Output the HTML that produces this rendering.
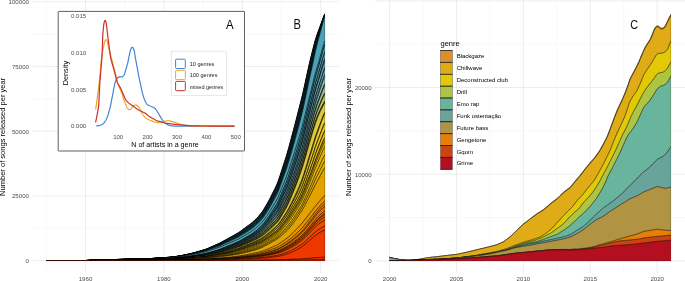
<!DOCTYPE html>
<html><head><meta charset="utf-8"><title>Figure</title>
<style>
html,body{margin:0;padding:0;background:#fff;}
body{width:685px;height:281px;overflow:hidden;font-family:"Liberation Sans", sans-serif;}
svg{display:block;font-family:"Liberation Sans", sans-serif;}
</style></head><body>
<svg width="685" height="281" viewBox="0 0 685 281">
<defs><filter id="tb" filterUnits="userSpaceOnUse" x="0" y="0" width="685" height="281"><feGaussianBlur stdDeviation="0.4"/></filter></defs>
<rect width="685" height="281" fill="#fff"/>
<line x1="32.3" x2="338.8" y1="260.50" y2="260.50" stroke="#E9E9E9" stroke-width="0.8"/>
<line x1="32.3" x2="338.8" y1="228.15" y2="228.15" stroke="#F3F3F3" stroke-width="0.55"/>
<line x1="32.3" x2="338.8" y1="195.80" y2="195.80" stroke="#E9E9E9" stroke-width="0.8"/>
<line x1="32.3" x2="338.8" y1="131.10" y2="131.10" stroke="#E9E9E9" stroke-width="0.8"/>
<line x1="32.3" x2="338.8" y1="98.75" y2="98.75" stroke="#F3F3F3" stroke-width="0.55"/>
<line x1="32.3" x2="338.8" y1="66.40" y2="66.40" stroke="#E9E9E9" stroke-width="0.8"/>
<line x1="32.3" x2="338.8" y1="34.05" y2="34.05" stroke="#F3F3F3" stroke-width="0.55"/>
<line x1="32.3" x2="338.8" y1="1.70" y2="1.70" stroke="#E9E9E9" stroke-width="0.8"/>
<line x1="46.30" x2="46.30" y1="0" y2="273" stroke="#F3F3F3" stroke-width="0.6"/>
<line x1="85.50" x2="85.50" y1="0" y2="273" stroke="#E9E9E9" stroke-width="0.8"/>
<line x1="124.70" x2="124.70" y1="0" y2="273" stroke="#F3F3F3" stroke-width="0.6"/>
<line x1="163.90" x2="163.90" y1="0" y2="273" stroke="#E9E9E9" stroke-width="0.8"/>
<line x1="203.10" x2="203.10" y1="0" y2="273" stroke="#F3F3F3" stroke-width="0.6"/>
<line x1="242.30" x2="242.30" y1="0" y2="273" stroke="#E9E9E9" stroke-width="0.8"/>
<line x1="281.50" x2="281.50" y1="0" y2="273" stroke="#F3F3F3" stroke-width="0.6"/>
<line x1="320.70" x2="320.70" y1="0" y2="273" stroke="#E9E9E9" stroke-width="0.8"/>
<clipPath id="cb"><rect x="46.1" y="0" width="278.75" height="260.6"/></clipPath>
<g clip-path="url(#cb)" stroke="#000" stroke-width="0.62" stroke-linejoin="round">
<path d="M45.7,260.6 49.7,260.6 53.7,260.6 57.7,260.6 61.7,260.6 65.7,260.6 69.7,260.6 73.7,260.6 77.7,260.5 81.7,260.5 85.7,260.5 89.7,260.4 93.7,260.3 97.7,260.2 101.7,260.1 105.7,259.9 109.7,259.7 113.7,259.6 117.7,259.4 121.7,259.3 125.7,259.2 129.7,259.1 133.7,259.0 137.7,258.9 141.7,258.8 145.7,258.7 149.7,258.6 153.7,258.3 157.7,258.1 161.7,257.8 165.7,257.5 169.7,257.2 173.7,256.8 177.7,256.2 181.7,255.5 185.7,254.6 189.7,253.8 193.7,252.8 197.7,251.7 201.7,250.5 203.2,250.0 204.7,249.6 206.2,249.1 207.7,248.5 209.2,247.8 210.7,247.1 212.2,246.5 213.7,245.8 215.2,245.1 216.7,244.5 218.2,243.8 219.7,243.1 221.2,242.3 222.7,241.4 224.2,240.6 225.7,239.8 227.2,239.0 228.7,238.1 230.2,237.3 231.7,236.5 233.2,235.7 234.7,234.8 236.2,233.9 237.7,233.1 239.2,232.1 240.7,231.1 242.2,229.9 243.7,228.8 245.2,227.7 246.7,226.6 248.2,225.5 249.7,224.4 251.2,223.3 252.7,222.0 254.2,220.6 255.7,219.2 257.2,217.7 258.7,216.1 260.2,214.2 261.7,212.3 263.2,210.2 264.7,207.7 266.2,205.2 267.7,202.6 269.2,199.9 270.7,197.0 272.2,193.9 273.7,190.9 275.2,187.9 276.7,184.7 278.2,181.0 279.7,176.5 281.2,171.9 282.7,167.2 284.2,162.6 285.7,157.9 287.2,153.1 288.7,147.7 290.2,142.1 291.7,136.5 293.2,130.9 294.7,125.2 296.2,119.4 297.7,113.5 299.2,107.6 300.7,101.7 302.2,95.7 303.7,89.2 305.2,82.4 306.7,75.5 308.2,68.6 309.7,61.9 311.2,55.8 312.7,49.8 314.2,43.8 315.7,38.5 317.2,34.1 318.7,30.0 320.2,26.0 321.7,21.9 323.2,17.9 324.7,13.9 330,13.9 330,266 42.7,266 42.7,260.6Z" fill="#3B9AB2"/>
<path d="M45.7,260.6 49.7,260.6 53.7,260.6 57.7,260.6 61.7,260.6 65.7,260.6 69.7,260.6 73.7,260.6 77.7,260.5 81.7,260.5 85.7,260.5 89.7,260.4 93.7,260.3 97.7,260.2 101.7,260.1 105.7,259.9 109.7,259.7 113.7,259.6 117.7,259.4 121.7,259.3 125.7,259.2 129.7,259.1 133.7,259.0 137.7,258.9 141.7,258.8 145.7,258.7 149.7,258.6 153.7,258.3 157.7,258.1 161.7,257.8 165.7,257.5 169.7,257.2 173.7,256.8 177.7,256.2 181.7,255.5 185.7,254.7 189.7,253.8 193.7,252.9 197.7,251.7 201.7,250.5 203.2,250.1 204.7,249.6 206.2,249.1 207.7,248.5 209.2,247.9 210.7,247.2 212.2,246.5 213.7,245.9 215.2,245.2 216.7,244.5 218.2,243.8 219.7,243.1 221.2,242.3 222.7,241.5 224.2,240.7 225.7,239.9 227.2,239.1 228.7,238.2 230.2,237.4 231.7,236.6 233.2,235.8 234.7,234.9 236.2,234.1 237.7,233.2 239.2,232.3 240.7,231.2 242.2,230.1 243.7,229.0 245.2,227.9 246.7,226.8 248.2,225.7 249.7,224.6 251.2,223.5 252.7,222.2 254.2,220.8 255.7,219.4 257.2,218.0 258.7,216.3 260.2,214.4 261.7,212.5 263.2,210.5 264.7,208.0 266.2,205.5 267.7,202.9 269.2,200.2 270.7,197.3 272.2,194.3 273.7,191.3 275.2,188.3 276.7,185.2 278.2,181.4 279.7,177.0 281.2,172.4 282.7,167.7 284.2,163.1 285.7,158.5 287.2,153.7 288.7,148.4 290.2,142.8 291.7,137.2 293.2,131.6 294.7,126.0 296.2,120.2 297.7,114.3 299.2,108.4 300.7,102.5 302.2,96.5 303.7,90.1 305.2,83.2 306.7,76.3 308.2,69.4 309.7,62.7 311.2,56.6 312.7,50.5 314.2,44.5 315.7,39.1 317.2,34.6 318.7,30.5 320.2,26.3 321.7,22.2 323.2,18.1 324.7,14.1 330,14.1 330,266 42.7,266 42.7,260.6Z" fill="#3C9AB2"/>
<path d="M45.7,260.6 49.7,260.6 53.7,260.6 57.7,260.6 61.7,260.6 65.7,260.6 69.7,260.6 73.7,260.6 77.7,260.5 81.7,260.5 85.7,260.5 89.7,260.4 93.7,260.3 97.7,260.2 101.7,260.1 105.7,259.9 109.7,259.7 113.7,259.6 117.7,259.5 121.7,259.3 125.7,259.2 129.7,259.1 133.7,259.0 137.7,258.9 141.7,258.8 145.7,258.7 149.7,258.6 153.7,258.3 157.7,258.1 161.7,257.9 165.7,257.6 169.7,257.2 173.7,256.8 177.7,256.3 181.7,255.6 185.7,254.7 189.7,253.9 193.7,252.9 197.7,251.8 201.7,250.6 203.2,250.2 204.7,249.7 206.2,249.2 207.7,248.6 209.2,248.0 210.7,247.3 212.2,246.6 213.7,246.0 215.2,245.3 216.7,244.7 218.2,244.0 219.7,243.3 221.2,242.5 222.7,241.7 224.2,240.9 225.7,240.1 227.2,239.3 228.7,238.4 230.2,237.6 231.7,236.8 233.2,236.0 234.7,235.1 236.2,234.3 237.7,233.4 239.2,232.5 240.7,231.5 242.2,230.4 243.7,229.2 245.2,228.1 246.7,227.0 248.2,226.0 249.7,224.9 251.2,223.8 252.7,222.5 254.2,221.1 255.7,219.7 257.2,218.3 258.7,216.6 260.2,214.8 261.7,212.9 263.2,210.8 264.7,208.4 266.2,205.9 267.7,203.3 269.2,200.6 270.7,197.7 272.2,194.7 273.7,191.7 275.2,188.7 276.7,185.6 278.2,181.9 279.7,177.5 281.2,172.9 282.7,168.3 284.2,163.7 285.7,159.1 287.2,154.3 288.7,149.0 290.2,143.4 291.7,137.9 293.2,132.3 294.7,126.7 296.2,120.9 297.7,115.0 299.2,109.2 300.7,103.3 302.2,97.3 303.7,90.8 305.2,83.9 306.7,77.0 308.2,70.1 309.7,63.4 311.2,57.2 312.7,51.1 314.2,45.1 315.7,39.6 317.2,35.0 318.7,30.8 320.2,26.6 321.7,22.5 323.2,18.3 324.7,14.2 330,14.2 330,266 42.7,266 42.7,260.6Z" fill="#3D9BB3"/>
<path d="M45.7,260.6 49.7,260.6 53.7,260.6 57.7,260.6 61.7,260.6 65.7,260.6 69.7,260.6 73.7,260.6 77.7,260.5 81.7,260.5 85.7,260.5 89.7,260.4 93.7,260.3 97.7,260.2 101.7,260.1 105.7,259.9 109.7,259.8 113.7,259.6 117.7,259.5 121.7,259.4 125.7,259.2 129.7,259.1 133.7,259.0 137.7,258.9 141.7,258.8 145.7,258.7 149.7,258.6 153.7,258.4 157.7,258.1 161.7,257.9 165.7,257.6 169.7,257.3 173.7,256.9 177.7,256.3 181.7,255.7 185.7,254.8 189.7,253.9 193.7,253.0 197.7,251.9 201.7,250.7 203.2,250.3 204.7,249.8 206.2,249.4 207.7,248.8 209.2,248.1 210.7,247.5 212.2,246.8 213.7,246.2 215.2,245.5 216.7,244.9 218.2,244.2 219.7,243.5 221.2,242.7 222.7,241.9 224.2,241.1 225.7,240.3 227.2,239.5 228.7,238.7 230.2,237.9 231.7,237.1 233.2,236.3 234.7,235.4 236.2,234.6 237.7,233.7 239.2,232.8 240.7,231.8 242.2,230.7 243.7,229.6 245.2,228.5 246.7,227.4 248.2,226.3 249.7,225.2 251.2,224.1 252.7,222.9 254.2,221.5 255.7,220.1 257.2,218.7 258.7,217.0 260.2,215.2 261.7,213.3 263.2,211.3 264.7,208.9 266.2,206.3 267.7,203.8 269.2,201.1 270.7,198.2 272.2,195.2 273.7,192.2 275.2,189.3 276.7,186.2 278.2,182.5 279.7,178.1 281.2,173.5 282.7,168.9 284.2,164.3 285.7,159.8 287.2,155.0 288.7,149.7 290.2,144.1 291.7,138.6 293.2,133.0 294.7,127.4 296.2,121.7 297.7,115.8 299.2,109.9 300.7,104.0 302.2,98.0 303.7,91.5 305.2,84.7 306.7,77.7 308.2,70.8 309.7,64.1 311.2,57.9 312.7,51.7 314.2,45.6 315.7,40.0 317.2,35.4 318.7,31.1 320.2,26.9 321.7,22.6 323.2,18.4 324.7,14.3 330,14.3 330,266 42.7,266 42.7,260.6Z" fill="#3E9BB3"/>
<path d="M45.7,260.6 49.7,260.6 53.7,260.6 57.7,260.6 61.7,260.6 65.7,260.6 69.7,260.6 73.7,260.6 77.7,260.5 81.7,260.5 85.7,260.5 89.7,260.4 93.7,260.3 97.7,260.2 101.7,260.1 105.7,259.9 109.7,259.8 113.7,259.6 117.7,259.5 121.7,259.4 125.7,259.3 129.7,259.1 133.7,259.0 137.7,258.9 141.7,258.8 145.7,258.7 149.7,258.6 153.7,258.4 157.7,258.1 161.7,257.9 165.7,257.6 169.7,257.3 173.7,256.9 177.7,256.3 181.7,255.7 185.7,254.8 189.7,254.0 193.7,253.1 197.7,251.9 201.7,250.8 203.2,250.3 204.7,249.9 206.2,249.4 207.7,248.8 209.2,248.2 210.7,247.5 212.2,246.9 213.7,246.2 215.2,245.6 216.7,244.9 218.2,244.3 219.7,243.6 221.2,242.8 222.7,242.0 224.2,241.2 225.7,240.4 227.2,239.6 228.7,238.8 230.2,238.0 231.7,237.2 233.2,236.4 234.7,235.6 236.2,234.7 237.7,233.9 239.2,233.0 240.7,232.0 242.2,230.9 243.7,229.8 245.2,228.7 246.7,227.6 248.2,226.6 249.7,225.5 251.2,224.4 252.7,223.1 254.2,221.8 255.7,220.4 257.2,219.0 258.7,217.4 260.2,215.5 261.7,213.7 263.2,211.6 264.7,209.2 266.2,206.7 267.7,204.2 269.2,201.6 270.7,198.7 272.2,195.7 273.7,192.7 275.2,189.8 276.7,186.7 278.2,183.0 279.7,178.6 281.2,174.1 282.7,169.6 284.2,165.0 285.7,160.5 287.2,155.7 288.7,150.5 290.2,145.0 291.7,139.4 293.2,133.9 294.7,128.3 296.2,122.6 297.7,116.8 299.2,110.9 300.7,105.0 302.2,99.0 303.7,92.5 305.2,85.7 306.7,78.7 308.2,71.8 309.7,65.1 311.2,58.8 312.7,52.6 314.2,46.4 315.7,40.7 317.2,36.1 318.7,31.7 320.2,27.3 321.7,23.0 323.2,18.7 324.7,14.5 330,14.5 330,266 42.7,266 42.7,260.6Z" fill="#3F9CB3"/>
<path d="M45.7,260.6 49.7,260.6 53.7,260.6 57.7,260.6 61.7,260.6 65.7,260.6 69.7,260.6 73.7,260.6 77.7,260.5 81.7,260.5 85.7,260.5 89.7,260.4 93.7,260.3 97.7,260.2 101.7,260.1 105.7,259.9 109.7,259.8 113.7,259.6 117.7,259.5 121.7,259.4 125.7,259.3 129.7,259.2 133.7,259.0 137.7,258.9 141.7,258.8 145.7,258.7 149.7,258.6 153.7,258.4 157.7,258.2 161.7,257.9 165.7,257.6 169.7,257.3 173.7,256.9 177.7,256.4 181.7,255.7 185.7,254.9 189.7,254.0 193.7,253.1 197.7,252.0 201.7,250.8 203.2,250.4 204.7,250.0 206.2,249.5 207.7,248.9 209.2,248.2 210.7,247.6 212.2,246.9 213.7,246.3 215.2,245.7 216.7,245.0 218.2,244.4 219.7,243.7 221.2,242.9 222.7,242.1 224.2,241.3 225.7,240.5 227.2,239.7 228.7,238.9 230.2,238.1 231.7,237.4 233.2,236.5 234.7,235.7 236.2,234.9 237.7,234.1 239.2,233.2 240.7,232.1 242.2,231.1 243.7,230.0 245.2,228.9 246.7,227.8 248.2,226.8 249.7,225.7 251.2,224.6 252.7,223.4 254.2,222.0 255.7,220.6 257.2,219.2 258.7,217.6 260.2,215.8 261.7,214.0 263.2,211.9 264.7,209.6 266.2,207.1 267.7,204.5 269.2,201.9 270.7,199.1 272.2,196.1 273.7,193.2 275.2,190.2 276.7,187.2 278.2,183.6 279.7,179.2 281.2,174.7 282.7,170.2 284.2,165.6 285.7,161.1 287.2,156.4 288.7,151.2 290.2,145.7 291.7,140.2 293.2,134.7 294.7,129.2 296.2,123.5 297.7,117.7 299.2,111.8 300.7,106.0 302.2,100.0 303.7,93.5 305.2,86.7 306.7,79.7 308.2,72.7 309.7,66.0 311.2,59.7 312.7,53.5 314.2,47.2 315.7,41.5 317.2,36.7 318.7,32.2 320.2,27.7 321.7,23.3 323.2,18.9 324.7,14.7 330,14.7 330,266 42.7,266 42.7,260.6Z" fill="#409CB3"/>
<path d="M45.7,260.6 49.7,260.6 53.7,260.6 57.7,260.6 61.7,260.6 65.7,260.6 69.7,260.6 73.7,260.5 77.7,260.5 81.7,260.5 85.7,260.5 89.7,260.4 93.7,260.3 97.7,260.2 101.7,260.1 105.7,259.9 109.7,259.8 113.7,259.6 117.7,259.5 121.7,259.4 125.7,259.3 129.7,259.2 133.7,259.1 137.7,259.0 141.7,258.8 145.7,258.7 149.7,258.6 153.7,258.4 157.7,258.2 161.7,257.9 165.7,257.6 169.7,257.3 173.7,256.9 177.7,256.4 181.7,255.7 185.7,254.9 189.7,254.1 193.7,253.2 197.7,252.0 201.7,250.9 203.2,250.5 204.7,250.0 206.2,249.6 207.7,249.0 209.2,248.3 210.7,247.7 212.2,247.0 213.7,246.4 215.2,245.8 216.7,245.1 218.2,244.5 219.7,243.8 221.2,243.0 222.7,242.2 224.2,241.5 225.7,240.7 227.2,239.9 228.7,239.1 230.2,238.3 231.7,237.5 233.2,236.7 234.7,235.9 236.2,235.1 237.7,234.3 239.2,233.4 240.7,232.4 242.2,231.3 243.7,230.2 245.2,229.1 246.7,228.1 248.2,227.0 249.7,226.0 251.2,224.9 252.7,223.7 254.2,222.3 255.7,221.0 257.2,219.6 258.7,218.0 260.2,216.1 261.7,214.3 263.2,212.3 264.7,209.9 266.2,207.4 267.7,204.9 269.2,202.3 270.7,199.5 272.2,196.6 273.7,193.6 275.2,190.7 276.7,187.7 278.2,184.1 279.7,179.7 281.2,175.2 282.7,170.7 284.2,166.3 285.7,161.8 287.2,157.1 288.7,151.9 290.2,146.5 291.7,141.0 293.2,135.5 294.7,130.0 296.2,124.3 297.7,118.5 299.2,112.7 300.7,106.8 302.2,100.8 303.7,94.4 305.2,87.5 306.7,80.5 308.2,73.6 309.7,66.8 311.2,60.5 312.7,54.2 314.2,47.9 315.7,42.1 317.2,37.2 318.7,32.6 320.2,28.1 321.7,23.6 323.2,19.2 324.7,14.8 330,14.8 330,266 42.7,266 42.7,260.6Z" fill="#409DB4"/>
<path d="M45.7,260.6 49.7,260.6 53.7,260.6 57.7,260.6 61.7,260.6 65.7,260.6 69.7,260.6 73.7,260.5 77.7,260.5 81.7,260.5 85.7,260.5 89.7,260.4 93.7,260.3 97.7,260.2 101.7,260.1 105.7,259.9 109.7,259.8 113.7,259.6 117.7,259.5 121.7,259.4 125.7,259.3 129.7,259.2 133.7,259.1 137.7,259.0 141.7,258.9 145.7,258.8 149.7,258.7 153.7,258.4 157.7,258.2 161.7,258.0 165.7,257.7 169.7,257.4 173.7,257.0 177.7,256.4 181.7,255.8 185.7,254.9 189.7,254.1 193.7,253.2 197.7,252.1 201.7,251.0 203.2,250.6 204.7,250.1 206.2,249.7 207.7,249.1 209.2,248.5 210.7,247.8 212.2,247.2 213.7,246.5 215.2,245.9 216.7,245.3 218.2,244.6 219.7,244.0 221.2,243.2 222.7,242.4 224.2,241.6 225.7,240.9 227.2,240.1 228.7,239.3 230.2,238.5 231.7,237.8 233.2,237.0 234.7,236.1 236.2,235.3 237.7,234.5 239.2,233.6 240.7,232.6 242.2,231.6 243.7,230.5 245.2,229.4 246.7,228.4 248.2,227.4 249.7,226.3 251.2,225.2 252.7,224.0 254.2,222.7 255.7,221.3 257.2,219.9 258.7,218.4 260.2,216.6 261.7,214.7 263.2,212.7 264.7,210.4 266.2,207.9 267.7,205.4 269.2,202.9 270.7,200.0 272.2,197.1 273.7,194.2 275.2,191.3 276.7,188.3 278.2,184.7 279.7,180.4 281.2,175.9 282.7,171.5 284.2,167.0 285.7,162.6 287.2,157.9 288.7,152.7 290.2,147.3 291.7,141.9 293.2,136.4 294.7,130.9 296.2,125.3 297.7,119.5 299.2,113.7 300.7,107.8 302.2,101.9 303.7,95.4 305.2,88.5 306.7,81.5 308.2,74.6 309.7,67.8 311.2,61.4 312.7,55.1 314.2,48.7 315.7,42.8 317.2,37.8 318.7,33.1 320.2,28.5 321.7,23.9 323.2,19.4 324.7,15.0 330,15.0 330,266 42.7,266 42.7,260.6Z" fill="#419DB4"/>
<path d="M45.7,260.6 49.7,260.6 53.7,260.6 57.7,260.6 61.7,260.6 65.7,260.6 69.7,260.6 73.7,260.5 77.7,260.5 81.7,260.5 85.7,260.5 89.7,260.4 93.7,260.3 97.7,260.2 101.7,260.1 105.7,259.9 109.7,259.8 113.7,259.6 117.7,259.5 121.7,259.4 125.7,259.3 129.7,259.2 133.7,259.1 137.7,259.0 141.7,258.9 145.7,258.8 149.7,258.7 153.7,258.5 157.7,258.2 161.7,258.0 165.7,257.7 169.7,257.4 173.7,257.0 177.7,256.5 181.7,255.8 185.7,255.0 189.7,254.2 193.7,253.3 197.7,252.2 201.7,251.1 203.2,250.7 204.7,250.3 206.2,249.8 207.7,249.2 209.2,248.6 210.7,248.0 212.2,247.4 213.7,246.7 215.2,246.1 216.7,245.5 218.2,244.9 219.7,244.2 221.2,243.4 222.7,242.7 224.2,241.9 225.7,241.1 227.2,240.4 228.7,239.6 230.2,238.8 231.7,238.1 233.2,237.3 234.7,236.5 236.2,235.7 237.7,234.9 239.2,234.0 240.7,233.0 242.2,231.9 243.7,230.9 245.2,229.8 246.7,228.8 248.2,227.8 249.7,226.8 251.2,225.7 252.7,224.5 254.2,223.2 255.7,221.8 257.2,220.4 258.7,218.9 260.2,217.1 261.7,215.3 263.2,213.3 264.7,211.0 266.2,208.5 267.7,206.1 269.2,203.5 270.7,200.7 272.2,197.8 273.7,194.9 275.2,192.0 276.7,189.0 278.2,185.5 279.7,181.2 281.2,176.8 282.7,172.4 284.2,167.9 285.7,163.5 287.2,158.9 288.7,153.8 290.2,148.4 291.7,143.0 293.2,137.6 294.7,132.1 296.2,126.5 297.7,120.7 299.2,114.9 300.7,109.1 302.2,103.1 303.7,96.6 305.2,89.7 306.7,82.7 308.2,75.7 309.7,68.9 311.2,62.5 312.7,56.1 314.2,49.6 315.7,43.6 317.2,38.5 318.7,33.7 320.2,29.0 321.7,24.3 323.2,19.7 324.7,15.2 330,15.2 330,266 42.7,266 42.7,260.6Z" fill="#429DB4"/>
<path d="M45.7,260.6 49.7,260.6 53.7,260.6 57.7,260.6 61.7,260.6 65.7,260.6 69.7,260.6 73.7,260.5 77.7,260.5 81.7,260.5 85.7,260.5 89.7,260.4 93.7,260.3 97.7,260.2 101.7,260.1 105.7,259.9 109.7,259.8 113.7,259.6 117.7,259.5 121.7,259.4 125.7,259.3 129.7,259.2 133.7,259.1 137.7,259.0 141.7,258.9 145.7,258.8 149.7,258.7 153.7,258.5 157.7,258.2 161.7,258.0 165.7,257.7 169.7,257.4 173.7,257.0 177.7,256.5 181.7,255.9 185.7,255.0 189.7,254.2 193.7,253.4 197.7,252.3 201.7,251.2 203.2,250.7 204.7,250.3 206.2,249.9 207.7,249.3 209.2,248.7 210.7,248.0 212.2,247.4 213.7,246.8 215.2,246.2 216.7,245.5 218.2,244.9 219.7,244.3 221.2,243.5 222.7,242.8 224.2,242.0 225.7,241.2 227.2,240.5 228.7,239.7 230.2,239.0 231.7,238.2 233.2,237.4 234.7,236.6 236.2,235.8 237.7,235.0 239.2,234.2 240.7,233.2 242.2,232.1 243.7,231.1 245.2,230.1 246.7,229.1 248.2,228.0 249.7,227.0 251.2,226.0 252.7,224.8 254.2,223.4 255.7,222.1 257.2,220.8 258.7,219.2 260.2,217.4 261.7,215.6 263.2,213.7 264.7,211.4 266.2,208.9 267.7,206.5 269.2,204.0 270.7,201.2 272.2,198.3 273.7,195.5 275.2,192.6 276.7,189.6 278.2,186.1 279.7,181.9 281.2,177.5 282.7,173.1 284.2,168.7 285.7,164.4 287.2,159.8 288.7,154.7 290.2,149.4 291.7,144.0 293.2,138.6 294.7,133.2 296.2,127.6 297.7,121.9 299.2,116.2 300.7,110.3 302.2,104.4 303.7,97.9 305.2,91.0 306.7,84.0 308.2,77.0 309.7,70.2 311.2,63.8 312.7,57.3 314.2,50.7 315.7,44.6 317.2,39.4 318.7,34.4 320.2,29.6 321.7,24.7 323.2,20.0 324.7,15.4 330,15.4 330,266 42.7,266 42.7,260.6Z" fill="#439EB5"/>
<path d="M45.7,260.6 49.7,260.6 53.7,260.6 57.7,260.6 61.7,260.6 65.7,260.6 69.7,260.6 73.7,260.5 77.7,260.5 81.7,260.5 85.7,260.5 89.7,260.4 93.7,260.3 97.7,260.2 101.7,260.1 105.7,260.0 109.7,259.8 113.7,259.6 117.7,259.5 121.7,259.4 125.7,259.3 129.7,259.2 133.7,259.1 137.7,259.0 141.7,258.9 145.7,258.8 149.7,258.7 153.7,258.5 157.7,258.2 161.7,258.0 165.7,257.7 169.7,257.4 173.7,257.0 177.7,256.5 181.7,255.9 185.7,255.1 189.7,254.3 193.7,253.4 197.7,252.3 201.7,251.2 203.2,250.8 204.7,250.4 206.2,249.9 207.7,249.3 209.2,248.7 210.7,248.1 212.2,247.5 213.7,246.8 215.2,246.2 216.7,245.6 218.2,245.0 219.7,244.3 221.2,243.6 222.7,242.9 224.2,242.1 225.7,241.3 227.2,240.6 228.7,239.8 230.2,239.1 231.7,238.3 233.2,237.6 234.7,236.8 236.2,236.0 237.7,235.2 239.2,234.4 240.7,233.4 242.2,232.4 243.7,231.3 245.2,230.3 246.7,229.3 248.2,228.3 249.7,227.3 251.2,226.3 252.7,225.1 254.2,223.8 255.7,222.5 257.2,221.1 258.7,219.6 260.2,217.8 261.7,216.1 263.2,214.1 264.7,211.8 266.2,209.4 267.7,207.0 269.2,204.5 270.7,201.8 272.2,199.0 273.7,196.1 275.2,193.3 276.7,190.4 278.2,186.9 279.7,182.7 281.2,178.3 282.7,174.0 284.2,169.7 285.7,165.4 287.2,160.9 288.7,155.8 290.2,150.6 291.7,145.2 293.2,139.9 294.7,134.5 296.2,129.0 297.7,123.4 299.2,117.6 300.7,111.8 302.2,105.9 303.7,99.5 305.2,92.6 306.7,85.6 308.2,78.6 309.7,71.7 311.2,65.2 312.7,58.7 314.2,52.0 315.7,45.7 317.2,40.4 318.7,35.3 320.2,30.3 321.7,25.3 323.2,20.4 324.7,15.8 330,15.8 330,266 42.7,266 42.7,260.6Z" fill="#449EB5"/>
<path d="M45.7,260.6 49.7,260.6 53.7,260.6 57.7,260.6 61.7,260.6 65.7,260.6 69.7,260.6 73.7,260.5 77.7,260.5 81.7,260.5 85.7,260.5 89.7,260.4 93.7,260.3 97.7,260.2 101.7,260.1 105.7,260.0 109.7,259.8 113.7,259.6 117.7,259.5 121.7,259.4 125.7,259.3 129.7,259.2 133.7,259.1 137.7,259.0 141.7,258.9 145.7,258.8 149.7,258.7 153.7,258.5 157.7,258.3 161.7,258.0 165.7,257.8 169.7,257.5 173.7,257.1 177.7,256.6 181.7,255.9 185.7,255.1 189.7,254.3 193.7,253.5 197.7,252.4 201.7,251.3 203.2,250.9 204.7,250.5 206.2,250.0 207.7,249.5 209.2,248.9 210.7,248.2 212.2,247.6 213.7,247.0 215.2,246.4 216.7,245.8 218.2,245.2 219.7,244.5 221.2,243.8 222.7,243.1 224.2,242.3 225.7,241.6 227.2,240.8 228.7,240.1 230.2,239.3 231.7,238.6 233.2,237.8 234.7,237.1 236.2,236.3 237.7,235.5 239.2,234.7 240.7,233.7 242.2,232.7 243.7,231.7 245.2,230.7 246.7,229.7 248.2,228.7 249.7,227.7 251.2,226.7 252.7,225.5 254.2,224.2 255.7,222.9 257.2,221.6 258.7,220.0 260.2,218.3 261.7,216.5 263.2,214.6 264.7,212.4 266.2,210.0 267.7,207.6 269.2,205.1 270.7,202.4 272.2,199.6 273.7,196.8 275.2,193.9 276.7,191.0 278.2,187.6 279.7,183.4 281.2,179.1 282.7,174.8 284.2,170.5 285.7,166.3 287.2,161.8 288.7,156.8 290.2,151.6 291.7,146.3 293.2,141.0 294.7,135.6 296.2,130.1 297.7,124.5 299.2,118.8 300.7,113.0 302.2,107.1 303.7,100.6 305.2,93.7 306.7,86.7 308.2,79.7 309.7,72.8 311.2,66.3 312.7,59.7 314.2,52.9 315.7,46.5 317.2,41.1 318.7,35.9 320.2,30.7 321.7,25.7 323.2,20.7 324.7,16.0 330,16.0 330,266 42.7,266 42.7,260.6Z" fill="#459FB5"/>
<path d="M45.7,260.6 49.7,260.6 53.7,260.6 57.7,260.6 61.7,260.6 65.7,260.6 69.7,260.6 73.7,260.5 77.7,260.5 81.7,260.5 85.7,260.5 89.7,260.4 93.7,260.3 97.7,260.2 101.7,260.1 105.7,260.0 109.7,259.8 113.7,259.7 117.7,259.5 121.7,259.4 125.7,259.3 129.7,259.2 133.7,259.1 137.7,259.0 141.7,258.9 145.7,258.8 149.7,258.7 153.7,258.5 157.7,258.3 161.7,258.1 165.7,257.8 169.7,257.5 173.7,257.1 177.7,256.6 181.7,256.0 185.7,255.2 189.7,254.4 193.7,253.5 197.7,252.5 201.7,251.4 203.2,251.0 204.7,250.6 206.2,250.1 207.7,249.6 209.2,249.0 210.7,248.4 212.2,247.8 213.7,247.1 215.2,246.5 216.7,245.9 218.2,245.3 219.7,244.7 221.2,244.0 222.7,243.2 224.2,242.5 225.7,241.7 227.2,241.0 228.7,240.3 230.2,239.5 231.7,238.8 233.2,238.0 234.7,237.3 236.2,236.5 237.7,235.7 239.2,234.9 240.7,233.9 242.2,232.9 243.7,231.9 245.2,230.9 246.7,229.9 248.2,229.0 249.7,228.0 251.2,226.9 252.7,225.8 254.2,224.5 255.7,223.2 257.2,221.9 258.7,220.3 260.2,218.6 261.7,216.9 263.2,214.9 264.7,212.7 266.2,210.3 267.7,207.9 269.2,205.5 270.7,202.8 272.2,200.0 273.7,197.1 275.2,194.3 276.7,191.4 278.2,188.0 279.7,183.8 281.2,179.6 282.7,175.3 284.2,171.0 285.7,166.7 287.2,162.3 288.7,157.3 290.2,152.1 291.7,146.8 293.2,141.5 294.7,136.2 296.2,130.7 297.7,125.0 299.2,119.3 300.7,113.6 302.2,107.6 303.7,101.1 305.2,94.2 306.7,87.2 308.2,80.2 309.7,73.3 311.2,66.7 312.7,60.1 314.2,53.3 315.7,46.9 317.2,41.3 318.7,36.1 320.2,30.9 321.7,25.8 323.2,20.8 324.7,16.0 330,16.0 330,266 42.7,266 42.7,260.6Z" fill="#469FB5"/>
<path d="M45.7,260.6 49.7,260.6 53.7,260.6 57.7,260.6 61.7,260.6 65.7,260.6 69.7,260.6 73.7,260.5 77.7,260.5 81.7,260.5 85.7,260.5 89.7,260.4 93.7,260.3 97.7,260.2 101.7,260.1 105.7,260.0 109.7,259.8 113.7,259.7 117.7,259.6 121.7,259.5 125.7,259.4 129.7,259.3 133.7,259.2 137.7,259.1 141.7,259.0 145.7,258.9 149.7,258.8 153.7,258.6 157.7,258.3 161.7,258.1 165.7,257.8 169.7,257.5 173.7,257.2 177.7,256.7 181.7,256.1 185.7,255.3 189.7,254.5 193.7,253.7 197.7,252.6 201.7,251.5 203.2,251.2 204.7,250.8 206.2,250.3 207.7,249.8 209.2,249.2 210.7,248.6 212.2,248.0 213.7,247.4 215.2,246.8 216.7,246.2 218.2,245.6 219.7,245.0 221.2,244.3 222.7,243.5 224.2,242.8 225.7,242.1 227.2,241.3 228.7,240.6 230.2,239.9 231.7,239.2 233.2,238.4 234.7,237.7 236.2,236.9 237.7,236.2 239.2,235.3 240.7,234.4 242.2,233.4 243.7,232.4 245.2,231.4 246.7,230.5 248.2,229.5 249.7,228.5 251.2,227.5 252.7,226.3 254.2,225.1 255.7,223.8 257.2,222.5 258.7,221.0 260.2,219.3 261.7,217.5 263.2,215.6 264.7,213.4 266.2,211.1 267.7,208.7 269.2,206.3 270.7,203.6 272.2,200.8 273.7,198.0 275.2,195.2 276.7,192.4 278.2,189.0 279.7,184.8 281.2,180.6 282.7,176.4 284.2,172.2 285.7,167.9 287.2,163.5 288.7,158.6 290.2,153.4 291.7,148.2 293.2,142.9 294.7,137.6 296.2,132.1 297.7,126.5 299.2,120.9 300.7,115.1 302.2,109.1 303.7,102.7 305.2,95.7 306.7,88.7 308.2,81.6 309.7,74.7 311.2,68.1 312.7,61.4 314.2,54.4 315.7,47.9 317.2,42.2 318.7,36.8 320.2,31.5 321.7,26.3 323.2,21.1 324.7,16.3 330,16.3 330,266 42.7,266 42.7,260.6Z" fill="#47A0B6"/>
<path d="M45.7,260.6 49.7,260.6 53.7,260.6 57.7,260.6 61.7,260.6 65.7,260.6 69.7,260.6 73.7,260.5 77.7,260.5 81.7,260.5 85.7,260.5 89.7,260.4 93.7,260.3 97.7,260.2 101.7,260.1 105.7,260.0 109.7,259.8 113.7,259.7 117.7,259.6 121.7,259.5 125.7,259.4 129.7,259.3 133.7,259.2 137.7,259.1 141.7,259.0 145.7,258.9 149.7,258.8 153.7,258.6 157.7,258.4 161.7,258.1 165.7,257.9 169.7,257.6 173.7,257.2 177.7,256.7 181.7,256.1 185.7,255.3 189.7,254.6 193.7,253.8 197.7,252.7 201.7,251.7 203.2,251.3 204.7,250.9 206.2,250.5 207.7,249.9 209.2,249.3 210.7,248.7 212.2,248.1 213.7,247.6 215.2,247.0 216.7,246.4 218.2,245.8 219.7,245.2 221.2,244.5 222.7,243.7 224.2,243.0 225.7,242.3 227.2,241.6 228.7,240.9 230.2,240.1 231.7,239.4 233.2,238.7 234.7,237.9 236.2,237.2 237.7,236.4 239.2,235.6 240.7,234.7 242.2,233.7 243.7,232.7 245.2,231.8 246.7,230.8 248.2,229.8 249.7,228.9 251.2,227.9 252.7,226.7 254.2,225.5 255.7,224.2 257.2,222.9 258.7,221.4 260.2,219.7 261.7,217.9 263.2,216.1 264.7,213.8 266.2,211.5 267.7,209.2 269.2,206.7 270.7,204.0 272.2,201.3 273.7,198.5 275.2,195.7 276.7,192.9 278.2,189.5 279.7,185.4 281.2,181.2 282.7,177.0 284.2,172.8 285.7,168.5 287.2,164.1 288.7,159.2 290.2,154.1 291.7,148.8 293.2,143.6 294.7,138.3 296.2,132.8 297.7,127.2 299.2,121.6 300.7,115.8 302.2,109.8 303.7,103.3 305.2,96.4 306.7,89.4 308.2,82.3 309.7,75.3 311.2,68.7 312.7,61.9 314.2,54.9 315.7,48.3 317.2,42.6 318.7,37.1 320.2,31.7 321.7,26.4 323.2,21.3 324.7,16.4 330,16.4 330,266 42.7,266 42.7,260.6Z" fill="#48A0B6"/>
<path d="M45.7,260.6 49.7,260.6 53.7,260.6 57.7,260.6 61.7,260.6 65.7,260.6 69.7,260.6 73.7,260.5 77.7,260.5 81.7,260.5 85.7,260.5 89.7,260.4 93.7,260.3 97.7,260.2 101.7,260.1 105.7,260.0 109.7,259.8 113.7,259.7 117.7,259.6 121.7,259.5 125.7,259.4 129.7,259.3 133.7,259.2 137.7,259.1 141.7,259.0 145.7,258.9 149.7,258.8 153.7,258.6 157.7,258.4 161.7,258.2 165.7,257.9 169.7,257.6 173.7,257.2 177.7,256.8 181.7,256.2 185.7,255.4 189.7,254.6 193.7,253.8 197.7,252.8 201.7,251.7 203.2,251.4 204.7,251.0 206.2,250.5 207.7,250.0 209.2,249.4 210.7,248.8 212.2,248.2 213.7,247.7 215.2,247.1 216.7,246.5 218.2,245.9 219.7,245.3 221.2,244.6 222.7,243.9 224.2,243.2 225.7,242.5 227.2,241.7 228.7,241.0 230.2,240.3 231.7,239.6 233.2,238.9 234.7,238.1 236.2,237.4 237.7,236.6 239.2,235.9 240.7,234.9 242.2,234.0 243.7,233.0 245.2,232.0 246.7,231.1 248.2,230.1 249.7,229.2 251.2,228.2 252.7,227.0 254.2,225.8 255.7,224.5 257.2,223.2 258.7,221.7 260.2,220.0 261.7,218.3 263.2,216.4 264.7,214.2 266.2,211.9 267.7,209.6 269.2,207.1 270.7,204.5 272.2,201.8 273.7,199.0 275.2,196.2 276.7,193.4 278.2,190.0 279.7,185.9 281.2,181.8 282.7,177.6 284.2,173.4 285.7,169.2 287.2,164.9 288.7,160.0 290.2,154.8 291.7,149.6 293.2,144.4 294.7,139.1 296.2,133.7 297.7,128.1 299.2,122.5 300.7,116.7 302.2,110.7 303.7,104.3 305.2,97.3 306.7,90.3 308.2,83.2 309.7,76.2 311.2,69.5 312.7,62.7 314.2,55.6 315.7,48.9 317.2,43.1 318.7,37.6 320.2,32.1 321.7,26.7 323.2,21.5 324.7,16.5 330,16.5 330,266 42.7,266 42.7,260.6Z" fill="#49A1B6"/>
<path d="M45.7,260.6 49.7,260.6 53.7,260.6 57.7,260.6 61.7,260.6 65.7,260.6 69.7,260.6 73.7,260.5 77.7,260.5 81.7,260.5 85.7,260.5 89.7,260.4 93.7,260.3 97.7,260.2 101.7,260.1 105.7,260.0 109.7,259.8 113.7,259.7 117.7,259.6 121.7,259.5 125.7,259.4 129.7,259.3 133.7,259.2 137.7,259.1 141.7,259.0 145.7,258.9 149.7,258.8 153.7,258.6 157.7,258.4 161.7,258.2 165.7,257.9 169.7,257.6 173.7,257.3 177.7,256.8 181.7,256.2 185.7,255.4 189.7,254.7 193.7,253.9 197.7,252.8 201.7,251.8 203.2,251.4 204.7,251.0 206.2,250.6 207.7,250.1 209.2,249.5 210.7,248.9 212.2,248.3 213.7,247.8 215.2,247.2 216.7,246.6 218.2,246.0 219.7,245.4 221.2,244.7 222.7,244.0 224.2,243.3 225.7,242.6 227.2,241.9 228.7,241.2 230.2,240.5 231.7,239.8 233.2,239.0 234.7,238.3 236.2,237.6 237.7,236.8 239.2,236.0 240.7,235.1 242.2,234.1 243.7,233.2 245.2,232.2 246.7,231.3 248.2,230.3 249.7,229.4 251.2,228.4 252.7,227.2 254.2,226.0 255.7,224.7 257.2,223.4 258.7,221.9 260.2,220.3 261.7,218.5 263.2,216.7 264.7,214.5 266.2,212.2 267.7,209.9 269.2,207.4 270.7,204.8 272.2,202.1 273.7,199.3 275.2,196.6 276.7,193.8 278.2,190.4 279.7,186.3 281.2,182.2 282.7,178.0 284.2,173.8 285.7,169.7 287.2,165.3 288.7,160.4 290.2,155.3 291.7,150.1 293.2,144.9 294.7,139.6 296.2,134.2 297.7,128.7 299.2,123.0 300.7,117.2 302.2,111.3 303.7,104.8 305.2,97.8 306.7,90.8 308.2,83.7 309.7,76.7 311.2,70.0 312.7,63.1 314.2,56.0 315.7,49.3 317.2,43.4 318.7,37.8 320.2,32.3 321.7,26.9 323.2,21.6 324.7,16.6 330,16.6 330,266 42.7,266 42.7,260.6Z" fill="#4AA1B7"/>
<path d="M45.7,260.6 49.7,260.6 53.7,260.6 57.7,260.6 61.7,260.6 65.7,260.6 69.7,260.5 73.7,260.5 77.7,260.5 81.7,260.5 85.7,260.5 89.7,260.4 93.7,260.3 97.7,260.3 101.7,260.1 105.7,260.0 109.7,259.9 113.7,259.7 117.7,259.6 121.7,259.5 125.7,259.4 129.7,259.3 133.7,259.2 137.7,259.1 141.7,259.1 145.7,259.0 149.7,258.9 153.7,258.7 157.7,258.5 161.7,258.2 165.7,258.0 169.7,257.7 173.7,257.4 177.7,256.9 181.7,256.3 185.7,255.6 189.7,254.8 193.7,254.1 197.7,253.1 201.7,252.1 203.2,251.7 204.7,251.3 206.2,250.9 207.7,250.4 209.2,249.8 210.7,249.3 212.2,248.7 213.7,248.1 215.2,247.6 216.7,247.0 218.2,246.5 219.7,245.9 221.2,245.2 222.7,244.5 224.2,243.8 225.7,243.1 227.2,242.4 228.7,241.7 230.2,241.0 231.7,240.3 233.2,239.6 234.7,238.9 236.2,238.2 237.7,237.5 239.2,236.7 240.7,235.8 242.2,234.8 243.7,233.9 245.2,232.9 246.7,232.0 248.2,231.1 249.7,230.1 251.2,229.2 252.7,228.0 254.2,226.8 255.7,225.5 257.2,224.3 258.7,222.8 260.2,221.1 261.7,219.4 263.2,217.6 264.7,215.4 266.2,213.1 267.7,210.8 269.2,208.4 270.7,205.8 272.2,203.1 273.7,200.4 275.2,197.6 276.7,194.8 278.2,191.5 279.7,187.5 281.2,183.3 282.7,179.2 284.2,175.1 285.7,170.9 287.2,166.6 288.7,161.8 290.2,156.7 291.7,151.5 293.2,146.3 294.7,141.1 296.2,135.7 297.7,130.1 299.2,124.5 300.7,118.7 302.2,112.7 303.7,106.2 305.2,99.2 306.7,92.1 308.2,84.9 309.7,77.9 311.2,71.1 312.7,64.2 314.2,57.0 315.7,50.1 317.2,44.1 318.7,38.4 320.2,32.8 321.7,27.2 323.2,21.8 324.7,16.8 330,16.8 330,266 42.7,266 42.7,260.6Z" fill="#4CA2B7"/>
<path d="M45.7,260.6 49.7,260.6 53.7,260.6 57.7,260.6 61.7,260.6 65.7,260.6 69.7,260.5 73.7,260.5 77.7,260.5 81.7,260.5 85.7,260.5 89.7,260.4 93.7,260.4 97.7,260.3 101.7,260.2 105.7,260.0 109.7,259.9 113.7,259.8 117.7,259.7 121.7,259.6 125.7,259.5 129.7,259.4 133.7,259.3 137.7,259.3 141.7,259.2 145.7,259.1 149.7,259.0 153.7,258.8 157.7,258.6 161.7,258.4 165.7,258.2 169.7,258.0 173.7,257.6 177.7,257.2 181.7,256.7 185.7,256.0 189.7,255.3 193.7,254.6 197.7,253.7 201.7,252.8 203.2,252.4 204.7,252.1 206.2,251.7 207.7,251.2 209.2,250.7 210.7,250.2 212.2,249.7 213.7,249.2 215.2,248.7 216.7,248.1 218.2,247.6 219.7,247.1 221.2,246.5 222.7,245.8 224.2,245.2 225.7,244.6 227.2,243.9 228.7,243.3 230.2,242.6 231.7,242.0 233.2,241.4 234.7,240.7 236.2,240.0 237.7,239.3 239.2,238.6 240.7,237.8 242.2,236.9 243.7,236.0 245.2,235.1 246.7,234.2 248.2,233.4 249.7,232.5 251.2,231.6 252.7,230.5 254.2,229.4 255.7,228.2 257.2,227.0 258.7,225.7 260.2,224.1 261.7,222.6 263.2,220.8 264.7,218.8 266.2,216.7 267.7,214.6 269.2,212.4 270.7,210.0 272.2,207.5 273.7,205.0 275.2,202.6 276.7,200.0 278.2,197.0 279.7,193.3 281.2,189.6 282.7,185.9 284.2,182.2 285.7,178.5 287.2,174.6 288.7,170.2 290.2,165.6 291.7,161.0 293.2,156.3 294.7,151.6 296.2,146.7 297.7,141.7 299.2,136.7 300.7,131.5 302.2,126.2 303.7,120.4 305.2,114.2 306.7,108.0 308.2,101.7 309.7,95.5 311.2,89.6 312.7,83.7 314.2,77.6 315.7,71.9 317.2,66.9 318.7,61.9 320.2,56.7 321.7,51.3 323.2,46.0 324.7,41.0 330,41.0 330,266 42.7,266 42.7,260.6Z" fill="#4FA3B8"/>
<path d="M45.7,260.6 49.7,260.6 53.7,260.6 57.7,260.5 61.7,260.5 65.7,260.5 69.7,260.5 73.7,260.5 77.7,260.5 81.7,260.5 85.7,260.5 89.7,260.4 93.7,260.4 97.7,260.3 101.7,260.2 105.7,260.1 109.7,260.0 113.7,259.9 117.7,259.8 121.7,259.8 125.7,259.7 129.7,259.6 133.7,259.6 137.7,259.5 141.7,259.4 145.7,259.4 149.7,259.3 153.7,259.1 157.7,259.0 161.7,258.8 165.7,258.7 169.7,258.5 173.7,258.2 177.7,257.8 181.7,257.4 185.7,256.9 189.7,256.3 193.7,255.8 197.7,255.0 201.7,254.3 203.2,254.0 204.7,253.7 206.2,253.4 207.7,253.0 209.2,252.6 210.7,252.1 212.2,251.7 213.7,251.2 215.2,250.8 216.7,250.3 218.2,249.8 219.7,249.3 221.2,248.7 222.7,248.1 224.2,247.6 225.7,246.9 227.2,246.3 228.7,245.7 230.2,245.1 231.7,244.5 233.2,243.9 234.7,243.2 236.2,242.5 237.7,241.9 239.2,241.2 240.7,240.3 242.2,239.5 243.7,238.6 245.2,237.7 246.7,236.9 248.2,236.0 249.7,235.1 251.2,234.2 252.7,233.2 254.2,232.1 255.7,231.0 257.2,229.9 258.7,228.6 260.2,227.1 261.7,225.6 263.2,224.0 264.7,222.1 266.2,220.0 267.7,218.0 269.2,215.9 270.7,213.6 272.2,211.3 273.7,209.0 275.2,206.6 276.7,204.2 278.2,201.3 279.7,197.9 281.2,194.3 282.7,190.7 284.2,187.2 285.7,183.6 287.2,179.8 288.7,175.5 290.2,171.0 291.7,166.4 293.2,161.8 294.7,157.0 296.2,152.2 297.7,147.2 299.2,142.1 300.7,136.9 302.2,131.5 303.7,125.6 305.2,119.4 306.7,113.0 308.2,106.6 309.7,100.3 311.2,94.3 312.7,88.2 314.2,82.0 315.7,76.2 317.2,71.0 318.7,65.9 320.2,60.5 321.7,55.0 323.2,49.6 324.7,44.5 330,44.5 330,266 42.7,266 42.7,260.6Z" fill="#52A5B9"/>
<path d="M45.7,260.6 49.7,260.6 53.7,260.6 57.7,260.5 61.7,260.5 65.7,260.5 69.7,260.5 73.7,260.5 77.7,260.5 81.7,260.5 85.7,260.5 89.7,260.4 93.7,260.4 97.7,260.3 101.7,260.2 105.7,260.1 109.7,260.0 113.7,259.9 117.7,259.9 121.7,259.8 125.7,259.7 129.7,259.6 133.7,259.6 137.7,259.5 141.7,259.4 145.7,259.4 149.7,259.3 153.7,259.2 157.7,259.0 161.7,258.9 165.7,258.7 169.7,258.5 173.7,258.2 177.7,257.9 181.7,257.5 185.7,256.9 189.7,256.4 193.7,255.8 197.7,255.1 201.7,254.4 203.2,254.1 204.7,253.8 206.2,253.5 207.7,253.1 209.2,252.7 210.7,252.3 212.2,251.8 213.7,251.4 215.2,250.9 216.7,250.5 218.2,250.0 219.7,249.5 221.2,248.9 222.7,248.3 224.2,247.7 225.7,247.1 227.2,246.5 228.7,245.9 230.2,245.3 231.7,244.7 233.2,244.0 234.7,243.4 236.2,242.7 237.7,242.0 239.2,241.3 240.7,240.5 242.2,239.7 243.7,238.8 245.2,237.9 246.7,237.0 248.2,236.2 249.7,235.3 251.2,234.4 252.7,233.4 254.2,232.3 255.7,231.2 257.2,230.1 258.7,228.8 260.2,227.3 261.7,225.8 263.2,224.2 264.7,222.3 266.2,220.3 267.7,218.3 269.2,216.2 270.7,213.9 272.2,211.6 273.7,209.2 275.2,206.9 276.7,204.5 278.2,201.7 279.7,198.2 281.2,194.7 282.7,191.1 284.2,187.5 285.7,183.9 287.2,180.2 288.7,175.9 290.2,171.4 291.7,166.8 293.2,162.2 294.7,157.5 296.2,152.6 297.7,147.6 299.2,142.5 300.7,137.3 302.2,131.9 303.7,126.0 305.2,119.8 306.7,113.4 308.2,107.0 309.7,100.7 311.2,94.7 312.7,88.6 314.2,82.4 315.7,76.6 317.2,71.4 318.7,66.2 320.2,60.9 321.7,55.4 323.2,49.9 324.7,44.9 330,44.9 330,266 42.7,266 42.7,260.6Z" fill="#56A7BB"/>
<path d="M45.7,260.6 49.7,260.6 53.7,260.6 57.7,260.5 61.7,260.5 65.7,260.5 69.7,260.5 73.7,260.5 77.7,260.5 81.7,260.5 85.7,260.5 89.7,260.4 93.7,260.4 97.7,260.3 101.7,260.2 105.7,260.2 109.7,260.1 113.7,260.0 117.7,259.9 121.7,259.8 125.7,259.7 129.7,259.7 133.7,259.6 137.7,259.6 141.7,259.5 145.7,259.4 149.7,259.4 153.7,259.2 157.7,259.1 161.7,258.9 165.7,258.8 169.7,258.6 173.7,258.3 177.7,258.0 181.7,257.6 185.7,257.1 189.7,256.5 193.7,256.0 197.7,255.3 201.7,254.6 203.2,254.3 204.7,254.1 206.2,253.8 207.7,253.4 209.2,253.0 210.7,252.5 212.2,252.1 213.7,251.7 215.2,251.2 216.7,250.8 218.2,250.3 219.7,249.8 221.2,249.3 222.7,248.7 224.2,248.1 225.7,247.5 227.2,246.9 228.7,246.4 230.2,245.8 231.7,245.2 233.2,244.5 234.7,243.9 236.2,243.3 237.7,242.6 239.2,241.9 240.7,241.1 242.2,240.3 243.7,239.4 245.2,238.6 246.7,237.7 248.2,236.9 249.7,236.1 251.2,235.2 252.7,234.2 254.2,233.2 255.7,232.1 257.2,231.0 258.7,229.8 260.2,228.4 261.7,226.9 263.2,225.4 264.7,223.5 266.2,221.6 267.7,219.6 269.2,217.6 270.7,215.4 272.2,213.2 273.7,211.0 275.2,208.8 276.7,206.6 278.2,203.8 279.7,200.6 281.2,197.2 282.7,193.8 284.2,190.4 285.7,186.9 287.2,183.3 288.7,179.3 290.2,175.0 291.7,170.5 293.2,166.0 294.7,161.4 296.2,156.7 297.7,151.9 299.2,146.9 300.7,141.8 302.2,136.6 303.7,130.9 305.2,124.7 306.7,118.5 308.2,112.2 309.7,106.0 311.2,100.1 312.7,94.2 314.2,88.1 315.7,82.3 317.2,77.2 318.7,72.2 320.2,67.1 321.7,61.8 323.2,56.6 324.7,51.8 330,51.8 330,266 42.7,266 42.7,260.6Z" fill="#5AA9BC"/>
<path d="M45.7,260.6 49.7,260.6 53.7,260.6 57.7,260.5 61.7,260.5 65.7,260.5 69.7,260.5 73.7,260.5 77.7,260.5 81.7,260.5 85.7,260.5 89.7,260.4 93.7,260.4 97.7,260.3 101.7,260.2 105.7,260.2 109.7,260.1 113.7,260.0 117.7,259.9 121.7,259.8 125.7,259.7 129.7,259.7 133.7,259.6 137.7,259.6 141.7,259.5 145.7,259.4 149.7,259.4 153.7,259.2 157.7,259.1 161.7,258.9 165.7,258.8 169.7,258.6 173.7,258.3 177.7,258.0 181.7,257.6 185.7,257.1 189.7,256.6 193.7,256.0 197.7,255.3 201.7,254.6 203.2,254.4 204.7,254.1 206.2,253.8 207.7,253.4 209.2,253.0 210.7,252.6 212.2,252.2 213.7,251.7 215.2,251.3 216.7,250.8 218.2,250.4 219.7,249.9 221.2,249.3 222.7,248.8 224.2,248.2 225.7,247.6 227.2,247.0 228.7,246.4 230.2,245.8 231.7,245.2 233.2,244.6 234.7,244.0 236.2,243.3 237.7,242.7 239.2,242.0 240.7,241.2 242.2,240.4 243.7,239.5 245.2,238.7 246.7,237.8 248.2,237.0 249.7,236.2 251.2,235.3 252.7,234.3 254.2,233.3 255.7,232.3 257.2,231.2 258.7,229.9 260.2,228.5 261.7,227.1 263.2,225.5 264.7,223.7 266.2,221.8 267.7,219.8 269.2,217.8 270.7,215.7 272.2,213.5 273.7,211.3 275.2,209.1 276.7,206.9 278.2,204.2 279.7,200.9 281.2,197.6 282.7,194.2 284.2,190.8 285.7,187.4 287.2,183.8 288.7,179.8 290.2,175.5 291.7,171.1 293.2,166.6 294.7,162.0 296.2,157.4 297.7,152.5 299.2,147.6 300.7,142.5 302.2,137.3 303.7,131.6 305.2,125.5 306.7,119.3 308.2,113.0 309.7,106.8 311.2,101.0 312.7,95.0 314.2,88.9 315.7,83.2 317.2,78.1 318.7,73.1 320.2,68.0 321.7,62.8 323.2,57.6 324.7,52.8 330,52.8 330,266 42.7,266 42.7,260.6Z" fill="#5EABBD"/>
<path d="M45.7,260.6 49.7,260.6 53.7,260.5 57.7,260.5 61.7,260.5 65.7,260.5 69.7,260.5 73.7,260.5 77.7,260.5 81.7,260.5 85.7,260.5 89.7,260.4 93.7,260.4 97.7,260.3 101.7,260.2 105.7,260.2 109.7,260.1 113.7,260.0 117.7,259.9 121.7,259.8 125.7,259.8 129.7,259.7 133.7,259.6 137.7,259.6 141.7,259.5 145.7,259.4 149.7,259.4 153.7,259.2 157.7,259.1 161.7,259.0 165.7,258.8 169.7,258.6 173.7,258.3 177.7,258.0 181.7,257.6 185.7,257.1 189.7,256.6 193.7,256.1 197.7,255.4 201.7,254.7 203.2,254.5 204.7,254.2 206.2,253.9 207.7,253.5 209.2,253.1 210.7,252.7 212.2,252.3 213.7,251.8 215.2,251.4 216.7,251.0 218.2,250.5 219.7,250.0 221.2,249.5 222.7,248.9 224.2,248.4 225.7,247.8 227.2,247.2 228.7,246.7 230.2,246.1 231.7,245.5 233.2,244.9 234.7,244.3 236.2,243.7 237.7,243.0 239.2,242.4 240.7,241.6 242.2,240.8 243.7,239.9 245.2,239.1 246.7,238.3 248.2,237.5 249.7,236.7 251.2,235.8 252.7,234.9 254.2,233.9 255.7,232.9 257.2,231.8 258.7,230.6 260.2,229.3 261.7,227.9 263.2,226.4 264.7,224.6 266.2,222.7 267.7,220.9 269.2,218.9 270.7,216.9 272.2,214.8 273.7,212.7 275.2,210.6 276.7,208.5 278.2,205.9 279.7,202.8 281.2,199.6 282.7,196.3 284.2,193.1 285.7,189.8 287.2,186.4 288.7,182.5 290.2,178.4 291.7,174.1 293.2,169.8 294.7,165.4 296.2,160.8 297.7,156.1 299.2,151.3 300.7,146.4 302.2,141.3 303.7,135.7 305.2,129.7 306.7,123.7 308.2,117.5 309.7,111.5 311.2,105.7 312.7,99.9 314.2,93.9 315.7,88.3 317.2,83.3 318.7,78.5 320.2,73.5 321.7,68.5 323.2,63.6 324.7,59.1 330,59.1 330,266 42.7,266 42.7,260.6Z" fill="#62ADBE"/>
<path d="M45.7,260.6 49.7,260.6 53.7,260.5 57.7,260.5 61.7,260.5 65.7,260.5 69.7,260.5 73.7,260.5 77.7,260.5 81.7,260.5 85.7,260.5 89.7,260.4 93.7,260.4 97.7,260.3 101.7,260.3 105.7,260.2 109.7,260.1 113.7,260.0 117.7,259.9 121.7,259.8 125.7,259.8 129.7,259.7 133.7,259.7 137.7,259.6 141.7,259.5 145.7,259.5 149.7,259.4 153.7,259.3 157.7,259.1 161.7,259.0 165.7,258.8 169.7,258.7 173.7,258.4 177.7,258.1 181.7,257.7 185.7,257.2 189.7,256.7 193.7,256.2 197.7,255.6 201.7,254.9 203.2,254.7 204.7,254.4 206.2,254.1 207.7,253.8 209.2,253.3 210.7,252.9 212.2,252.5 213.7,252.1 215.2,251.7 216.7,251.2 218.2,250.8 219.7,250.3 221.2,249.8 222.7,249.2 224.2,248.7 225.7,248.1 227.2,247.5 228.7,247.0 230.2,246.4 231.7,245.8 233.2,245.2 234.7,244.6 236.2,244.0 237.7,243.3 239.2,242.7 240.7,241.9 242.2,241.1 243.7,240.3 245.2,239.4 246.7,238.6 248.2,237.8 249.7,237.0 251.2,236.2 252.7,235.2 254.2,234.2 255.7,233.2 257.2,232.2 258.7,231.0 260.2,229.6 261.7,228.2 263.2,226.7 264.7,225.0 266.2,223.1 267.7,221.3 269.2,219.4 270.7,217.3 272.2,215.2 273.7,213.1 275.2,211.1 276.7,208.9 278.2,206.4 279.7,203.3 281.2,200.1 282.7,196.9 284.2,193.7 285.7,190.4 287.2,187.0 288.7,183.2 290.2,179.0 291.7,174.8 293.2,170.4 294.7,166.0 296.2,161.4 297.7,156.7 299.2,151.9 300.7,147.0 302.2,141.9 303.7,136.3 305.2,130.3 306.7,124.2 308.2,118.1 309.7,112.0 311.2,106.2 312.7,100.4 314.2,94.4 315.7,88.7 317.2,83.8 318.7,78.9 320.2,73.9 321.7,68.9 323.2,64.0 324.7,59.4 330,59.4 330,266 42.7,266 42.7,260.6Z" fill="#66AEBF"/>
<path d="M45.7,260.6 49.7,260.6 53.7,260.5 57.7,260.5 61.7,260.5 65.7,260.5 69.7,260.5 73.7,260.5 77.7,260.5 81.7,260.5 85.7,260.5 89.7,260.4 93.7,260.4 97.7,260.3 101.7,260.3 105.7,260.2 109.7,260.1 113.7,260.0 117.7,259.9 121.7,259.9 125.7,259.8 129.7,259.7 133.7,259.7 137.7,259.6 141.7,259.6 145.7,259.5 149.7,259.4 153.7,259.3 157.7,259.2 161.7,259.0 165.7,258.9 169.7,258.7 173.7,258.5 177.7,258.2 181.7,257.8 185.7,257.3 189.7,256.8 193.7,256.3 197.7,255.7 201.7,255.0 203.2,254.8 204.7,254.5 206.2,254.2 207.7,253.9 209.2,253.5 210.7,253.1 212.2,252.6 213.7,252.2 215.2,251.8 216.7,251.4 218.2,250.9 219.7,250.5 221.2,249.9 222.7,249.4 224.2,248.8 225.7,248.3 227.2,247.7 228.7,247.2 230.2,246.6 231.7,246.0 233.2,245.4 234.7,244.8 236.2,244.2 237.7,243.5 239.2,242.9 240.7,242.1 242.2,241.3 243.7,240.5 245.2,239.7 246.7,238.8 248.2,238.0 249.7,237.2 251.2,236.4 252.7,235.5 254.2,234.5 255.7,233.5 257.2,232.4 258.7,231.3 260.2,229.9 261.7,228.6 263.2,227.1 264.7,225.3 266.2,223.5 267.7,221.7 269.2,219.8 270.7,217.7 272.2,215.7 273.7,213.6 275.2,211.6 276.7,209.5 278.2,207.0 279.7,203.9 281.2,200.8 282.7,197.6 284.2,194.4 285.7,191.2 287.2,187.8 288.7,184.0 290.2,179.9 291.7,175.6 293.2,171.3 294.7,166.9 296.2,162.4 297.7,157.7 299.2,152.9 300.7,148.0 302.2,142.9 303.7,137.4 305.2,131.4 306.7,125.3 308.2,119.2 309.7,113.2 311.2,107.4 312.7,101.5 314.2,95.6 315.7,89.9 317.2,85.0 318.7,80.1 320.2,75.2 321.7,70.2 323.2,65.4 324.7,60.8 330,60.8 330,266 42.7,266 42.7,260.6Z" fill="#6AB0C1"/>
<path d="M45.7,260.6 49.7,260.5 53.7,260.5 57.7,260.5 61.7,260.5 65.7,260.5 69.7,260.5 73.7,260.5 77.7,260.5 81.7,260.5 85.7,260.5 89.7,260.5 93.7,260.4 97.7,260.3 101.7,260.3 105.7,260.2 109.7,260.1 113.7,260.0 117.7,259.9 121.7,259.9 125.7,259.8 129.7,259.8 133.7,259.7 137.7,259.6 141.7,259.6 145.7,259.5 149.7,259.5 153.7,259.3 157.7,259.2 161.7,259.1 165.7,258.9 169.7,258.7 173.7,258.5 177.7,258.2 181.7,257.8 185.7,257.4 189.7,256.9 193.7,256.4 197.7,255.8 201.7,255.2 203.2,254.9 204.7,254.7 206.2,254.4 207.7,254.0 209.2,253.6 210.7,253.2 212.2,252.8 213.7,252.4 215.2,252.0 216.7,251.6 218.2,251.2 219.7,250.7 221.2,250.2 222.7,249.7 224.2,249.1 225.7,248.6 227.2,248.0 228.7,247.5 230.2,246.9 231.7,246.4 233.2,245.8 234.7,245.2 236.2,244.6 237.7,244.0 239.2,243.4 240.7,242.6 242.2,241.8 243.7,241.0 245.2,240.2 246.7,239.4 248.2,238.6 249.7,237.9 251.2,237.1 252.7,236.2 254.2,235.2 255.7,234.2 257.2,233.3 258.7,232.1 260.2,230.8 261.7,229.5 263.2,228.1 264.7,226.4 266.2,224.7 267.7,222.9 269.2,221.1 270.7,219.1 272.2,217.2 273.7,215.2 275.2,213.3 276.7,211.4 278.2,209.0 279.7,206.1 281.2,203.1 282.7,200.1 284.2,197.1 285.7,194.0 287.2,190.8 288.7,187.1 290.2,183.2 291.7,179.1 293.2,175.0 294.7,170.7 296.2,166.4 297.7,161.8 299.2,157.2 300.7,152.4 302.2,147.5 303.7,142.0 305.2,136.2 306.7,130.3 308.2,124.3 309.7,118.4 311.2,112.7 312.7,107.0 314.2,101.2 315.7,95.6 317.2,90.8 318.7,86.1 320.2,81.4 321.7,76.6 323.2,72.0 324.7,67.7 330,67.7 330,266 42.7,266 42.7,260.6Z" fill="#6EB2C2"/>
<path d="M45.7,260.6 49.7,260.5 53.7,260.5 57.7,260.5 61.7,260.5 65.7,260.5 69.7,260.5 73.7,260.5 77.7,260.5 81.7,260.5 85.7,260.5 89.7,260.5 93.7,260.4 97.7,260.3 101.7,260.3 105.7,260.2 109.7,260.1 113.7,260.0 117.7,259.9 121.7,259.9 125.7,259.8 129.7,259.8 133.7,259.7 137.7,259.7 141.7,259.6 145.7,259.5 149.7,259.5 153.7,259.4 157.7,259.2 161.7,259.1 165.7,258.9 169.7,258.8 173.7,258.6 177.7,258.3 181.7,257.9 185.7,257.4 189.7,257.0 193.7,256.5 197.7,255.9 201.7,255.3 203.2,255.0 204.7,254.8 206.2,254.5 207.7,254.2 209.2,253.8 210.7,253.4 212.2,253.0 213.7,252.6 215.2,252.2 216.7,251.8 218.2,251.3 219.7,250.9 221.2,250.4 222.7,249.9 224.2,249.3 225.7,248.8 227.2,248.2 228.7,247.7 230.2,247.2 231.7,246.6 233.2,246.0 234.7,245.4 236.2,244.8 237.7,244.2 239.2,243.6 240.7,242.8 242.2,242.0 243.7,241.3 245.2,240.5 246.7,239.7 248.2,238.9 249.7,238.1 251.2,237.3 252.7,236.4 254.2,235.5 255.7,234.5 257.2,233.5 258.7,232.4 260.2,231.1 261.7,229.8 263.2,228.4 264.7,226.8 266.2,225.0 267.7,223.3 269.2,221.5 270.7,219.5 272.2,217.6 273.7,215.7 275.2,213.8 276.7,211.9 278.2,209.5 279.7,206.6 281.2,203.7 282.7,200.7 284.2,197.7 285.7,194.7 287.2,191.5 288.7,187.9 290.2,184.0 291.7,179.9 293.2,175.8 294.7,171.5 296.2,167.2 297.7,162.7 299.2,158.1 300.7,153.3 302.2,148.3 303.7,142.9 305.2,137.1 306.7,131.2 308.2,125.2 309.7,119.3 311.2,113.7 312.7,107.9 314.2,102.1 315.7,96.6 317.2,91.7 318.7,87.0 320.2,82.3 321.7,77.6 323.2,73.0 324.7,68.8 330,68.8 330,266 42.7,266 42.7,260.6Z" fill="#72B4C3"/>
<path d="M45.7,260.6 49.7,260.5 53.7,260.5 57.7,260.5 61.7,260.5 65.7,260.5 69.7,260.5 73.7,260.5 77.7,260.5 81.7,260.5 85.7,260.5 89.7,260.5 93.7,260.4 97.7,260.3 101.7,260.3 105.7,260.2 109.7,260.1 113.7,260.0 117.7,260.0 121.7,259.9 125.7,259.8 129.7,259.8 133.7,259.7 137.7,259.7 141.7,259.6 145.7,259.6 149.7,259.5 153.7,259.4 157.7,259.2 161.7,259.1 165.7,259.0 169.7,258.8 173.7,258.6 177.7,258.3 181.7,257.9 185.7,257.5 189.7,257.0 193.7,256.5 197.7,255.9 201.7,255.3 203.2,255.1 204.7,254.8 206.2,254.6 207.7,254.2 209.2,253.9 210.7,253.5 212.2,253.1 213.7,252.7 215.2,252.3 216.7,251.8 218.2,251.4 219.7,251.0 221.2,250.5 222.7,250.0 224.2,249.5 225.7,248.9 227.2,248.4 228.7,247.9 230.2,247.3 231.7,246.8 233.2,246.2 234.7,245.7 236.2,245.1 237.7,244.5 239.2,243.8 240.7,243.1 242.2,242.4 243.7,241.6 245.2,240.8 246.7,240.0 248.2,239.3 249.7,238.5 251.2,237.7 252.7,236.9 254.2,235.9 255.7,235.0 257.2,234.1 258.7,233.0 260.2,231.7 261.7,230.5 263.2,229.1 264.7,227.5 266.2,225.8 267.7,224.1 269.2,222.4 270.7,220.5 272.2,218.7 273.7,216.8 275.2,215.0 276.7,213.2 278.2,211.0 279.7,208.2 281.2,205.4 282.7,202.5 284.2,199.7 285.7,196.8 287.2,193.7 288.7,190.2 290.2,186.5 291.7,182.5 293.2,178.5 294.7,174.4 296.2,170.2 297.7,165.8 299.2,161.3 300.7,156.7 302.2,151.8 303.7,146.5 305.2,140.9 306.7,135.1 308.2,129.2 309.7,123.4 311.2,117.8 312.7,112.2 314.2,106.5 315.7,101.1 317.2,96.3 318.7,91.8 320.2,87.2 321.7,82.7 323.2,78.4 324.7,74.3 330,74.3 330,266 42.7,266 42.7,260.6Z" fill="#76B6C4"/>
<path d="M45.7,260.6 49.7,260.5 53.7,260.5 57.7,260.5 61.7,260.5 65.7,260.5 69.7,260.5 73.7,260.5 77.7,260.5 81.7,260.5 85.7,260.5 89.7,260.5 93.7,260.4 97.7,260.4 101.7,260.3 105.7,260.2 109.7,260.1 113.7,260.0 117.7,260.0 121.7,259.9 125.7,259.9 129.7,259.8 133.7,259.7 137.7,259.7 141.7,259.6 145.7,259.6 149.7,259.5 153.7,259.4 157.7,259.3 161.7,259.2 165.7,259.0 169.7,258.8 173.7,258.6 177.7,258.4 181.7,258.0 185.7,257.6 189.7,257.1 193.7,256.7 197.7,256.1 201.7,255.5 203.2,255.3 204.7,255.0 206.2,254.8 207.7,254.4 209.2,254.1 210.7,253.7 212.2,253.3 213.7,252.9 215.2,252.5 216.7,252.1 218.2,251.7 219.7,251.2 221.2,250.8 222.7,250.3 224.2,249.7 225.7,249.2 227.2,248.7 228.7,248.2 230.2,247.6 231.7,247.1 233.2,246.5 234.7,246.0 236.2,245.4 237.7,244.8 239.2,244.2 240.7,243.5 242.2,242.7 243.7,241.9 245.2,241.2 246.7,240.4 248.2,239.6 249.7,238.9 251.2,238.1 252.7,237.3 254.2,236.4 255.7,235.5 257.2,234.5 258.7,233.4 260.2,232.2 261.7,231.0 263.2,229.7 264.7,228.1 266.2,226.4 267.7,224.7 269.2,223.0 270.7,221.2 272.2,219.4 273.7,217.6 275.2,215.8 276.7,214.0 278.2,211.9 279.7,209.2 281.2,206.4 282.7,203.6 284.2,200.8 285.7,197.9 287.2,194.9 288.7,191.5 290.2,187.8 291.7,183.9 293.2,179.9 294.7,175.9 296.2,171.7 297.7,167.3 299.2,162.9 300.7,158.3 302.2,153.4 303.7,148.2 305.2,142.5 306.7,136.8 308.2,130.9 309.7,125.2 311.2,119.6 312.7,114.0 314.2,108.3 315.7,102.9 317.2,98.2 318.7,93.6 320.2,89.1 321.7,84.7 323.2,80.4 324.7,76.4 330,76.4 330,266 42.7,266 42.7,260.6Z" fill="#86BAB2"/>
<path d="M45.7,260.5 49.7,260.5 53.7,260.5 57.7,260.5 61.7,260.5 65.7,260.5 69.7,260.5 73.7,260.5 77.7,260.5 81.7,260.5 85.7,260.5 89.7,260.5 93.7,260.4 97.7,260.4 101.7,260.3 105.7,260.2 109.7,260.1 113.7,260.0 117.7,260.0 121.7,259.9 125.7,259.9 129.7,259.8 133.7,259.8 137.7,259.7 141.7,259.6 145.7,259.6 149.7,259.5 153.7,259.4 157.7,259.3 161.7,259.2 165.7,259.0 169.7,258.9 173.7,258.6 177.7,258.4 181.7,258.0 185.7,257.6 189.7,257.2 193.7,256.7 197.7,256.1 201.7,255.5 203.2,255.3 204.7,255.1 206.2,254.8 207.7,254.5 209.2,254.1 210.7,253.7 212.2,253.3 213.7,252.9 215.2,252.5 216.7,252.1 218.2,251.7 219.7,251.3 221.2,250.8 222.7,250.3 224.2,249.8 225.7,249.3 227.2,248.8 228.7,248.3 230.2,247.8 231.7,247.3 233.2,246.7 234.7,246.2 236.2,245.6 237.7,245.0 239.2,244.4 240.7,243.7 242.2,243.0 243.7,242.3 245.2,241.5 246.7,240.8 248.2,240.0 249.7,239.3 251.2,238.6 252.7,237.8 254.2,236.9 255.7,236.0 257.2,235.1 258.7,234.1 260.2,232.9 261.7,231.8 263.2,230.5 264.7,229.0 266.2,227.4 267.7,225.8 269.2,224.2 270.7,222.5 272.2,220.7 273.7,219.0 275.2,217.4 276.7,215.7 278.2,213.6 279.7,211.0 281.2,208.4 282.7,205.6 284.2,202.9 285.7,200.1 287.2,197.2 288.7,193.9 290.2,190.3 291.7,186.5 293.2,182.7 294.7,178.7 296.2,174.6 297.7,170.4 299.2,166.1 300.7,161.6 302.2,156.9 303.7,151.9 305.2,146.4 306.7,140.8 308.2,135.1 309.7,129.6 311.2,124.2 312.7,118.8 314.2,113.4 315.7,108.2 317.2,103.8 318.7,99.5 320.2,95.4 321.7,91.5 323.2,87.7 324.7,84.1 330,84.1 330,266 42.7,266 42.7,260.5Z" fill="#8EBBA7"/>
<path d="M45.7,260.5 49.7,260.5 53.7,260.5 57.7,260.5 61.7,260.5 65.7,260.5 69.7,260.5 73.7,260.5 77.7,260.5 81.7,260.5 85.7,260.5 89.7,260.5 93.7,260.4 97.7,260.4 101.7,260.3 105.7,260.2 109.7,260.1 113.7,260.1 117.7,260.0 121.7,259.9 125.7,259.9 129.7,259.8 133.7,259.8 137.7,259.7 141.7,259.7 145.7,259.6 149.7,259.6 153.7,259.5 157.7,259.4 161.7,259.2 165.7,259.1 169.7,258.9 173.7,258.7 177.7,258.5 181.7,258.2 185.7,257.7 189.7,257.3 193.7,256.9 197.7,256.3 201.7,255.8 203.2,255.6 204.7,255.3 206.2,255.1 207.7,254.8 209.2,254.4 210.7,254.1 212.2,253.7 213.7,253.3 215.2,252.9 216.7,252.6 218.2,252.2 219.7,251.8 221.2,251.3 222.7,250.8 224.2,250.3 225.7,249.8 227.2,249.3 228.7,248.8 230.2,248.3 231.7,247.8 233.2,247.3 234.7,246.7 236.2,246.2 237.7,245.6 239.2,245.0 240.7,244.3 242.2,243.6 243.7,242.9 245.2,242.1 246.7,241.4 248.2,240.7 249.7,240.0 251.2,239.3 252.7,238.5 254.2,237.6 255.7,236.8 257.2,235.9 258.7,234.9 260.2,233.8 261.7,232.6 263.2,231.4 264.7,229.9 266.2,228.3 267.7,226.8 269.2,225.2 270.7,223.5 272.2,221.8 273.7,220.1 275.2,218.5 276.7,216.8 278.2,214.7 279.7,212.2 281.2,209.5 282.7,206.8 284.2,204.0 285.7,201.3 287.2,198.3 288.7,195.0 290.2,191.4 291.7,187.6 293.2,183.7 294.7,179.8 296.2,175.7 297.7,171.5 299.2,167.1 300.7,162.6 302.2,157.9 303.7,152.8 305.2,147.3 306.7,141.7 308.2,136.0 309.7,130.4 311.2,125.0 312.7,119.6 314.2,114.1 315.7,108.9 317.2,104.4 318.7,100.1 320.2,96.0 321.7,92.0 323.2,88.2 324.7,84.6 330,84.6 330,266 42.7,266 42.7,260.5Z" fill="#97BD9B"/>
<path d="M45.7,260.5 49.7,260.5 53.7,260.5 57.7,260.5 61.7,260.5 65.7,260.5 69.7,260.5 73.7,260.5 77.7,260.5 81.7,260.5 85.7,260.5 89.7,260.5 93.7,260.4 97.7,260.4 101.7,260.3 105.7,260.2 109.7,260.1 113.7,260.1 117.7,260.0 121.7,260.0 125.7,259.9 129.7,259.8 133.7,259.8 137.7,259.7 141.7,259.7 145.7,259.6 149.7,259.6 153.7,259.5 157.7,259.4 161.7,259.2 165.7,259.1 169.7,259.0 173.7,258.8 177.7,258.5 181.7,258.2 185.7,257.8 189.7,257.4 193.7,256.9 197.7,256.4 201.7,255.8 203.2,255.6 204.7,255.4 206.2,255.1 207.7,254.8 209.2,254.5 210.7,254.1 212.2,253.8 213.7,253.4 215.2,253.0 216.7,252.6 218.2,252.2 219.7,251.8 221.2,251.4 222.7,250.9 224.2,250.4 225.7,249.9 227.2,249.4 228.7,248.9 230.2,248.4 231.7,247.9 233.2,247.4 234.7,246.8 236.2,246.3 237.7,245.7 239.2,245.1 240.7,244.5 242.2,243.7 243.7,243.0 245.2,242.3 246.7,241.5 248.2,240.8 249.7,240.1 251.2,239.4 252.7,238.6 254.2,237.8 255.7,236.9 257.2,236.1 258.7,235.1 260.2,233.9 261.7,232.8 263.2,231.6 264.7,230.1 266.2,228.6 267.7,227.0 269.2,225.4 270.7,223.8 272.2,222.1 273.7,220.4 275.2,218.8 276.7,217.1 278.2,215.0 279.7,212.5 281.2,209.9 282.7,207.2 284.2,204.4 285.7,201.6 287.2,198.7 288.7,195.4 290.2,191.7 291.7,188.0 293.2,184.1 294.7,180.2 296.2,176.1 297.7,171.9 299.2,167.5 300.7,163.1 302.2,158.4 303.7,153.3 305.2,147.8 306.7,142.2 308.2,136.5 309.7,130.9 311.2,125.5 312.7,120.1 314.2,114.7 315.7,109.5 317.2,105.0 318.7,100.8 320.2,96.7 321.7,92.7 323.2,88.9 324.7,85.3 330,85.3 330,266 42.7,266 42.7,260.5Z" fill="#A0BE8F"/>
<path d="M45.7,260.5 49.7,260.5 53.7,260.5 57.7,260.5 61.7,260.5 65.7,260.5 69.7,260.5 73.7,260.5 77.7,260.5 81.7,260.5 85.7,260.5 89.7,260.5 93.7,260.4 97.7,260.4 101.7,260.3 105.7,260.2 109.7,260.2 113.7,260.1 117.7,260.0 121.7,260.0 125.7,259.9 129.7,259.9 133.7,259.8 137.7,259.8 141.7,259.7 145.7,259.7 149.7,259.6 153.7,259.5 157.7,259.4 161.7,259.3 165.7,259.1 169.7,259.0 173.7,258.8 177.7,258.5 181.7,258.2 185.7,257.8 189.7,257.4 193.7,257.0 197.7,256.5 201.7,255.9 203.2,255.7 204.7,255.5 206.2,255.3 207.7,255.0 209.2,254.6 210.7,254.3 212.2,253.9 213.7,253.5 215.2,253.2 216.7,252.8 218.2,252.4 219.7,252.0 221.2,251.6 222.7,251.1 224.2,250.6 225.7,250.2 227.2,249.7 228.7,249.2 230.2,248.7 231.7,248.2 233.2,247.7 234.7,247.2 236.2,246.7 237.7,246.1 239.2,245.5 240.7,244.9 242.2,244.2 243.7,243.5 245.2,242.8 246.7,242.1 248.2,241.4 249.7,240.7 251.2,240.0 252.7,239.3 254.2,238.5 255.7,237.7 257.2,236.9 258.7,235.9 260.2,234.9 261.7,233.8 263.2,232.6 264.7,231.2 266.2,229.8 267.7,228.3 269.2,226.9 270.7,225.3 272.2,223.7 273.7,222.1 275.2,220.6 276.7,219.0 278.2,217.0 279.7,214.7 281.2,212.1 282.7,209.5 284.2,206.8 285.7,204.1 287.2,201.2 288.7,198.0 290.2,194.5 291.7,190.8 293.2,187.1 294.7,183.3 296.2,179.3 297.7,175.2 299.2,171.0 300.7,166.6 302.2,162.1 303.7,157.2 305.2,151.9 306.7,146.4 308.2,140.9 309.7,135.5 311.2,130.3 312.7,125.1 314.2,119.8 315.7,114.9 317.2,110.7 318.7,106.8 320.2,103.1 321.7,99.6 323.2,96.2 324.7,93.1 330,93.1 330,266 42.7,266 42.7,260.5Z" fill="#A9C084"/>
<path d="M45.7,260.5 49.7,260.5 53.7,260.5 57.7,260.5 61.7,260.5 65.7,260.5 69.7,260.5 73.7,260.5 77.7,260.5 81.7,260.5 85.7,260.5 89.7,260.5 93.7,260.4 97.7,260.4 101.7,260.3 105.7,260.2 109.7,260.2 113.7,260.1 117.7,260.0 121.7,260.0 125.7,259.9 129.7,259.9 133.7,259.8 137.7,259.8 141.7,259.7 145.7,259.7 149.7,259.6 153.7,259.5 157.7,259.4 161.7,259.3 165.7,259.2 169.7,259.0 173.7,258.8 177.7,258.6 181.7,258.3 185.7,257.9 189.7,257.5 193.7,257.0 197.7,256.5 201.7,256.0 203.2,255.8 204.7,255.6 206.2,255.3 207.7,255.0 209.2,254.7 210.7,254.3 212.2,254.0 213.7,253.6 215.2,253.3 216.7,252.9 218.2,252.5 219.7,252.1 221.2,251.7 222.7,251.2 224.2,250.7 225.7,250.3 227.2,249.8 228.7,249.3 230.2,248.8 231.7,248.3 233.2,247.8 234.7,247.3 236.2,246.8 237.7,246.3 239.2,245.7 240.7,245.0 242.2,244.3 243.7,243.6 245.2,242.9 246.7,242.2 248.2,241.5 249.7,240.9 251.2,240.2 252.7,239.4 254.2,238.6 255.7,237.9 257.2,237.1 258.7,236.1 260.2,235.1 261.7,234.0 263.2,232.8 264.7,231.5 266.2,230.0 267.7,228.6 269.2,227.1 270.7,225.5 272.2,224.0 273.7,222.4 275.2,220.9 276.7,219.3 278.2,217.4 279.7,215.0 281.2,212.4 282.7,209.8 284.2,207.1 285.7,204.4 287.2,201.6 288.7,198.3 290.2,194.8 291.7,191.2 293.2,187.4 294.7,183.6 296.2,179.7 297.7,175.6 299.2,171.3 300.7,167.0 302.2,162.5 303.7,157.5 305.2,152.2 306.7,146.8 308.2,141.3 309.7,135.8 311.2,130.6 312.7,125.4 314.2,120.2 315.7,115.3 317.2,111.0 318.7,107.1 320.2,103.4 321.7,99.9 323.2,96.6 324.7,93.5 330,93.5 330,266 42.7,266 42.7,260.5Z" fill="#B1C178"/>
<path d="M45.7,260.5 49.7,260.5 53.7,260.5 57.7,260.5 61.7,260.5 65.7,260.5 69.7,260.5 73.7,260.5 77.7,260.5 81.7,260.5 85.7,260.5 89.7,260.5 93.7,260.4 97.7,260.4 101.7,260.3 105.7,260.2 109.7,260.2 113.7,260.1 117.7,260.0 121.7,260.0 125.7,259.9 129.7,259.9 133.7,259.8 137.7,259.8 141.7,259.7 145.7,259.7 149.7,259.6 153.7,259.5 157.7,259.4 161.7,259.3 165.7,259.2 169.7,259.1 173.7,258.9 177.7,258.6 181.7,258.3 185.7,257.9 189.7,257.6 193.7,257.1 197.7,256.6 201.7,256.1 203.2,255.9 204.7,255.7 206.2,255.5 207.7,255.2 209.2,254.8 210.7,254.5 212.2,254.2 213.7,253.8 215.2,253.4 216.7,253.1 218.2,252.7 219.7,252.3 221.2,251.9 222.7,251.4 224.2,251.0 225.7,250.5 227.2,250.0 228.7,249.6 230.2,249.1 231.7,248.6 233.2,248.1 234.7,247.6 236.2,247.1 237.7,246.5 239.2,246.0 240.7,245.3 242.2,244.6 243.7,243.9 245.2,243.3 246.7,242.6 248.2,241.9 249.7,241.2 251.2,240.5 252.7,239.8 254.2,239.0 255.7,238.3 257.2,237.5 258.7,236.5 260.2,235.5 261.7,234.5 263.2,233.3 264.7,232.0 266.2,230.5 267.7,229.1 269.2,227.7 270.7,226.1 272.2,224.6 273.7,223.0 275.2,221.5 276.7,219.9 278.2,218.0 279.7,215.7 281.2,213.1 282.7,210.5 284.2,207.9 285.7,205.1 287.2,202.3 288.7,199.0 290.2,195.5 291.7,191.9 293.2,188.1 294.7,184.3 296.2,180.4 297.7,176.3 299.2,172.1 300.7,167.7 302.2,163.2 303.7,158.2 305.2,152.9 306.7,147.5 308.2,142.0 309.7,136.6 311.2,131.4 312.7,126.2 314.2,120.9 315.7,116.0 317.2,111.8 318.7,107.9 320.2,104.2 321.7,100.7 323.2,97.4 324.7,94.2 330,94.2 330,266 42.7,266 42.7,260.5Z" fill="#BAC36C"/>
<path d="M45.7,260.5 49.7,260.5 53.7,260.5 57.7,260.5 61.7,260.5 65.7,260.5 69.7,260.5 73.7,260.5 77.7,260.5 81.7,260.5 85.7,260.5 89.7,260.5 93.7,260.4 97.7,260.4 101.7,260.3 105.7,260.2 109.7,260.2 113.7,260.1 117.7,260.0 121.7,260.0 125.7,259.9 129.7,259.9 133.7,259.8 137.7,259.8 141.7,259.8 145.7,259.7 149.7,259.7 153.7,259.6 157.7,259.4 161.7,259.3 165.7,259.2 169.7,259.1 173.7,258.9 177.7,258.6 181.7,258.3 185.7,258.0 189.7,257.6 193.7,257.2 197.7,256.7 201.7,256.1 203.2,255.9 204.7,255.7 206.2,255.5 207.7,255.2 209.2,254.9 210.7,254.6 212.2,254.2 213.7,253.9 215.2,253.5 216.7,253.1 218.2,252.8 219.7,252.4 221.2,252.0 222.7,251.5 224.2,251.1 225.7,250.6 227.2,250.2 228.7,249.7 230.2,249.3 231.7,248.8 233.2,248.3 234.7,247.8 236.2,247.3 237.7,246.8 239.2,246.2 240.7,245.6 242.2,244.9 243.7,244.3 245.2,243.6 246.7,242.9 248.2,242.2 249.7,241.6 251.2,241.0 252.7,240.3 254.2,239.5 255.7,238.8 257.2,238.0 258.7,237.2 260.2,236.2 261.7,235.2 263.2,234.1 264.7,232.8 266.2,231.5 267.7,230.1 269.2,228.7 270.7,227.3 272.2,225.8 273.7,224.3 275.2,222.9 276.7,221.4 278.2,219.6 279.7,217.4 281.2,214.9 282.7,212.4 284.2,209.8 285.7,207.1 287.2,204.4 288.7,201.2 290.2,197.8 291.7,194.2 293.2,190.6 294.7,186.9 296.2,183.1 297.7,179.1 299.2,175.0 300.7,170.8 302.2,166.4 303.7,161.6 305.2,156.4 306.7,151.1 308.2,145.8 309.7,140.5 311.2,135.5 312.7,130.5 314.2,125.5 315.7,120.8 317.2,116.8 318.7,113.2 320.2,109.9 321.7,106.8 323.2,104.0 324.7,101.2 330,101.2 330,266 42.7,266 42.7,260.5Z" fill="#C3C560"/>
<path d="M45.7,260.5 49.7,260.5 53.7,260.5 57.7,260.5 61.7,260.5 65.7,260.5 69.7,260.5 73.7,260.5 77.7,260.5 81.7,260.5 85.7,260.5 89.7,260.5 93.7,260.4 97.7,260.4 101.7,260.3 105.7,260.3 109.7,260.2 113.7,260.1 117.7,260.1 121.7,260.0 125.7,260.0 129.7,259.9 133.7,259.9 137.7,259.8 141.7,259.8 145.7,259.7 149.7,259.7 153.7,259.6 157.7,259.5 161.7,259.4 165.7,259.2 169.7,259.1 173.7,258.9 177.7,258.7 181.7,258.4 185.7,258.0 189.7,257.7 193.7,257.3 197.7,256.8 201.7,256.3 203.2,256.1 204.7,255.9 206.2,255.7 207.7,255.4 209.2,255.1 210.7,254.7 212.2,254.4 213.7,254.0 215.2,253.7 216.7,253.4 218.2,253.0 219.7,252.6 221.2,252.2 222.7,251.8 224.2,251.3 225.7,250.9 227.2,250.4 228.7,250.0 230.2,249.5 231.7,249.1 233.2,248.6 234.7,248.1 236.2,247.6 237.7,247.1 239.2,246.5 240.7,245.9 242.2,245.2 243.7,244.6 245.2,243.9 246.7,243.2 248.2,242.6 249.7,241.9 251.2,241.3 252.7,240.6 254.2,239.9 255.7,239.2 257.2,238.4 258.7,237.6 260.2,236.6 261.7,235.6 263.2,234.6 264.7,233.3 266.2,232.0 267.7,230.7 269.2,229.3 270.7,227.8 272.2,226.4 273.7,224.9 275.2,223.5 276.7,222.1 278.2,220.3 279.7,218.0 281.2,215.6 282.7,213.1 284.2,210.5 285.7,207.8 287.2,205.0 288.7,201.8 290.2,198.4 291.7,194.9 293.2,191.3 294.7,187.6 296.2,183.7 297.7,179.7 299.2,175.6 300.7,171.4 302.2,167.0 303.7,162.2 305.2,157.1 306.7,151.8 308.2,146.4 309.7,141.1 311.2,136.1 312.7,131.1 314.2,126.1 315.7,121.4 317.2,117.4 318.7,113.8 320.2,110.4 321.7,107.4 323.2,104.5 324.7,101.8 330,101.8 330,266 42.7,266 42.7,260.5Z" fill="#CBC655"/>
<path d="M45.7,260.5 49.7,260.5 53.7,260.5 57.7,260.5 61.7,260.5 65.7,260.5 69.7,260.5 73.7,260.5 77.7,260.5 81.7,260.5 85.7,260.5 89.7,260.5 93.7,260.4 97.7,260.4 101.7,260.3 105.7,260.3 109.7,260.2 113.7,260.1 117.7,260.1 121.7,260.0 125.7,260.0 129.7,259.9 133.7,259.9 137.7,259.8 141.7,259.8 145.7,259.7 149.7,259.7 153.7,259.6 157.7,259.5 161.7,259.4 165.7,259.3 169.7,259.1 173.7,258.9 177.7,258.7 181.7,258.4 185.7,258.1 189.7,257.7 193.7,257.3 197.7,256.8 201.7,256.3 203.2,256.1 204.7,255.9 206.2,255.7 207.7,255.4 209.2,255.1 210.7,254.8 212.2,254.5 213.7,254.1 215.2,253.8 216.7,253.4 218.2,253.1 219.7,252.7 221.2,252.3 222.7,251.9 224.2,251.4 225.7,251.0 227.2,250.5 228.7,250.1 230.2,249.6 231.7,249.2 233.2,248.7 234.7,248.2 236.2,247.7 237.7,247.2 239.2,246.7 240.7,246.0 242.2,245.4 243.7,244.7 245.2,244.1 246.7,243.4 248.2,242.7 249.7,242.1 251.2,241.5 252.7,240.8 254.2,240.1 255.7,239.4 257.2,238.6 258.7,237.8 260.2,236.8 261.7,235.8 263.2,234.8 264.7,233.5 266.2,232.2 267.7,230.9 269.2,229.6 270.7,228.1 272.2,226.7 273.7,225.2 275.2,223.8 276.7,222.4 278.2,220.6 279.7,218.4 281.2,215.9 282.7,213.4 284.2,210.8 285.7,208.2 287.2,205.4 288.7,202.2 290.2,198.8 291.7,195.3 293.2,191.6 294.7,187.9 296.2,184.1 297.7,180.1 299.2,176.0 300.7,171.8 302.2,167.4 303.7,162.6 305.2,157.5 306.7,152.2 308.2,146.8 309.7,141.6 311.2,136.5 312.7,131.5 314.2,126.5 315.7,121.8 317.2,117.8 318.7,114.2 320.2,110.9 321.7,107.9 323.2,105.0 324.7,102.3 330,102.3 330,266 42.7,266 42.7,260.5Z" fill="#D4C849"/>
<path d="M45.7,260.5 49.7,260.5 53.7,260.5 57.7,260.5 61.7,260.5 65.7,260.5 69.7,260.5 73.7,260.5 77.7,260.5 81.7,260.5 85.7,260.5 89.7,260.5 93.7,260.4 97.7,260.4 101.7,260.3 105.7,260.3 109.7,260.2 113.7,260.1 117.7,260.1 121.7,260.0 125.7,260.0 129.7,259.9 133.7,259.9 137.7,259.9 141.7,259.8 145.7,259.8 149.7,259.7 153.7,259.6 157.7,259.5 161.7,259.4 165.7,259.3 169.7,259.2 173.7,259.0 177.7,258.8 181.7,258.5 185.7,258.2 189.7,257.8 193.7,257.4 197.7,257.0 201.7,256.5 203.2,256.3 204.7,256.1 206.2,255.9 207.7,255.6 209.2,255.3 210.7,255.0 212.2,254.7 213.7,254.4 215.2,254.0 216.7,253.7 218.2,253.4 219.7,253.0 221.2,252.6 222.7,252.2 224.2,251.7 225.7,251.3 227.2,250.9 228.7,250.4 230.2,250.0 231.7,249.5 233.2,249.0 234.7,248.5 236.2,248.1 237.7,247.6 239.2,247.0 240.7,246.4 242.2,245.8 243.7,245.1 245.2,244.5 246.7,243.8 248.2,243.2 249.7,242.5 251.2,241.9 252.7,241.2 254.2,240.5 255.7,239.8 257.2,239.1 258.7,238.3 260.2,237.3 261.7,236.4 263.2,235.3 264.7,234.1 266.2,232.8 267.7,231.5 269.2,230.2 270.7,228.8 272.2,227.4 273.7,226.0 275.2,224.6 276.7,223.1 278.2,221.4 279.7,219.1 281.2,216.7 282.7,214.2 284.2,211.6 285.7,208.9 287.2,206.1 288.7,203.0 290.2,199.6 291.7,196.0 293.2,192.4 294.7,188.7 296.2,184.9 297.7,180.9 299.2,176.8 300.7,172.5 302.2,168.1 303.7,163.3 305.2,158.2 306.7,152.9 308.2,147.5 309.7,142.3 311.2,137.2 312.7,132.2 314.2,127.2 315.7,122.5 317.2,118.5 318.7,114.8 320.2,111.5 321.7,108.5 323.2,105.6 324.7,102.8 330,102.8 330,266 42.7,266 42.7,260.5Z" fill="#DDC93D"/>
<path d="M45.7,260.5 49.7,260.5 53.7,260.5 57.7,260.5 61.7,260.5 65.7,260.5 69.7,260.5 73.7,260.5 77.7,260.5 81.7,260.5 85.7,260.5 89.7,260.5 93.7,260.4 97.7,260.4 101.7,260.3 105.7,260.3 109.7,260.2 113.7,260.2 117.7,260.1 121.7,260.1 125.7,260.0 129.7,260.0 133.7,259.9 137.7,259.9 141.7,259.9 145.7,259.8 149.7,259.8 153.7,259.7 157.7,259.6 161.7,259.5 165.7,259.4 169.7,259.3 173.7,259.1 177.7,258.9 181.7,258.7 185.7,258.3 189.7,258.0 193.7,257.7 197.7,257.2 201.7,256.8 203.2,256.6 204.7,256.4 206.2,256.3 207.7,256.0 209.2,255.7 210.7,255.4 212.2,255.1 213.7,254.8 215.2,254.5 216.7,254.2 218.2,253.9 219.7,253.5 221.2,253.2 222.7,252.8 224.2,252.4 225.7,252.0 227.2,251.6 228.7,251.1 230.2,250.7 231.7,250.3 233.2,249.9 234.7,249.4 236.2,248.9 237.7,248.5 239.2,248.0 240.7,247.4 242.2,246.8 243.7,246.1 245.2,245.5 246.7,244.9 248.2,244.3 249.7,243.7 251.2,243.1 252.7,242.5 254.2,241.8 255.7,241.2 257.2,240.5 258.7,239.7 260.2,238.9 261.7,238.0 263.2,237.0 264.7,235.9 266.2,234.7 267.7,233.5 269.2,232.3 270.7,231.0 272.2,229.7 273.7,228.4 275.2,227.2 276.7,225.9 278.2,224.3 279.7,222.3 281.2,220.1 282.7,217.9 284.2,215.6 285.7,213.3 287.2,210.9 288.7,208.1 290.2,205.2 291.7,202.3 293.2,199.2 294.7,196.2 296.2,193.0 297.7,189.7 299.2,186.3 300.7,182.6 302.2,178.7 303.7,174.3 305.2,169.6 306.7,164.7 308.2,159.8 309.7,154.8 311.2,150.1 312.7,145.3 314.2,140.4 315.7,135.7 317.2,131.5 318.7,127.5 320.2,123.5 321.7,119.6 323.2,115.8 324.7,112.4 330,112.4 330,266 42.7,266 42.7,260.5Z" fill="#E4CB33"/>
<path d="M45.7,260.5 49.7,260.5 53.7,260.5 57.7,260.5 61.7,260.5 65.7,260.5 69.7,260.5 73.7,260.5 77.7,260.5 81.7,260.5 85.7,260.5 89.7,260.5 93.7,260.4 97.7,260.4 101.7,260.3 105.7,260.3 109.7,260.2 113.7,260.2 117.7,260.1 121.7,260.1 125.7,260.0 129.7,260.0 133.7,260.0 137.7,259.9 141.7,259.9 145.7,259.9 149.7,259.8 153.7,259.7 157.7,259.6 161.7,259.6 165.7,259.5 169.7,259.3 173.7,259.2 177.7,259.0 181.7,258.8 185.7,258.5 189.7,258.1 193.7,257.8 197.7,257.4 201.7,257.0 203.2,256.8 204.7,256.7 206.2,256.5 207.7,256.2 209.2,256.0 210.7,255.7 212.2,255.4 213.7,255.1 215.2,254.8 216.7,254.5 218.2,254.2 219.7,253.9 221.2,253.5 222.7,253.1 224.2,252.7 225.7,252.4 227.2,252.0 228.7,251.6 230.2,251.1 231.7,250.7 233.2,250.3 234.7,249.8 236.2,249.4 237.7,248.9 239.2,248.4 240.7,247.8 242.2,247.2 243.7,246.6 245.2,246.0 246.7,245.3 248.2,244.7 249.7,244.1 251.2,243.5 252.7,242.9 254.2,242.3 255.7,241.6 257.2,241.0 258.7,240.2 260.2,239.4 261.7,238.5 263.2,237.6 264.7,236.5 266.2,235.3 267.7,234.1 269.2,232.9 270.7,231.6 272.2,230.3 273.7,229.1 275.2,227.8 276.7,226.5 278.2,224.9 279.7,223.0 281.2,220.9 282.7,218.7 284.2,216.5 285.7,214.2 287.2,211.8 288.7,209.1 290.2,206.3 291.7,203.4 293.2,200.4 294.7,197.4 296.2,194.3 297.7,191.1 299.2,187.7 300.7,184.1 302.2,180.1 303.7,175.7 305.2,171.0 306.7,166.2 308.2,161.2 309.7,156.2 311.2,151.4 312.7,146.6 314.2,141.6 315.7,136.9 317.2,132.6 318.7,128.5 320.2,124.4 321.7,120.4 323.2,116.5 324.7,113.0 330,113.0 330,266 42.7,266 42.7,260.5Z" fill="#EBCC2A"/>
<path d="M45.7,260.5 49.7,260.5 53.7,260.5 57.7,260.5 61.7,260.5 65.7,260.5 69.7,260.5 73.7,260.5 77.7,260.5 81.7,260.5 85.7,260.5 89.7,260.5 93.7,260.4 97.7,260.4 101.7,260.4 105.7,260.3 109.7,260.2 113.7,260.2 117.7,260.1 121.7,260.1 125.7,260.1 129.7,260.0 133.7,260.0 137.7,260.0 141.7,259.9 145.7,259.9 149.7,259.8 153.7,259.8 157.7,259.7 161.7,259.6 165.7,259.5 169.7,259.4 173.7,259.2 177.7,259.0 181.7,258.8 185.7,258.5 189.7,258.2 193.7,257.9 197.7,257.5 201.7,257.1 203.2,256.9 204.7,256.8 206.2,256.6 207.7,256.4 209.2,256.1 210.7,255.8 212.2,255.5 213.7,255.2 215.2,255.0 216.7,254.7 218.2,254.4 219.7,254.0 221.2,253.7 222.7,253.3 224.2,252.9 225.7,252.5 227.2,252.1 228.7,251.8 230.2,251.4 231.7,250.9 233.2,250.5 234.7,250.1 236.2,249.6 237.7,249.1 239.2,248.6 240.7,248.0 242.2,247.4 243.7,246.8 245.2,246.2 246.7,245.6 248.2,244.9 249.7,244.3 251.2,243.8 252.7,243.2 254.2,242.5 255.7,241.9 257.2,241.2 258.7,240.5 260.2,239.7 261.7,238.8 263.2,237.9 264.7,236.8 266.2,235.6 267.7,234.4 269.2,233.3 270.7,232.0 272.2,230.7 273.7,229.4 275.2,228.2 276.7,226.9 278.2,225.3 279.7,223.4 281.2,221.3 282.7,219.2 284.2,217.0 285.7,214.7 287.2,212.4 288.7,209.7 290.2,206.9 291.7,204.1 293.2,201.2 294.7,198.2 296.2,195.2 297.7,192.0 299.2,188.6 300.7,185.0 302.2,181.1 303.7,176.7 305.2,172.0 306.7,167.2 308.2,162.2 309.7,157.3 311.2,152.5 312.7,147.6 314.2,142.6 315.7,137.8 317.2,133.5 318.7,129.4 320.2,125.2 321.7,121.1 323.2,117.2 324.7,113.6 330,113.6 330,266 42.7,266 42.7,260.5Z" fill="#EBCC2A"/>
<path d="M45.7,260.5 49.7,260.5 53.7,260.5 57.7,260.5 61.7,260.5 65.7,260.5 69.7,260.5 73.7,260.5 77.7,260.5 81.7,260.5 85.7,260.5 89.7,260.5 93.7,260.4 97.7,260.4 101.7,260.4 105.7,260.3 109.7,260.2 113.7,260.2 117.7,260.1 121.7,260.1 125.7,260.1 129.7,260.0 133.7,260.0 137.7,260.0 141.7,259.9 145.7,259.9 149.7,259.9 153.7,259.8 157.7,259.7 161.7,259.6 165.7,259.5 169.7,259.4 173.7,259.3 177.7,259.1 181.7,258.8 185.7,258.6 189.7,258.3 193.7,257.9 197.7,257.6 201.7,257.2 203.2,257.0 204.7,256.9 206.2,256.7 207.7,256.4 209.2,256.2 210.7,255.9 212.2,255.6 213.7,255.4 215.2,255.1 216.7,254.8 218.2,254.5 219.7,254.2 221.2,253.8 222.7,253.5 224.2,253.1 225.7,252.8 227.2,252.4 228.7,252.0 230.2,251.6 231.7,251.2 233.2,250.8 234.7,250.4 236.2,249.9 237.7,249.5 239.2,249.0 240.7,248.5 242.2,247.9 243.7,247.3 245.2,246.7 246.7,246.1 248.2,245.5 249.7,244.9 251.2,244.4 252.7,243.8 254.2,243.2 255.7,242.6 257.2,242.0 258.7,241.3 260.2,240.5 261.7,239.7 263.2,238.8 264.7,237.7 266.2,236.6 267.7,235.5 269.2,234.4 270.7,233.2 272.2,232.0 273.7,230.8 275.2,229.6 276.7,228.4 278.2,226.9 279.7,225.1 281.2,223.1 282.7,221.1 284.2,219.0 285.7,216.9 287.2,214.7 288.7,212.2 290.2,209.6 291.7,206.9 293.2,204.2 294.7,201.5 296.2,198.6 297.7,195.7 299.2,192.6 300.7,189.3 302.2,185.7 303.7,181.7 305.2,177.4 306.7,172.9 308.2,168.4 309.7,163.9 311.2,159.5 312.7,154.9 314.2,150.2 315.7,145.7 317.2,141.6 318.7,137.7 320.2,133.7 321.7,129.9 323.2,126.1 324.7,122.8 330,122.8 330,266 42.7,266 42.7,260.5Z" fill="#EAC925"/>
<path d="M45.7,260.5 49.7,260.5 53.7,260.5 57.7,260.5 61.7,260.5 65.7,260.5 69.7,260.5 73.7,260.5 77.7,260.5 81.7,260.5 85.7,260.5 89.7,260.5 93.7,260.4 97.7,260.4 101.7,260.4 105.7,260.3 109.7,260.3 113.7,260.2 117.7,260.2 121.7,260.1 125.7,260.1 129.7,260.0 133.7,260.0 137.7,260.0 141.7,259.9 145.7,259.9 149.7,259.9 153.7,259.8 157.7,259.7 161.7,259.6 165.7,259.5 169.7,259.4 173.7,259.3 177.7,259.1 181.7,258.9 185.7,258.6 189.7,258.3 193.7,258.0 197.7,257.6 201.7,257.2 203.2,257.1 204.7,256.9 206.2,256.7 207.7,256.5 209.2,256.3 210.7,256.0 212.2,255.7 213.7,255.4 215.2,255.2 216.7,254.9 218.2,254.6 219.7,254.3 221.2,254.0 222.7,253.6 224.2,253.3 225.7,252.9 227.2,252.5 228.7,252.2 230.2,251.8 231.7,251.4 233.2,251.0 234.7,250.6 236.2,250.1 237.7,249.7 239.2,249.2 240.7,248.7 242.2,248.1 243.7,247.5 245.2,246.9 246.7,246.3 248.2,245.7 249.7,245.2 251.2,244.6 252.7,244.1 254.2,243.5 255.7,242.9 257.2,242.3 258.7,241.6 260.2,240.8 261.7,240.0 263.2,239.1 264.7,238.0 266.2,236.9 267.7,235.9 269.2,234.7 270.7,233.5 272.2,232.3 273.7,231.2 275.2,230.0 276.7,228.8 278.2,227.3 279.7,225.5 281.2,223.6 282.7,221.5 284.2,219.4 285.7,217.3 287.2,215.1 288.7,212.7 290.2,210.0 291.7,207.4 293.2,204.7 294.7,202.0 296.2,199.2 297.7,196.3 299.2,193.2 300.7,189.9 302.2,186.3 303.7,182.3 305.2,178.0 306.7,173.6 308.2,169.1 309.7,164.6 311.2,160.2 312.7,155.7 314.2,151.0 315.7,146.4 317.2,142.3 318.7,138.3 320.2,134.4 321.7,130.5 323.2,126.7 324.7,123.3 330,123.3 330,266 42.7,266 42.7,260.5Z" fill="#E9C621"/>
<path d="M45.7,260.5 49.7,260.5 53.7,260.5 57.7,260.5 61.7,260.5 65.7,260.5 69.7,260.5 73.7,260.5 77.7,260.5 81.7,260.5 85.7,260.5 89.7,260.5 93.7,260.4 97.7,260.4 101.7,260.4 105.7,260.3 109.7,260.3 113.7,260.2 117.7,260.2 121.7,260.1 125.7,260.1 129.7,260.1 133.7,260.0 137.7,260.0 141.7,260.0 145.7,259.9 149.7,259.9 153.7,259.8 157.7,259.7 161.7,259.7 165.7,259.6 169.7,259.5 173.7,259.3 177.7,259.2 181.7,258.9 185.7,258.7 189.7,258.4 193.7,258.1 197.7,257.7 201.7,257.3 203.2,257.2 204.7,257.1 206.2,256.9 207.7,256.7 209.2,256.4 210.7,256.2 212.2,255.9 213.7,255.7 215.2,255.4 216.7,255.2 218.2,254.9 219.7,254.6 221.2,254.3 222.7,254.0 224.2,253.6 225.7,253.3 227.2,252.9 228.7,252.6 230.2,252.2 231.7,251.9 233.2,251.5 234.7,251.1 236.2,250.7 237.7,250.3 239.2,249.8 240.7,249.3 242.2,248.8 243.7,248.2 245.2,247.6 246.7,247.1 248.2,246.5 249.7,246.0 251.2,245.5 252.7,245.0 254.2,244.4 255.7,243.8 257.2,243.2 258.7,242.6 260.2,241.8 261.7,241.1 263.2,240.2 264.7,239.2 266.2,238.2 267.7,237.2 269.2,236.1 270.7,235.0 272.2,233.8 273.7,232.7 275.2,231.6 276.7,230.5 278.2,229.1 279.7,227.4 281.2,225.5 282.7,223.6 284.2,221.6 285.7,219.6 287.2,217.5 288.7,215.1 290.2,212.7 291.7,210.2 293.2,207.7 294.7,205.2 296.2,202.5 297.7,199.8 299.2,196.9 300.7,193.9 302.2,190.6 303.7,186.9 305.2,182.9 306.7,178.8 308.2,174.6 309.7,170.4 311.2,166.3 312.7,162.0 314.2,157.5 315.7,153.1 317.2,149.2 318.7,145.3 320.2,141.4 321.7,137.6 323.2,134.0 324.7,130.7 330,130.7 330,266 42.7,266 42.7,260.5Z" fill="#E8C21C"/>
<path d="M45.7,260.5 49.7,260.5 53.7,260.5 57.7,260.5 61.7,260.5 65.7,260.5 69.7,260.5 73.7,260.5 77.7,260.5 81.7,260.5 85.7,260.5 89.7,260.5 93.7,260.4 97.7,260.4 101.7,260.4 105.7,260.3 109.7,260.3 113.7,260.2 117.7,260.2 121.7,260.1 125.7,260.1 129.7,260.1 133.7,260.0 137.7,260.0 141.7,260.0 145.7,259.9 149.7,259.9 153.7,259.8 157.7,259.7 161.7,259.7 165.7,259.6 169.7,259.5 173.7,259.3 177.7,259.2 181.7,259.0 185.7,258.7 189.7,258.4 193.7,258.1 197.7,257.7 201.7,257.4 203.2,257.2 204.7,257.1 206.2,256.9 207.7,256.7 209.2,256.5 210.7,256.2 212.2,256.0 213.7,255.7 215.2,255.5 216.7,255.2 218.2,254.9 219.7,254.7 221.2,254.3 222.7,254.0 224.2,253.7 225.7,253.4 227.2,253.0 228.7,252.7 230.2,252.3 231.7,252.0 233.2,251.6 234.7,251.2 236.2,250.8 237.7,250.4 239.2,249.9 240.7,249.4 242.2,248.9 243.7,248.3 245.2,247.8 246.7,247.2 248.2,246.7 249.7,246.1 251.2,245.6 252.7,245.1 254.2,244.5 255.7,244.0 257.2,243.4 258.7,242.7 260.2,242.0 261.7,241.2 263.2,240.4 264.7,239.4 266.2,238.4 267.7,237.3 269.2,236.3 270.7,235.2 272.2,234.0 273.7,232.9 275.2,231.8 276.7,230.7 278.2,229.3 279.7,227.6 281.2,225.8 282.7,223.8 284.2,221.9 285.7,219.9 287.2,217.8 288.7,215.4 290.2,213.0 291.7,210.5 293.2,208.0 294.7,205.5 296.2,202.9 297.7,200.2 299.2,197.4 300.7,194.3 302.2,191.0 303.7,187.3 305.2,183.4 306.7,179.3 308.2,175.1 309.7,171.0 311.2,166.9 312.7,162.6 314.2,158.1 315.7,153.7 317.2,149.7 318.7,145.9 320.2,142.0 321.7,138.2 323.2,134.5 324.7,131.2 330,131.2 330,266 42.7,266 42.7,260.5Z" fill="#E7BF17"/>
<path d="M45.7,260.5 49.7,260.5 53.7,260.5 57.7,260.5 61.7,260.5 65.7,260.5 69.7,260.5 73.7,260.5 77.7,260.5 81.7,260.5 85.7,260.5 89.7,260.5 93.7,260.4 97.7,260.4 101.7,260.4 105.7,260.3 109.7,260.3 113.7,260.2 117.7,260.2 121.7,260.1 125.7,260.1 129.7,260.1 133.7,260.0 137.7,260.0 141.7,260.0 145.7,259.9 149.7,259.9 153.7,259.8 157.7,259.8 161.7,259.7 165.7,259.6 169.7,259.5 173.7,259.4 177.7,259.2 181.7,259.0 185.7,258.7 189.7,258.4 193.7,258.2 197.7,257.8 201.7,257.4 203.2,257.3 204.7,257.2 206.2,257.0 207.7,256.8 209.2,256.6 210.7,256.3 212.2,256.1 213.7,255.8 215.2,255.6 216.7,255.3 218.2,255.1 219.7,254.8 221.2,254.5 222.7,254.2 224.2,253.9 225.7,253.5 227.2,253.2 228.7,252.9 230.2,252.5 231.7,252.2 233.2,251.8 234.7,251.4 236.2,251.1 237.7,250.7 239.2,250.2 240.7,249.7 242.2,249.2 243.7,248.7 245.2,248.2 246.7,247.6 248.2,247.1 249.7,246.6 251.2,246.1 252.7,245.6 254.2,245.1 255.7,244.5 257.2,244.0 258.7,243.3 260.2,242.6 261.7,241.9 263.2,241.1 264.7,240.1 266.2,239.1 267.7,238.2 269.2,237.2 270.7,236.1 272.2,235.0 273.7,233.9 275.2,232.9 276.7,231.8 278.2,230.5 279.7,228.9 281.2,227.1 282.7,225.3 284.2,223.4 285.7,221.4 287.2,219.4 288.7,217.2 290.2,214.9 291.7,212.6 293.2,210.2 294.7,207.8 296.2,205.4 297.7,202.9 299.2,200.2 300.7,197.4 302.2,194.3 303.7,190.9 305.2,187.2 306.7,183.4 308.2,179.5 309.7,175.7 311.2,171.8 312.7,167.8 314.2,163.5 315.7,159.3 317.2,155.5 318.7,151.7 320.2,148.0 321.7,144.3 323.2,140.8 324.7,137.7 330,137.7 330,266 42.7,266 42.7,260.5Z" fill="#E5BC12"/>
<path d="M45.7,260.5 49.7,260.5 53.7,260.5 57.7,260.5 61.7,260.5 65.7,260.5 69.7,260.5 73.7,260.5 77.7,260.5 81.7,260.5 85.7,260.5 89.7,260.5 93.7,260.4 97.7,260.4 101.7,260.4 105.7,260.3 109.7,260.3 113.7,260.2 117.7,260.2 121.7,260.1 125.7,260.1 129.7,260.1 133.7,260.0 137.7,260.0 141.7,260.0 145.7,260.0 149.7,259.9 153.7,259.8 157.7,259.8 161.7,259.7 165.7,259.6 169.7,259.5 173.7,259.4 177.7,259.2 181.7,259.0 185.7,258.7 189.7,258.5 193.7,258.2 197.7,257.8 201.7,257.5 203.2,257.4 204.7,257.2 206.2,257.1 207.7,256.9 209.2,256.6 210.7,256.4 212.2,256.2 213.7,255.9 215.2,255.7 216.7,255.4 218.2,255.2 219.7,254.9 221.2,254.6 222.7,254.3 224.2,254.0 225.7,253.7 227.2,253.4 228.7,253.0 230.2,252.7 231.7,252.4 233.2,252.0 234.7,251.6 236.2,251.2 237.7,250.8 239.2,250.4 240.7,249.9 242.2,249.4 243.7,248.9 245.2,248.4 246.7,247.9 248.2,247.4 249.7,246.9 251.2,246.4 252.7,245.9 254.2,245.3 255.7,244.8 257.2,244.2 258.7,243.6 260.2,242.9 261.7,242.2 263.2,241.4 264.7,240.5 266.2,239.5 267.7,238.5 269.2,237.5 270.7,236.4 272.2,235.4 273.7,234.3 275.2,233.3 276.7,232.2 278.2,230.9 279.7,229.3 281.2,227.5 282.7,225.7 284.2,223.8 285.7,221.9 287.2,219.9 288.7,217.7 290.2,215.4 291.7,213.1 293.2,210.7 294.7,208.4 296.2,206.0 297.7,203.4 299.2,200.8 300.7,198.0 302.2,194.9 303.7,191.5 305.2,187.9 306.7,184.1 308.2,180.2 309.7,176.4 311.2,172.6 312.7,168.5 314.2,164.2 315.7,160.0 317.2,156.2 318.7,152.4 320.2,148.7 321.7,145.0 323.2,141.4 324.7,138.2 330,138.2 330,266 42.7,266 42.7,260.5Z" fill="#E5B90F"/>
<path d="M45.7,260.5 49.7,260.5 53.7,260.5 57.7,260.5 61.7,260.5 65.7,260.5 69.7,260.5 73.7,260.5 77.7,260.5 81.7,260.5 85.7,260.5 89.7,260.5 93.7,260.4 97.7,260.4 101.7,260.4 105.7,260.3 109.7,260.3 113.7,260.2 117.7,260.2 121.7,260.2 125.7,260.1 129.7,260.1 133.7,260.1 137.7,260.1 141.7,260.0 145.7,260.0 149.7,260.0 153.7,259.9 157.7,259.8 161.7,259.8 165.7,259.7 169.7,259.6 173.7,259.5 177.7,259.3 181.7,259.1 185.7,258.9 189.7,258.6 193.7,258.4 197.7,258.1 201.7,257.7 203.2,257.6 204.7,257.5 206.2,257.3 207.7,257.2 209.2,256.9 210.7,256.7 212.2,256.5 213.7,256.3 215.2,256.1 216.7,255.8 218.2,255.6 219.7,255.4 221.2,255.1 222.7,254.8 224.2,254.5 225.7,254.2 227.2,253.9 228.7,253.6 230.2,253.3 231.7,253.0 233.2,252.7 234.7,252.3 236.2,252.0 237.7,251.6 239.2,251.2 240.7,250.7 242.2,250.2 243.7,249.8 245.2,249.3 246.7,248.8 248.2,248.3 249.7,247.8 251.2,247.3 252.7,246.8 254.2,246.3 255.7,245.8 257.2,245.2 258.7,244.6 260.2,243.9 261.7,243.2 263.2,242.4 264.7,241.5 266.2,240.5 267.7,239.6 269.2,238.6 270.7,237.5 272.2,236.5 273.7,235.5 275.2,234.4 276.7,233.4 278.2,232.1 279.7,230.5 281.2,228.8 282.7,227.1 284.2,225.3 285.7,223.5 287.2,221.5 288.7,219.4 290.2,217.2 291.7,214.9 293.2,212.6 294.7,210.3 296.2,207.9 297.7,205.4 299.2,202.8 300.7,200.0 302.2,197.0 303.7,193.7 305.2,190.1 306.7,186.4 308.2,182.6 309.7,178.9 311.2,175.1 312.7,171.2 314.2,167.0 315.7,162.9 317.2,159.1 318.7,155.4 320.2,151.7 321.7,148.1 323.2,144.6 324.7,141.4 330,141.4 330,266 42.7,266 42.7,260.5Z" fill="#E4B70C"/>
<path d="M45.7,260.5 49.7,260.5 53.7,260.5 57.7,260.5 61.7,260.5 65.7,260.5 69.7,260.5 73.7,260.5 77.7,260.5 81.7,260.5 85.7,260.5 89.7,260.5 93.7,260.5 97.7,260.4 101.7,260.4 105.7,260.4 109.7,260.3 113.7,260.3 117.7,260.2 121.7,260.2 125.7,260.2 129.7,260.1 133.7,260.1 137.7,260.1 141.7,260.1 145.7,260.0 149.7,260.0 153.7,260.0 157.7,259.9 161.7,259.8 165.7,259.8 169.7,259.7 173.7,259.6 177.7,259.4 181.7,259.2 185.7,259.0 189.7,258.8 193.7,258.6 197.7,258.3 201.7,258.0 203.2,257.9 204.7,257.7 206.2,257.6 207.7,257.4 209.2,257.3 210.7,257.1 212.2,256.9 213.7,256.7 215.2,256.5 216.7,256.3 218.2,256.0 219.7,255.8 221.2,255.6 222.7,255.3 224.2,255.0 225.7,254.8 227.2,254.5 228.7,254.2 230.2,253.9 231.7,253.7 233.2,253.3 234.7,253.0 236.2,252.7 237.7,252.3 239.2,252.0 240.7,251.5 242.2,251.1 243.7,250.6 245.2,250.2 246.7,249.7 248.2,249.3 249.7,248.8 251.2,248.4 252.7,247.9 254.2,247.4 255.7,246.8 257.2,246.3 258.7,245.7 260.2,245.0 261.7,244.3 263.2,243.6 264.7,242.7 266.2,241.8 267.7,240.8 269.2,239.9 270.7,238.8 272.2,237.8 273.7,236.8 275.2,235.8 276.7,234.8 278.2,233.6 279.7,232.1 281.2,230.5 282.7,228.8 284.2,227.1 285.7,225.4 287.2,223.6 288.7,221.6 290.2,219.4 291.7,217.2 293.2,215.0 294.7,212.7 296.2,210.4 297.7,208.0 299.2,205.4 300.7,202.7 302.2,199.9 303.7,196.7 305.2,193.2 306.7,189.7 308.2,186.1 309.7,182.5 311.2,178.9 312.7,175.1 314.2,171.2 315.7,167.3 317.2,163.7 318.7,160.1 320.2,156.6 321.7,153.1 323.2,149.7 324.7,146.6 330,146.6 330,266 42.7,266 42.7,260.5Z" fill="#E3B508"/>
<path d="M45.7,260.5 49.7,260.5 53.7,260.5 57.7,260.5 61.7,260.5 65.7,260.5 69.7,260.5 73.7,260.5 77.7,260.5 81.7,260.5 85.7,260.5 89.7,260.5 93.7,260.5 97.7,260.4 101.7,260.4 105.7,260.4 109.7,260.3 113.7,260.3 117.7,260.3 121.7,260.2 125.7,260.2 129.7,260.2 133.7,260.2 137.7,260.1 141.7,260.1 145.7,260.1 149.7,260.1 153.7,260.0 157.7,259.9 161.7,259.9 165.7,259.8 169.7,259.7 173.7,259.6 177.7,259.5 181.7,259.4 185.7,259.2 189.7,259.0 193.7,258.7 197.7,258.5 201.7,258.2 203.2,258.1 204.7,258.0 206.2,257.9 207.7,257.7 209.2,257.6 210.7,257.4 212.2,257.2 213.7,257.0 215.2,256.8 216.7,256.7 218.2,256.5 219.7,256.3 221.2,256.0 222.7,255.8 224.2,255.6 225.7,255.3 227.2,255.1 228.7,254.8 230.2,254.6 231.7,254.3 233.2,254.1 234.7,253.8 236.2,253.5 237.7,253.2 239.2,252.8 240.7,252.4 242.2,252.0 243.7,251.6 245.2,251.2 246.7,250.8 248.2,250.4 249.7,249.9 251.2,249.5 252.7,249.1 254.2,248.6 255.7,248.1 257.2,247.6 258.7,247.0 260.2,246.4 261.7,245.7 263.2,245.0 264.7,244.1 266.2,243.2 267.7,242.3 269.2,241.4 270.7,240.5 272.2,239.5 273.7,238.6 275.2,237.6 276.7,236.7 278.2,235.5 279.7,234.1 281.2,232.6 282.7,231.1 284.2,229.6 285.7,228.0 287.2,226.4 288.7,224.5 290.2,222.5 291.7,220.4 293.2,218.3 294.7,216.2 296.2,213.9 297.7,211.6 299.2,209.2 300.7,206.7 302.2,204.0 303.7,201.0 305.2,197.8 306.7,194.5 308.2,191.2 309.7,187.8 311.2,184.5 312.7,181.1 314.2,177.4 315.7,173.9 317.2,170.6 318.7,167.4 320.2,164.1 321.7,160.9 323.2,157.7 324.7,154.8 330,154.8 330,266 42.7,266 42.7,260.5Z" fill="#E2B205"/>
<path d="M45.7,260.5 49.7,260.5 53.7,260.5 57.7,260.5 61.7,260.5 65.7,260.5 69.7,260.5 73.7,260.5 77.7,260.5 81.7,260.5 85.7,260.5 89.7,260.5 93.7,260.5 97.7,260.4 101.7,260.4 105.7,260.4 109.7,260.3 113.7,260.3 117.7,260.3 121.7,260.3 125.7,260.2 129.7,260.2 133.7,260.2 137.7,260.2 141.7,260.1 145.7,260.1 149.7,260.1 153.7,260.0 157.7,260.0 161.7,259.9 165.7,259.9 169.7,259.8 173.7,259.7 177.7,259.6 181.7,259.4 185.7,259.3 189.7,259.1 193.7,258.9 197.7,258.6 201.7,258.4 203.2,258.3 204.7,258.2 206.2,258.1 207.7,257.9 209.2,257.8 210.7,257.6 212.2,257.4 213.7,257.3 215.2,257.1 216.7,256.9 218.2,256.8 219.7,256.6 221.2,256.4 222.7,256.2 224.2,255.9 225.7,255.7 227.2,255.5 228.7,255.3 230.2,255.1 231.7,254.8 233.2,254.6 234.7,254.3 236.2,254.0 237.7,253.7 239.2,253.4 240.7,253.1 242.2,252.7 243.7,252.3 245.2,251.9 246.7,251.5 248.2,251.2 249.7,250.8 251.2,250.4 252.7,249.9 254.2,249.5 255.7,249.0 257.2,248.5 258.7,247.9 260.2,247.3 261.7,246.7 263.2,246.0 264.7,245.2 266.2,244.3 267.7,243.5 269.2,242.6 270.7,241.6 272.2,240.7 273.7,239.8 275.2,238.9 276.7,238.0 278.2,236.9 279.7,235.6 281.2,234.2 282.7,232.8 284.2,231.3 285.7,229.9 287.2,228.4 288.7,226.7 290.2,224.8 291.7,222.8 293.2,220.8 294.7,218.7 296.2,216.5 297.7,214.3 299.2,212.0 300.7,209.6 302.2,207.0 303.7,204.2 305.2,201.2 306.7,198.1 308.2,195.0 309.7,191.9 311.2,188.8 312.7,185.6 314.2,182.2 315.7,178.9 317.2,175.9 318.7,172.9 320.2,169.9 321.7,166.8 323.2,163.8 324.7,161.1 330,161.1 330,266 42.7,266 42.7,260.5Z" fill="#E1B002"/>
<path d="M45.7,260.5 49.7,260.5 53.7,260.5 57.7,260.5 61.7,260.5 65.7,260.5 69.7,260.5 73.7,260.5 77.7,260.5 81.7,260.5 85.7,260.5 89.7,260.5 93.7,260.5 97.7,260.4 101.7,260.4 105.7,260.4 109.7,260.3 113.7,260.3 117.7,260.3 121.7,260.3 125.7,260.2 129.7,260.2 133.7,260.2 137.7,260.2 141.7,260.2 145.7,260.1 149.7,260.1 153.7,260.1 157.7,260.0 161.7,260.0 165.7,259.9 169.7,259.8 173.7,259.8 177.7,259.6 181.7,259.5 185.7,259.3 189.7,259.2 193.7,259.0 197.7,258.7 201.7,258.5 203.2,258.4 204.7,258.3 206.2,258.2 207.7,258.1 209.2,257.9 210.7,257.8 212.2,257.6 213.7,257.5 215.2,257.3 216.7,257.2 218.2,257.0 219.7,256.8 221.2,256.6 222.7,256.4 224.2,256.3 225.7,256.1 227.2,255.9 228.7,255.6 230.2,255.4 231.7,255.2 233.2,255.0 234.7,254.7 236.2,254.5 237.7,254.2 239.2,253.9 240.7,253.6 242.2,253.3 243.7,252.9 245.2,252.6 246.7,252.2 248.2,251.9 249.7,251.5 251.2,251.1 252.7,250.7 254.2,250.3 255.7,249.8 257.2,249.3 258.7,248.8 260.2,248.2 261.7,247.6 263.2,246.9 264.7,246.1 266.2,245.3 267.7,244.5 269.2,243.6 270.7,242.8 272.2,241.9 273.7,241.0 275.2,240.2 276.7,239.3 278.2,238.2 279.7,237.0 281.2,235.7 282.7,234.4 284.2,233.1 285.7,231.8 287.2,230.4 288.7,228.8 290.2,227.0 291.7,225.2 293.2,223.2 294.7,221.2 296.2,219.2 297.7,217.0 299.2,214.8 300.7,212.5 302.2,210.1 303.7,207.5 305.2,204.7 306.7,201.8 308.2,198.9 309.7,196.0 311.2,193.1 312.7,190.1 314.2,187.1 315.7,184.1 317.2,181.4 318.7,178.6 320.2,175.8 321.7,172.9 323.2,170.2 324.7,167.7 330,167.7 330,266 42.7,266 42.7,260.5Z" fill="#E2A300"/>
<path d="M45.7,260.5 49.7,260.5 53.7,260.5 57.7,260.5 61.7,260.5 65.7,260.5 69.7,260.5 73.7,260.5 77.7,260.5 81.7,260.5 85.7,260.5 89.7,260.5 93.7,260.5 97.7,260.5 101.7,260.4 105.7,260.4 109.7,260.4 113.7,260.4 117.7,260.4 121.7,260.3 125.7,260.3 129.7,260.3 133.7,260.3 137.7,260.3 141.7,260.3 145.7,260.2 149.7,260.2 153.7,260.2 157.7,260.2 161.7,260.1 165.7,260.1 169.7,260.0 173.7,260.0 177.7,259.9 181.7,259.8 185.7,259.7 189.7,259.6 193.7,259.4 197.7,259.3 201.7,259.1 203.2,259.0 204.7,259.0 206.2,258.9 207.7,258.8 209.2,258.7 210.7,258.6 212.2,258.5 213.7,258.4 215.2,258.3 216.7,258.2 218.2,258.1 219.7,258.0 221.2,257.8 222.7,257.7 224.2,257.6 225.7,257.4 227.2,257.3 228.7,257.2 230.2,257.0 231.7,256.9 233.2,256.7 234.7,256.5 236.2,256.3 237.7,256.1 239.2,255.9 240.7,255.7 242.2,255.4 243.7,255.1 245.2,254.9 246.7,254.6 248.2,254.3 249.7,254.0 251.2,253.8 252.7,253.5 254.2,253.1 255.7,252.8 257.2,252.5 258.7,252.1 260.2,251.7 261.7,251.3 263.2,250.8 264.7,250.2 266.2,249.6 267.7,249.1 269.2,248.4 270.7,247.8 272.2,247.1 273.7,246.5 275.2,245.8 276.7,245.1 278.2,244.3 279.7,243.3 281.2,242.3 282.7,241.2 284.2,240.2 285.7,239.1 287.2,238.0 288.7,236.8 290.2,235.4 291.7,234.0 293.2,232.5 294.7,231.0 296.2,229.5 297.7,227.9 299.2,226.3 300.7,224.6 302.2,223.0 303.7,221.2 305.2,219.2 306.7,217.3 308.2,215.3 309.7,213.3 311.2,211.4 312.7,209.5 314.2,207.5 315.7,205.6 317.2,203.9 318.7,202.2 320.2,200.5 321.7,198.8 323.2,197.1 324.7,195.6 330,195.6 330,266 42.7,266 42.7,260.5Z" fill="#E49700"/>
<path d="M45.7,260.5 49.7,260.5 53.7,260.5 57.7,260.5 61.7,260.5 65.7,260.5 69.7,260.5 73.7,260.5 77.7,260.5 81.7,260.5 85.7,260.5 89.7,260.5 93.7,260.5 97.7,260.5 101.7,260.4 105.7,260.4 109.7,260.4 113.7,260.4 117.7,260.4 121.7,260.4 125.7,260.3 129.7,260.3 133.7,260.3 137.7,260.3 141.7,260.3 145.7,260.3 149.7,260.3 153.7,260.2 157.7,260.2 161.7,260.2 165.7,260.1 169.7,260.1 173.7,260.0 177.7,260.0 181.7,259.9 185.7,259.8 189.7,259.7 193.7,259.6 197.7,259.4 201.7,259.3 203.2,259.2 204.7,259.2 206.2,259.1 207.7,259.0 209.2,258.9 210.7,258.8 212.2,258.8 213.7,258.7 215.2,258.6 216.7,258.5 218.2,258.4 219.7,258.3 221.2,258.2 222.7,258.1 224.2,258.0 225.7,257.8 227.2,257.7 228.7,257.6 230.2,257.5 231.7,257.4 233.2,257.2 234.7,257.1 236.2,256.9 237.7,256.7 239.2,256.5 240.7,256.3 242.2,256.1 243.7,255.9 245.2,255.7 246.7,255.4 248.2,255.2 249.7,255.0 251.2,254.7 252.7,254.5 254.2,254.2 255.7,254.0 257.2,253.7 258.7,253.4 260.2,253.0 261.7,252.7 263.2,252.3 264.7,251.8 266.2,251.3 267.7,250.8 269.2,250.3 270.7,249.8 272.2,249.2 273.7,248.6 275.2,248.1 276.7,247.5 278.2,246.8 279.7,245.9 281.2,245.0 282.7,244.1 284.2,243.1 285.7,242.2 287.2,241.2 288.7,240.0 290.2,238.8 291.7,237.6 293.2,236.3 294.7,235.0 296.2,233.7 297.7,232.3 299.2,230.8 300.7,229.4 302.2,227.8 303.7,226.1 305.2,224.2 306.7,222.4 308.2,220.4 309.7,218.5 311.2,216.6 312.7,214.7 314.2,212.6 315.7,210.7 317.2,208.9 318.7,207.2 320.2,205.5 321.7,203.9 323.2,202.3 324.7,200.9 330,200.9 330,266 42.7,266 42.7,260.5Z" fill="#E68500"/>
<path d="M45.7,260.5 49.7,260.5 53.7,260.5 57.7,260.5 61.7,260.5 65.7,260.5 69.7,260.5 73.7,260.5 77.7,260.5 81.7,260.5 85.7,260.5 89.7,260.5 93.7,260.5 97.7,260.5 101.7,260.5 105.7,260.4 109.7,260.4 113.7,260.4 117.7,260.4 121.7,260.4 125.7,260.4 129.7,260.4 133.7,260.3 137.7,260.3 141.7,260.3 145.7,260.3 149.7,260.3 153.7,260.3 157.7,260.3 161.7,260.2 165.7,260.2 169.7,260.2 173.7,260.1 177.7,260.1 181.7,260.0 185.7,259.9 189.7,259.8 193.7,259.7 197.7,259.6 201.7,259.5 203.2,259.5 204.7,259.4 206.2,259.4 207.7,259.3 209.2,259.2 210.7,259.1 212.2,259.1 213.7,259.0 215.2,258.9 216.7,258.8 218.2,258.8 219.7,258.7 221.2,258.6 222.7,258.5 224.2,258.4 225.7,258.3 227.2,258.2 228.7,258.1 230.2,258.0 231.7,257.9 233.2,257.7 234.7,257.6 236.2,257.5 237.7,257.3 239.2,257.2 240.7,257.0 242.2,256.8 243.7,256.6 245.2,256.4 246.7,256.2 248.2,256.0 249.7,255.8 251.2,255.6 252.7,255.4 254.2,255.2 255.7,255.0 257.2,254.7 258.7,254.5 260.2,254.2 261.7,253.9 263.2,253.5 264.7,253.1 266.2,252.7 267.7,252.3 269.2,251.9 270.7,251.4 272.2,250.9 273.7,250.4 275.2,249.8 276.7,249.3 278.2,248.7 279.7,247.9 281.2,247.0 282.7,246.2 284.2,245.3 285.7,244.3 287.2,243.4 288.7,242.3 290.2,241.2 291.7,240.0 293.2,238.9 294.7,237.7 296.2,236.4 297.7,235.2 299.2,233.8 300.7,232.4 302.2,230.9 303.7,229.2 305.2,227.4 306.7,225.5 308.2,223.5 309.7,221.6 311.2,219.7 312.7,217.7 314.2,215.6 315.7,213.6 317.2,211.8 318.7,210.0 320.2,208.3 321.7,206.7 323.2,205.1 324.7,203.7 330,203.7 330,266 42.7,266 42.7,260.5Z" fill="#E77900"/>
<path d="M45.7,260.5 49.7,260.5 53.7,260.5 57.7,260.5 61.7,260.5 65.7,260.5 69.7,260.5 73.7,260.5 77.7,260.5 81.7,260.5 85.7,260.5 89.7,260.5 93.7,260.5 97.7,260.5 101.7,260.5 105.7,260.4 109.7,260.4 113.7,260.4 117.7,260.4 121.7,260.4 125.7,260.4 129.7,260.4 133.7,260.4 137.7,260.3 141.7,260.3 145.7,260.3 149.7,260.3 153.7,260.3 157.7,260.3 161.7,260.2 165.7,260.2 169.7,260.2 173.7,260.1 177.7,260.1 181.7,260.0 185.7,259.9 189.7,259.8 193.7,259.7 197.7,259.6 201.7,259.5 203.2,259.5 204.7,259.4 206.2,259.4 207.7,259.3 209.2,259.2 210.7,259.2 212.2,259.1 213.7,259.0 215.2,258.9 216.7,258.9 218.2,258.8 219.7,258.7 221.2,258.6 222.7,258.5 224.2,258.4 225.7,258.3 227.2,258.2 228.7,258.1 230.2,258.0 231.7,257.9 233.2,257.8 234.7,257.7 236.2,257.5 237.7,257.4 239.2,257.3 240.7,257.1 242.2,256.9 243.7,256.7 245.2,256.5 246.7,256.4 248.2,256.2 249.7,256.0 251.2,255.8 252.7,255.6 254.2,255.4 255.7,255.2 257.2,255.0 258.7,254.7 260.2,254.4 261.7,254.1 263.2,253.8 264.7,253.4 266.2,253.0 267.7,252.6 269.2,252.2 270.7,251.8 272.2,251.3 273.7,250.8 275.2,250.3 276.7,249.8 278.2,249.2 279.7,248.5 281.2,247.7 282.7,246.8 284.2,246.0 285.7,245.1 287.2,244.2 288.7,243.2 290.2,242.1 291.7,241.0 293.2,239.9 294.7,238.8 296.2,237.6 297.7,236.4 299.2,235.1 300.7,233.7 302.2,232.2 303.7,230.6 305.2,228.9 306.7,227.1 308.2,225.2 309.7,223.3 311.2,221.5 312.7,219.6 314.2,217.6 315.7,215.7 317.2,214.0 318.7,212.3 320.2,210.7 321.7,209.2 323.2,207.7 324.7,206.4 330,206.4 330,266 42.7,266 42.7,260.5Z" fill="#E87200"/>
<path d="M45.7,260.5 49.7,260.5 53.7,260.5 57.7,260.5 61.7,260.5 65.7,260.5 69.7,260.5 73.7,260.5 77.7,260.5 81.7,260.5 85.7,260.5 89.7,260.5 93.7,260.5 97.7,260.5 101.7,260.5 105.7,260.4 109.7,260.4 113.7,260.4 117.7,260.4 121.7,260.4 125.7,260.4 129.7,260.4 133.7,260.4 137.7,260.4 141.7,260.4 145.7,260.3 149.7,260.3 153.7,260.3 157.7,260.3 161.7,260.3 165.7,260.2 169.7,260.2 173.7,260.2 177.7,260.1 181.7,260.1 185.7,260.0 189.7,259.9 193.7,259.8 197.7,259.7 201.7,259.6 203.2,259.6 204.7,259.6 206.2,259.5 207.7,259.5 209.2,259.4 210.7,259.3 212.2,259.3 213.7,259.2 215.2,259.1 216.7,259.1 218.2,259.0 219.7,258.9 221.2,258.9 222.7,258.8 224.2,258.7 225.7,258.6 227.2,258.5 228.7,258.4 230.2,258.3 231.7,258.2 233.2,258.1 234.7,258.0 236.2,257.9 237.7,257.8 239.2,257.7 240.7,257.5 242.2,257.4 243.7,257.2 245.2,257.1 246.7,256.9 248.2,256.7 249.7,256.6 251.2,256.4 252.7,256.3 254.2,256.1 255.7,255.9 257.2,255.7 258.7,255.5 260.2,255.2 261.7,255.0 263.2,254.7 264.7,254.4 266.2,254.0 267.7,253.7 269.2,253.3 270.7,252.9 272.2,252.5 273.7,252.1 275.2,251.6 276.7,251.2 278.2,250.6 279.7,250.0 281.2,249.3 282.7,248.5 284.2,247.7 285.7,246.9 287.2,246.1 288.7,245.2 290.2,244.2 291.7,243.2 293.2,242.2 294.7,241.1 296.2,240.0 297.7,238.9 299.2,237.7 300.7,236.4 302.2,235.0 303.7,233.4 305.2,231.8 306.7,230.1 308.2,228.3 309.7,226.5 311.2,224.8 312.7,223.0 314.2,221.2 315.7,219.4 317.2,217.7 318.7,216.2 320.2,214.7 321.7,213.3 323.2,212.0 324.7,210.8 330,210.8 330,266 42.7,266 42.7,260.5Z" fill="#E96A00"/>
<path d="M45.7,260.5 49.7,260.5 53.7,260.5 57.7,260.5 61.7,260.5 65.7,260.5 69.7,260.5 73.7,260.5 77.7,260.5 81.7,260.5 85.7,260.5 89.7,260.5 93.7,260.5 97.7,260.5 101.7,260.5 105.7,260.5 109.7,260.4 113.7,260.4 117.7,260.4 121.7,260.4 125.7,260.4 129.7,260.4 133.7,260.4 137.7,260.4 141.7,260.4 145.7,260.3 149.7,260.3 153.7,260.3 157.7,260.3 161.7,260.3 165.7,260.3 169.7,260.2 173.7,260.2 177.7,260.1 181.7,260.1 185.7,260.0 189.7,259.9 193.7,259.9 197.7,259.8 201.7,259.7 203.2,259.6 204.7,259.6 206.2,259.6 207.7,259.5 209.2,259.4 210.7,259.4 212.2,259.3 213.7,259.3 215.2,259.2 216.7,259.1 218.2,259.1 219.7,259.0 221.2,258.9 222.7,258.8 224.2,258.8 225.7,258.7 227.2,258.6 228.7,258.5 230.2,258.4 231.7,258.3 233.2,258.3 234.7,258.1 236.2,258.0 237.7,257.9 239.2,257.8 240.7,257.7 242.2,257.5 243.7,257.4 245.2,257.2 246.7,257.1 248.2,256.9 249.7,256.8 251.2,256.7 252.7,256.5 254.2,256.3 255.7,256.1 257.2,256.0 258.7,255.8 260.2,255.5 261.7,255.3 263.2,255.0 264.7,254.7 266.2,254.4 267.7,254.1 269.2,253.8 270.7,253.4 272.2,253.0 273.7,252.6 275.2,252.2 276.7,251.8 278.2,251.3 279.7,250.6 281.2,250.0 282.7,249.3 284.2,248.5 285.7,247.8 287.2,247.0 288.7,246.1 290.2,245.2 291.7,244.2 293.2,243.3 294.7,242.3 296.2,241.2 297.7,240.1 299.2,239.0 300.7,237.7 302.2,236.4 303.7,234.9 305.2,233.3 306.7,231.7 308.2,230.0 309.7,228.3 311.2,226.6 312.7,224.9 314.2,223.1 315.7,221.4 317.2,219.9 318.7,218.4 320.2,217.1 321.7,215.8 323.2,214.5 324.7,213.4 330,213.4 330,266 42.7,266 42.7,260.5Z" fill="#EA6200"/>
<path d="M45.7,260.5 49.7,260.5 53.7,260.5 57.7,260.5 61.7,260.5 65.7,260.5 69.7,260.5 73.7,260.5 77.7,260.5 81.7,260.5 85.7,260.5 89.7,260.5 93.7,260.5 97.7,260.5 101.7,260.5 105.7,260.5 109.7,260.4 113.7,260.4 117.7,260.4 121.7,260.4 125.7,260.4 129.7,260.4 133.7,260.4 137.7,260.4 141.7,260.4 145.7,260.4 149.7,260.4 153.7,260.3 157.7,260.3 161.7,260.3 165.7,260.3 169.7,260.2 173.7,260.2 177.7,260.2 181.7,260.1 185.7,260.1 189.7,260.0 193.7,259.9 197.7,259.8 201.7,259.7 203.2,259.7 204.7,259.7 206.2,259.6 207.7,259.6 209.2,259.5 210.7,259.5 212.2,259.4 213.7,259.3 215.2,259.3 216.7,259.2 218.2,259.2 219.7,259.1 221.2,259.0 222.7,259.0 224.2,258.9 225.7,258.8 227.2,258.7 228.7,258.6 230.2,258.6 231.7,258.5 233.2,258.4 234.7,258.3 236.2,258.2 237.7,258.1 239.2,258.0 240.7,257.9 242.2,257.7 243.7,257.6 245.2,257.5 246.7,257.3 248.2,257.2 249.7,257.0 251.2,256.9 252.7,256.8 254.2,256.6 255.7,256.4 257.2,256.3 258.7,256.1 260.2,255.8 261.7,255.6 263.2,255.4 264.7,255.1 266.2,254.8 267.7,254.5 269.2,254.2 270.7,253.8 272.2,253.4 273.7,253.1 275.2,252.7 276.7,252.3 278.2,251.8 279.7,251.2 281.2,250.5 282.7,249.9 284.2,249.2 285.7,248.4 287.2,247.7 288.7,246.8 290.2,245.9 291.7,245.0 293.2,244.0 294.7,243.0 296.2,242.0 297.7,240.9 299.2,239.8 300.7,238.6 302.2,237.3 303.7,235.8 305.2,234.2 306.7,232.6 308.2,230.9 309.7,229.3 311.2,227.6 312.7,225.9 314.2,224.2 315.7,222.5 317.2,221.0 318.7,219.5 320.2,218.2 321.7,216.9 323.2,215.7 324.7,214.6 330,214.6 330,266 42.7,266 42.7,260.5Z" fill="#EB5B00"/>
<path d="M45.7,260.5 49.7,260.5 53.7,260.5 57.7,260.5 61.7,260.5 65.7,260.5 69.7,260.5 73.7,260.5 77.7,260.5 81.7,260.5 85.7,260.5 89.7,260.5 93.7,260.5 97.7,260.5 101.7,260.5 105.7,260.5 109.7,260.4 113.7,260.4 117.7,260.4 121.7,260.4 125.7,260.4 129.7,260.4 133.7,260.4 137.7,260.4 141.7,260.4 145.7,260.4 149.7,260.4 153.7,260.3 157.7,260.3 161.7,260.3 165.7,260.3 169.7,260.3 173.7,260.2 177.7,260.2 181.7,260.1 185.7,260.1 189.7,260.0 193.7,260.0 197.7,259.9 201.7,259.8 203.2,259.8 204.7,259.7 206.2,259.7 207.7,259.6 209.2,259.6 210.7,259.5 212.2,259.5 213.7,259.4 215.2,259.4 216.7,259.3 218.2,259.3 219.7,259.2 221.2,259.1 222.7,259.1 224.2,259.0 225.7,258.9 227.2,258.9 228.7,258.8 230.2,258.7 231.7,258.6 233.2,258.5 234.7,258.5 236.2,258.4 237.7,258.3 239.2,258.2 240.7,258.1 242.2,257.9 243.7,257.8 245.2,257.7 246.7,257.6 248.2,257.4 249.7,257.3 251.2,257.2 252.7,257.0 254.2,256.9 255.7,256.7 257.2,256.6 258.7,256.4 260.2,256.2 261.7,256.0 263.2,255.8 264.7,255.5 266.2,255.2 267.7,255.0 269.2,254.7 270.7,254.3 272.2,254.0 273.7,253.6 275.2,253.3 276.7,252.9 278.2,252.4 279.7,251.9 281.2,251.3 282.7,250.6 284.2,250.0 285.7,249.3 287.2,248.6 288.7,247.8 290.2,246.9 291.7,246.0 293.2,245.1 294.7,244.1 296.2,243.2 297.7,242.1 299.2,241.0 300.7,239.8 302.2,238.6 303.7,237.2 305.2,235.6 306.7,234.1 308.2,232.4 309.7,230.8 311.2,229.2 312.7,227.6 314.2,225.9 315.7,224.3 317.2,222.8 318.7,221.5 320.2,220.2 321.7,219.0 323.2,217.8 324.7,216.8 330,216.8 330,266 42.7,266 42.7,260.5Z" fill="#EB5300"/>
<path d="M45.7,260.5 49.7,260.5 53.7,260.5 57.7,260.5 61.7,260.5 65.7,260.5 69.7,260.5 73.7,260.5 77.7,260.5 81.7,260.5 85.7,260.5 89.7,260.5 93.7,260.5 97.7,260.5 101.7,260.5 105.7,260.5 109.7,260.4 113.7,260.4 117.7,260.4 121.7,260.4 125.7,260.4 129.7,260.4 133.7,260.4 137.7,260.4 141.7,260.4 145.7,260.4 149.7,260.4 153.7,260.3 157.7,260.3 161.7,260.3 165.7,260.3 169.7,260.3 173.7,260.2 177.7,260.2 181.7,260.2 185.7,260.1 189.7,260.0 193.7,260.0 197.7,259.9 201.7,259.8 203.2,259.8 204.7,259.7 206.2,259.7 207.7,259.7 209.2,259.6 210.7,259.5 212.2,259.5 213.7,259.4 215.2,259.4 216.7,259.3 218.2,259.3 219.7,259.2 221.2,259.2 222.7,259.1 224.2,259.0 225.7,259.0 227.2,258.9 228.7,258.8 230.2,258.8 231.7,258.7 233.2,258.6 234.7,258.5 236.2,258.4 237.7,258.4 239.2,258.3 240.7,258.2 242.2,258.0 243.7,257.9 245.2,257.8 246.7,257.7 248.2,257.6 249.7,257.5 251.2,257.4 252.7,257.2 254.2,257.1 255.7,257.0 257.2,256.8 258.7,256.6 260.2,256.5 261.7,256.3 263.2,256.1 264.7,255.8 266.2,255.6 267.7,255.3 269.2,255.1 270.7,254.8 272.2,254.4 273.7,254.1 275.2,253.8 276.7,253.4 278.2,253.0 279.7,252.5 281.2,252.0 282.7,251.4 284.2,250.8 285.7,250.2 287.2,249.5 288.7,248.7 290.2,247.9 291.7,247.1 293.2,246.2 294.7,245.4 296.2,244.4 297.7,243.5 299.2,242.4 300.7,241.3 302.2,240.1 303.7,238.8 305.2,237.4 306.7,235.9 308.2,234.3 309.7,232.8 311.2,231.3 312.7,229.8 314.2,228.2 315.7,226.7 317.2,225.4 318.7,224.1 320.2,223.0 321.7,221.9 323.2,220.9 324.7,220.0 330,220.0 330,266 42.7,266 42.7,260.5Z" fill="#EC4B00"/>
<path d="M45.7,260.5 49.7,260.5 53.7,260.5 57.7,260.5 61.7,260.5 65.7,260.5 69.7,260.5 73.7,260.5 77.7,260.5 81.7,260.5 85.7,260.5 89.7,260.5 93.7,260.5 97.7,260.5 101.7,260.5 105.7,260.5 109.7,260.5 113.7,260.5 117.7,260.4 121.7,260.4 125.7,260.4 129.7,260.4 133.7,260.4 137.7,260.4 141.7,260.4 145.7,260.4 149.7,260.4 153.7,260.4 157.7,260.4 161.7,260.4 165.7,260.3 169.7,260.3 173.7,260.3 177.7,260.3 181.7,260.2 185.7,260.2 189.7,260.2 193.7,260.1 197.7,260.0 201.7,260.0 203.2,260.0 204.7,259.9 206.2,259.9 207.7,259.9 209.2,259.8 210.7,259.8 212.2,259.8 213.7,259.7 215.2,259.7 216.7,259.6 218.2,259.6 219.7,259.6 221.2,259.5 222.7,259.5 224.2,259.4 225.7,259.4 227.2,259.3 228.7,259.3 230.2,259.2 231.7,259.2 233.2,259.1 234.7,259.0 236.2,259.0 237.7,258.9 239.2,258.9 240.7,258.8 242.2,258.7 243.7,258.6 245.2,258.6 246.7,258.5 248.2,258.4 249.7,258.3 251.2,258.3 252.7,258.2 254.2,258.1 255.7,258.0 257.2,257.9 258.7,257.7 260.2,257.6 261.7,257.5 263.2,257.3 264.7,257.2 266.2,257.0 267.7,256.8 269.2,256.6 270.7,256.4 272.2,256.1 273.7,255.9 275.2,255.6 276.7,255.4 278.2,255.0 279.7,254.6 281.2,254.2 282.7,253.7 284.2,253.2 285.7,252.7 287.2,252.2 288.7,251.5 290.2,250.9 291.7,250.1 293.2,249.4 294.7,248.6 296.2,247.8 297.7,246.9 299.2,246.0 300.7,245.0 302.2,243.9 303.7,242.7 305.2,241.4 306.7,240.0 308.2,238.6 309.7,237.2 311.2,235.8 312.7,234.4 314.2,233.0 315.7,231.6 317.2,230.5 318.7,229.4 320.2,228.4 321.7,227.5 323.2,226.6 324.7,225.8 330,225.8 330,266 42.7,266 42.7,260.5Z" fill="#ED4400"/>
<path d="M45.7,260.5 49.7,260.5 53.7,260.5 57.7,260.5 61.7,260.5 65.7,260.5 69.7,260.5 73.7,260.5 77.7,260.5 81.7,260.5 85.7,260.5 89.7,260.5 93.7,260.5 97.7,260.5 101.7,260.5 105.7,260.5 109.7,260.5 113.7,260.5 117.7,260.5 121.7,260.5 125.7,260.4 129.7,260.4 133.7,260.4 137.7,260.4 141.7,260.4 145.7,260.4 149.7,260.4 153.7,260.4 157.7,260.4 161.7,260.4 165.7,260.4 169.7,260.4 173.7,260.4 177.7,260.3 181.7,260.3 185.7,260.3 189.7,260.2 193.7,260.2 197.7,260.1 201.7,260.1 203.2,260.1 204.7,260.1 206.2,260.0 207.7,260.0 209.2,260.0 210.7,260.0 212.2,259.9 213.7,259.9 215.2,259.9 216.7,259.8 218.2,259.8 219.7,259.8 221.2,259.7 222.7,259.7 224.2,259.7 225.7,259.6 227.2,259.6 228.7,259.5 230.2,259.5 231.7,259.4 233.2,259.4 234.7,259.4 236.2,259.3 237.7,259.3 239.2,259.2 240.7,259.2 242.2,259.1 243.7,259.1 245.2,259.0 246.7,259.0 248.2,258.9 249.7,258.9 251.2,258.8 252.7,258.7 254.2,258.7 255.7,258.6 257.2,258.5 258.7,258.4 260.2,258.3 261.7,258.2 263.2,258.1 264.7,258.0 266.2,257.9 267.7,257.7 269.2,257.6 270.7,257.4 272.2,257.2 273.7,257.0 275.2,256.8 276.7,256.6 278.2,256.3 279.7,256.0 281.2,255.7 282.7,255.3 284.2,254.9 285.7,254.4 287.2,253.9 288.7,253.4 290.2,252.8 291.7,252.2 293.2,251.5 294.7,250.8 296.2,250.0 297.7,249.3 299.2,248.4 300.7,247.5 302.2,246.5 303.7,245.3 305.2,244.1 306.7,242.8 308.2,241.5 309.7,240.2 311.2,238.9 312.7,237.6 314.2,236.3 315.7,235.1 317.2,234.1 318.7,233.1 320.2,232.2 321.7,231.4 323.2,230.7 324.7,230.1 330,230.1 330,266 42.7,266 42.7,260.5Z" fill="#EF3800"/>
<path d="M45.7,260.5 49.7,260.5 53.7,260.5 57.7,260.5 61.7,260.5 65.7,260.5 69.7,260.5 73.7,260.5 77.7,260.5 81.7,260.5 85.7,260.5 89.7,260.5 93.7,260.5 97.7,260.5 101.7,260.5 105.7,260.5 109.7,260.5 113.7,260.5 117.7,260.5 121.7,260.5 125.7,260.5 129.7,260.5 133.7,260.5 137.7,260.5 141.7,260.5 145.7,260.5 149.7,260.5 153.7,260.5 157.7,260.5 161.7,260.5 165.7,260.5 169.7,260.5 173.7,260.5 177.7,260.5 181.7,260.5 185.7,260.4 189.7,260.4 193.7,260.4 197.7,260.4 201.7,260.4 203.2,260.4 204.7,260.4 206.2,260.4 207.7,260.4 209.2,260.4 210.7,260.4 212.2,260.4 213.7,260.4 215.2,260.3 216.7,260.3 218.2,260.3 219.7,260.3 221.2,260.3 222.7,260.3 224.2,260.3 225.7,260.3 227.2,260.3 228.7,260.3 230.2,260.3 231.7,260.3 233.2,260.3 234.7,260.2 236.2,260.2 237.7,260.2 239.2,260.2 240.7,260.2 242.2,260.2 243.7,260.2 245.2,260.2 246.7,260.2 248.2,260.1 249.7,260.1 251.2,260.1 252.7,260.1 254.2,260.1 255.7,260.1 257.2,260.1 258.7,260.1 260.2,260.0 261.7,260.0 263.2,260.0 264.7,260.0 266.2,259.9 267.7,259.9 269.2,259.9 270.7,259.9 272.2,259.8 273.7,259.8 275.2,259.8 276.7,259.7 278.2,259.7 279.7,259.7 281.2,259.6 282.7,259.6 284.2,259.5 285.7,259.5 287.2,259.4 288.7,259.4 290.2,259.3 291.7,259.3 293.2,259.2 294.7,259.1 296.2,259.1 297.7,259.0 299.2,259.0 300.7,258.9 302.2,258.8 303.7,258.7 305.2,258.6 306.7,258.4 308.2,258.3 309.7,258.2 311.2,258.1 312.7,257.9 314.2,257.8 315.7,257.7 317.2,257.6 318.7,257.5 320.2,257.4 321.7,257.3 323.2,257.2 324.7,257.1 330,257.1 330,266 42.7,266 42.7,260.5Z" fill="#EF3500"/>
<path d="M45.7,260.5 49.7,260.5 53.7,260.5 57.7,260.5 61.7,260.5 65.7,260.5 69.7,260.5 73.7,260.5 77.7,260.5 81.7,260.5 85.7,260.5 89.7,260.5 93.7,260.5 97.7,260.5 101.7,260.5 105.7,260.5 109.7,260.5 113.7,260.5 117.7,260.5 121.7,260.5 125.7,260.5 129.7,260.5 133.7,260.5 137.7,260.5 141.7,260.5 145.7,260.5 149.7,260.5 153.7,260.5 157.7,260.5 161.7,260.5 165.7,260.5 169.7,260.5 173.7,260.5 177.7,260.5 181.7,260.5 185.7,260.5 189.7,260.5 193.7,260.5 197.7,260.5 201.7,260.5 203.2,260.5 204.7,260.5 206.2,260.5 207.7,260.5 209.2,260.5 210.7,260.5 212.2,260.5 213.7,260.5 215.2,260.5 216.7,260.5 218.2,260.5 219.7,260.5 221.2,260.4 222.7,260.4 224.2,260.4 225.7,260.4 227.2,260.4 228.7,260.4 230.2,260.4 231.7,260.4 233.2,260.4 234.7,260.4 236.2,260.4 237.7,260.4 239.2,260.4 240.7,260.4 242.2,260.4 243.7,260.4 245.2,260.4 246.7,260.4 248.2,260.4 249.7,260.4 251.2,260.4 252.7,260.4 254.2,260.4 255.7,260.4 257.2,260.4 258.7,260.4 260.2,260.4 261.7,260.4 263.2,260.4 264.7,260.3 266.2,260.3 267.7,260.3 269.2,260.3 270.7,260.3 272.2,260.3 273.7,260.3 275.2,260.3 276.7,260.3 278.2,260.3 279.7,260.3 281.2,260.2 282.7,260.2 284.2,260.2 285.7,260.2 287.2,260.2 288.7,260.2 290.2,260.2 291.7,260.1 293.2,260.1 294.7,260.1 296.2,260.1 297.7,260.1 299.2,260.1 300.7,260.0 302.2,260.0 303.7,260.0 305.2,259.9 306.7,259.9 308.2,259.9 309.7,259.8 311.2,259.8 312.7,259.8 314.2,259.7 315.7,259.7 317.2,259.7 318.7,259.6 320.2,259.6 321.7,259.6 323.2,259.6 324.7,259.5 330,259.5 330,266 42.7,266 42.7,260.5Z" fill="#F02C00"/>
</g>
<line x1="324.8" x2="324.8" y1="14.2" y2="260.7" stroke="#000" stroke-opacity="0.45" stroke-width="0.5"/>
<line x1="46.1" x2="324.85" y1="260.6" y2="260.6" stroke="#000" stroke-width="0.4"/>
<rect x="58.2" y="11.4" width="186.3" height="139.6" rx="0.5" fill="#fff" stroke="#444" stroke-width="0.85"/>
<path d="M96.20,126.00 L96.79,125.91 L97.39,125.82 L97.98,125.73 L98.57,125.64 L99.16,125.55 L99.75,125.43 L100.32,125.26 L100.87,125.04 L101.41,124.79 L101.95,124.52 L102.48,124.25 L102.98,123.94 L103.44,123.58 L103.84,123.15 L104.20,122.68 L104.56,122.20 L104.91,121.71 L105.26,121.22 L105.60,120.73 L105.91,120.22 L106.18,119.69 L106.43,119.15 L106.66,118.59 L106.88,118.04 L107.11,117.48 L107.34,116.93 L107.56,116.37 L107.76,115.81 L107.95,115.24 L108.12,114.66 L108.29,114.08 L108.45,113.51 L108.61,112.93 L108.78,112.35 L108.94,111.78 L109.10,111.20 L109.26,110.62 L109.42,110.04 L109.58,109.46 L109.73,108.88 L109.89,108.30 L110.04,107.72 L110.19,107.14 L110.34,106.56 L110.48,105.98 L110.61,105.39 L110.73,104.80 L110.84,104.21 L110.95,103.63 L111.07,103.04 L111.18,102.45 L111.29,101.86 L111.41,101.27 L111.52,100.68 L111.63,100.09 L111.74,99.50 L111.86,98.91 L111.97,98.32 L112.08,97.73 L112.19,97.14 L112.31,96.55 L112.42,95.96 L112.53,95.38 L112.65,94.79 L112.76,94.20 L112.87,93.61 L112.98,93.02 L113.10,92.43 L113.21,91.84 L113.32,91.25 L113.43,90.66 L113.55,90.07 L113.66,89.48 L113.77,88.89 L113.89,88.30 L114.00,87.71 L114.11,87.12 L114.22,86.54 L114.34,85.95 L114.45,85.36 L114.56,84.77 L114.68,84.18 L114.80,83.59 L114.95,83.01 L115.14,82.45 L115.35,81.89 L115.57,81.33 L115.79,80.77 L116.02,80.22 L116.26,79.67 L116.55,79.16 L116.89,78.69 L117.30,78.25 L117.72,77.83 L118.16,77.43 L118.62,77.10 L119.13,76.88 L119.68,76.80 L120.26,76.81 L120.85,76.88 L121.43,76.92 L121.97,76.86 L122.45,76.63 L122.90,76.28 L123.33,75.87 L123.73,75.43 L124.08,74.97 L124.36,74.46 L124.57,73.91 L124.75,73.34 L124.92,72.76 L125.09,72.19 L125.26,71.61 L125.42,71.03 L125.59,70.46 L125.76,69.88 L125.92,69.31 L126.09,68.73 L126.26,68.15 L126.43,67.58 L126.59,67.00 L126.76,66.42 L126.93,65.85 L127.10,65.27 L127.26,64.70 L127.43,64.12 L127.59,63.54 L127.75,62.96 L127.89,62.38 L128.02,61.80 L128.13,61.21 L128.23,60.62 L128.34,60.03 L128.45,59.43 L128.55,58.84 L128.66,58.25 L128.78,57.67 L128.90,57.08 L129.02,56.49 L129.15,55.90 L129.27,55.32 L129.40,54.73 L129.53,54.14 L129.65,53.56 L129.78,52.97 L129.90,52.38 L130.04,51.80 L130.18,51.22 L130.35,50.64 L130.54,50.08 L130.75,49.51 L130.96,48.95 L131.20,48.41 L131.49,47.90 L131.82,47.49 L132.19,47.27 L132.57,47.34 L132.93,47.65 L133.24,48.11 L133.49,48.64 L133.70,49.20 L133.89,49.77 L134.07,50.34 L134.23,50.92 L134.36,51.50 L134.47,52.09 L134.56,52.68 L134.66,53.27 L134.75,53.87 L134.84,54.46 L134.94,55.05 L135.03,55.65 L135.12,56.24 L135.22,56.83 L135.31,57.42 L135.41,58.01 L135.52,58.61 L135.63,59.20 L135.74,59.78 L135.85,60.37 L135.96,60.96 L136.07,61.55 L136.19,62.14 L136.30,62.73 L136.41,63.32 L136.52,63.91 L136.63,64.50 L136.74,65.09 L136.86,65.68 L136.97,66.27 L137.08,66.86 L137.19,67.45 L137.30,68.04 L137.42,68.63 L137.53,69.22 L137.64,69.81 L137.74,70.40 L137.85,70.99 L137.96,71.58 L138.07,72.17 L138.17,72.76 L138.28,73.35 L138.39,73.94 L138.50,74.53 L138.60,75.12 L138.71,75.71 L138.82,76.30 L138.93,76.89 L139.03,77.48 L139.14,78.07 L139.25,78.66 L139.37,79.25 L139.50,79.83 L139.64,80.42 L139.79,81.00 L139.93,81.58 L140.08,82.16 L140.22,82.74 L140.36,83.33 L140.48,83.92 L140.60,84.50 L140.72,85.09 L140.84,85.68 L140.96,86.27 L141.08,86.86 L141.20,87.44 L141.32,88.03 L141.44,88.62 L141.56,89.21 L141.67,89.80 L141.79,90.38 L141.92,90.97 L142.04,91.56 L142.19,92.14 L142.34,92.72 L142.51,93.30 L142.67,93.87 L142.84,94.45 L143.01,95.02 L143.17,95.60 L143.34,96.18 L143.51,96.75 L143.68,97.33 L143.87,97.90 L144.07,98.46 L144.30,99.02 L144.53,99.57 L144.77,100.12 L145.00,100.67 L145.24,101.22 L145.48,101.77 L145.73,102.32 L146.01,102.84 L146.34,103.33 L146.72,103.79 L147.12,104.23 L147.56,104.62 L148.05,104.95 L148.57,105.24 L149.11,105.49 L149.65,105.75 L150.20,106.00 L150.74,106.25 L151.29,106.49 L151.84,106.73 L152.39,106.97 L152.95,107.19 L153.50,107.43 L154.04,107.67 L154.54,107.96 L154.99,108.32 L155.37,108.76 L155.72,109.24 L156.05,109.74 L156.38,110.24 L156.71,110.74 L157.04,111.24 L157.37,111.74 L157.70,112.25 L158.02,112.75 L158.34,113.26 L158.64,113.78 L158.95,114.30 L159.25,114.82 L159.55,115.34 L159.85,115.85 L160.14,116.37 L160.44,116.89 L160.74,117.41 L161.05,117.93 L161.36,118.44 L161.69,118.94 L162.04,119.43 L162.41,119.90 L162.79,120.37 L163.16,120.83 L163.54,121.30 L163.92,121.76 L164.30,122.23 L164.70,122.67 L165.13,123.08 L165.60,123.43 L166.10,123.76 L166.61,124.07 L167.13,124.38 L167.65,124.68 L168.17,124.95 L168.72,125.17 L169.29,125.34 L169.87,125.47 L170.46,125.59 L171.05,125.70 L171.64,125.81 L172.23,125.88 L172.83,125.93 L173.43,125.97 L174.03,126.00 L174.63,126.03 L175.23,126.06 L175.83,126.08 L176.43,126.09 L177.03,126.10 L177.63,126.10 L178.23,126.10 L178.83,126.10 L179.43,126.10 L180.03,126.10 L180.63,126.10 L181.23,126.10 L181.83,126.10 L182.43,126.10 L183.03,126.10 L183.63,126.10 L184.23,126.10 L184.83,126.10 L185.43,126.10 L186.03,126.10 L186.63,126.10 L187.23,126.10 L187.83,126.10 L188.43,126.10 L189.03,126.10 L189.63,126.10 L190.23,126.10 L190.83,126.10 L191.43,126.10 L192.03,126.10 L192.63,126.10 L193.23,126.10 L193.83,126.10 L194.43,126.10 L195.03,126.10 L195.63,126.10 L196.23,126.10 L196.83,126.10 L197.43,126.10 L198.03,126.10 L198.63,126.10 L199.23,126.10 L199.83,126.10 L200.43,126.10 L201.03,126.10 L201.63,126.10 L202.23,126.10 L202.83,126.10 L203.43,126.10 L204.03,126.10 L204.63,126.10 L205.23,126.10 L205.83,126.10 L206.43,126.10 L207.03,126.10 L207.63,126.10 L208.23,126.10 L208.83,126.10 L209.43,126.10 L210.03,126.10 L210.63,126.10 L211.23,126.10 L211.83,126.10 L212.43,126.10 L213.03,126.10 L213.63,126.10 L214.23,126.10 L214.83,126.10 L215.43,126.10 L216.03,126.10 L216.63,126.10 L217.23,126.10 L217.83,126.10 L218.43,126.10 L219.03,126.10 L219.63,126.10 L220.23,126.10 L220.83,126.10 L221.43,126.10 L222.03,126.10 L222.63,126.10 L223.23,126.10 L223.83,126.10 L224.43,126.10 L225.03,126.10 L225.63,126.10 L226.23,126.10 L226.83,126.10 L227.43,126.10 L228.03,126.10 L228.63,126.10 L229.23,126.10 L229.83,126.10 L230.43,126.10 L231.03,126.10 L231.63,126.10 L232.23,126.10 L232.83,126.10 L233.43,126.10 L234.03,126.10 L234.63,126.10" fill="none" stroke="#4283D6" stroke-width="1.2" stroke-linejoin="round" stroke-linecap="butt"/>
<path d="M95.60,109.60 L95.70,109.01 L95.80,108.42 L95.90,107.82 L95.99,107.23 L96.09,106.64 L96.18,106.05 L96.27,105.45 L96.35,104.86 L96.43,104.26 L96.50,103.67 L96.58,103.07 L96.66,102.48 L96.74,101.88 L96.81,101.29 L96.89,100.69 L96.97,100.10 L97.05,99.50 L97.12,98.91 L97.20,98.31 L97.28,97.72 L97.36,97.12 L97.44,96.53 L97.51,95.93 L97.59,95.34 L97.67,94.74 L97.75,94.15 L97.82,93.56 L97.90,92.96 L97.98,92.37 L98.06,91.77 L98.13,91.18 L98.21,90.58 L98.29,89.99 L98.37,89.39 L98.44,88.80 L98.52,88.20 L98.60,87.61 L98.68,87.01 L98.75,86.42 L98.83,85.82 L98.91,85.23 L98.99,84.63 L99.06,84.04 L99.14,83.44 L99.21,82.84 L99.27,82.25 L99.32,81.65 L99.38,81.05 L99.43,80.46 L99.49,79.86 L99.54,79.26 L99.60,78.66 L99.65,78.07 L99.71,77.47 L99.76,76.87 L99.82,76.27 L99.87,75.68 L99.93,75.08 L99.98,74.48 L100.04,73.88 L100.09,73.29 L100.15,72.69 L100.20,72.09 L100.26,71.49 L100.31,70.90 L100.37,70.30 L100.42,69.70 L100.48,69.10 L100.53,68.51 L100.59,67.91 L100.64,67.31 L100.70,66.71 L100.75,66.12 L100.81,65.52 L100.86,64.92 L100.92,64.32 L100.97,63.73 L101.03,63.13 L101.08,62.53 L101.14,61.93 L101.19,61.34 L101.25,60.74 L101.30,60.14 L101.36,59.54 L101.42,58.95 L101.48,58.35 L101.56,57.76 L101.66,57.16 L101.76,56.57 L101.87,55.98 L101.97,55.39 L102.08,54.80 L102.19,54.21 L102.29,53.62 L102.40,53.03 L102.51,52.44 L102.61,51.85 L102.72,51.26 L102.83,50.67 L102.93,50.08 L103.04,49.49 L103.15,48.90 L103.25,48.31 L103.36,47.72 L103.47,47.13 L103.58,46.54 L103.70,45.95 L103.83,45.36 L103.96,44.78 L104.09,44.19 L104.22,43.61 L104.35,43.02 L104.48,42.44 L104.63,41.86 L104.80,41.29 L105.04,40.75 L105.33,40.25 L105.65,39.85 L105.98,39.68 L106.31,39.82 L106.64,40.20 L106.93,40.69 L107.17,41.23 L107.34,41.79 L107.48,42.38 L107.60,42.96 L107.72,43.55 L107.84,44.14 L107.96,44.73 L108.08,45.31 L108.20,45.90 L108.34,46.49 L108.48,47.07 L108.63,47.65 L108.79,48.23 L108.94,48.81 L109.10,49.39 L109.25,49.97 L109.41,50.55 L109.56,51.13 L109.72,51.71 L109.87,52.29 L110.03,52.87 L110.18,53.44 L110.34,54.02 L110.49,54.60 L110.65,55.18 L110.80,55.76 L110.96,56.34 L111.11,56.92 L111.27,57.50 L111.42,58.08 L111.58,58.66 L111.73,59.24 L111.89,59.82 L112.04,60.40 L112.19,60.98 L112.35,61.56 L112.50,62.14 L112.66,62.72 L112.81,63.30 L112.97,63.88 L113.12,64.46 L113.28,65.04 L113.43,65.62 L113.59,66.20 L113.74,66.78 L113.90,67.36 L114.05,67.94 L114.20,68.52 L114.36,69.10 L114.51,69.68 L114.65,70.26 L114.79,70.84 L114.93,71.43 L115.06,72.01 L115.20,72.60 L115.33,73.18 L115.47,73.77 L115.60,74.35 L115.74,74.94 L115.87,75.52 L116.01,76.11 L116.14,76.69 L116.28,77.27 L116.41,77.86 L116.55,78.44 L116.68,79.03 L116.82,79.61 L116.95,80.20 L117.09,80.78 L117.22,81.37 L117.36,81.95 L117.51,82.53 L117.68,83.10 L117.88,83.67 L118.10,84.23 L118.33,84.78 L118.55,85.34 L118.78,85.89 L119.01,86.45 L119.23,87.00 L119.46,87.56 L119.69,88.11 L119.91,88.67 L120.14,89.23 L120.37,89.78 L120.59,90.34 L120.82,90.89 L121.05,91.45 L121.27,92.00 L121.49,92.56 L121.70,93.12 L121.90,93.69 L122.09,94.26 L122.28,94.83 L122.48,95.40 L122.67,95.96 L122.86,96.53 L123.05,97.10 L123.24,97.67 L123.44,98.24 L123.63,98.81 L123.82,99.37 L124.01,99.94 L124.21,100.51 L124.41,101.07 L124.62,101.64 L124.83,102.20 L125.04,102.76 L125.26,103.32 L125.47,103.88 L125.68,104.44 L125.89,105.00 L126.11,105.56 L126.34,106.12 L126.58,106.66 L126.86,107.20 L127.15,107.72 L127.45,108.23 L127.79,108.71 L128.18,109.13 L128.64,109.46 L129.15,109.66 L129.66,109.69 L130.16,109.52 L130.62,109.20 L131.04,108.79 L131.41,108.33 L131.76,107.84 L132.10,107.36 L132.47,106.89 L132.87,106.45 L133.30,106.03 L133.75,105.65 L134.24,105.35 L134.78,105.13 L135.34,105.01 L135.91,105.00 L136.46,105.12 L136.99,105.35 L137.48,105.67 L137.92,106.06 L138.32,106.49 L138.70,106.96 L139.07,107.43 L139.40,107.92 L139.71,108.44 L139.99,108.97 L140.26,109.50 L140.53,110.04 L140.80,110.57 L141.08,111.11 L141.35,111.64 L141.62,112.18 L141.89,112.71 L142.16,113.25 L142.43,113.78 L142.72,114.31 L143.03,114.82 L143.37,115.30 L143.75,115.77 L144.14,116.23 L144.53,116.68 L144.92,117.14 L145.31,117.58 L145.73,118.01 L146.18,118.39 L146.67,118.71 L147.20,119.00 L147.73,119.27 L148.27,119.53 L148.81,119.79 L149.36,120.03 L149.91,120.26 L150.47,120.49 L151.03,120.71 L151.58,120.93 L152.14,121.16 L152.70,121.38 L153.26,121.59 L153.82,121.79 L154.39,121.97 L154.97,122.12 L155.55,122.27 L156.14,122.40 L156.72,122.52 L157.31,122.58 L157.90,122.58 L158.49,122.52 L159.08,122.43 L159.67,122.34 L160.27,122.24 L160.86,122.15 L161.45,122.05 L162.04,121.94 L162.62,121.80 L163.20,121.65 L163.78,121.48 L164.35,121.30 L164.93,121.13 L165.50,120.98 L166.09,120.86 L166.68,120.79 L167.27,120.75 L167.87,120.74 L168.47,120.77 L169.06,120.83 L169.65,120.93 L170.24,121.05 L170.82,121.19 L171.40,121.33 L171.98,121.50 L172.56,121.67 L173.13,121.84 L173.70,122.01 L174.28,122.19 L174.85,122.36 L175.42,122.54 L176.00,122.73 L176.57,122.91 L177.14,123.10 L177.71,123.29 L178.28,123.48 L178.85,123.66 L179.42,123.85 L179.99,124.04 L180.56,124.22 L181.13,124.41 L181.70,124.57 L182.28,124.71 L182.87,124.81 L183.47,124.90 L184.06,124.98 L184.65,125.07 L185.25,125.15 L185.84,125.23 L186.44,125.31 L187.03,125.39 L187.63,125.47 L188.22,125.56 L188.82,125.64 L189.41,125.71 L190.01,125.77 L190.60,125.81 L191.20,125.84 L191.80,125.85 L192.40,125.87 L193.00,125.89 L193.60,125.91 L194.20,125.93 L194.80,125.94 L195.40,125.96 L196.00,125.98 L196.60,126.00 L197.20,126.02 L197.80,126.03 L198.40,126.05 L199.00,126.07 L199.60,126.08 L200.20,126.09 L200.80,126.10 L201.40,126.10 L202.00,126.10 L202.60,126.10 L203.20,126.10 L203.80,126.10 L204.40,126.10 L205.00,126.10 L205.60,126.10 L206.20,126.10 L206.80,126.10 L207.40,126.10 L208.00,126.10 L208.60,126.10 L209.20,126.10 L209.80,126.10 L210.40,126.10 L211.00,126.10 L211.60,126.10 L212.20,126.10 L212.80,126.10 L213.40,126.10 L214.00,126.10 L214.60,126.10 L215.20,126.10 L215.80,126.10 L216.40,126.10 L217.00,126.10 L217.60,126.10 L218.20,126.10 L218.80,126.10 L219.40,126.10 L220.00,126.10 L220.60,126.10 L221.20,126.10 L221.80,126.10 L222.40,126.10 L223.00,126.10 L223.60,126.10 L224.20,126.10 L224.80,126.10 L225.40,126.10 L226.00,126.10 L226.60,126.10 L227.20,126.10 L227.80,126.10 L228.40,126.10 L229.00,126.10 L229.60,126.10 L230.20,126.10 L230.80,126.10 L231.40,126.10 L232.00,126.10 L232.60,126.10 L233.20,126.10 L233.80,126.10 L234.40,126.10" fill="none" stroke="#EBA91E" stroke-width="1.2" stroke-linejoin="round" stroke-linecap="butt"/>
<path d="M95.60,122.50 L95.72,121.91 L95.83,121.32 L95.95,120.73 L96.06,120.15 L96.18,119.56 L96.30,118.97 L96.41,118.38 L96.53,117.79 L96.65,117.20 L96.76,116.61 L96.88,116.02 L96.99,115.44 L97.11,114.85 L97.21,114.26 L97.32,113.67 L97.43,113.08 L97.53,112.49 L97.64,111.89 L97.75,111.30 L97.85,110.71 L97.96,110.12 L98.06,109.53 L98.17,108.94 L98.28,108.35 L98.38,107.76 L98.49,107.17 L98.59,106.58 L98.66,105.99 L98.72,105.39 L98.76,104.79 L98.79,104.19 L98.82,103.59 L98.84,102.99 L98.87,102.39 L98.90,101.79 L98.93,101.19 L98.96,100.60 L98.99,100.00 L99.02,99.40 L99.04,98.80 L99.07,98.20 L99.10,97.60 L99.13,97.00 L99.16,96.40 L99.19,95.80 L99.22,95.20 L99.25,94.60 L99.27,94.00 L99.30,93.40 L99.33,92.80 L99.36,92.21 L99.39,91.61 L99.42,91.01 L99.45,90.41 L99.47,89.81 L99.50,89.21 L99.53,88.61 L99.56,88.01 L99.59,87.41 L99.62,86.81 L99.65,86.21 L99.68,85.61 L99.70,85.01 L99.73,84.41 L99.76,83.81 L99.80,83.22 L99.84,82.62 L99.88,82.02 L99.93,81.42 L99.98,80.82 L100.03,80.23 L100.08,79.63 L100.13,79.03 L100.18,78.43 L100.23,77.83 L100.28,77.24 L100.33,76.64 L100.38,76.04 L100.43,75.44 L100.49,74.84 L100.54,74.25 L100.59,73.65 L100.64,73.05 L100.69,72.45 L100.74,71.85 L100.79,71.26 L100.84,70.66 L100.89,70.06 L100.94,69.46 L100.99,68.87 L101.04,68.27 L101.09,67.67 L101.14,67.07 L101.19,66.47 L101.24,65.88 L101.29,65.28 L101.34,64.68 L101.39,64.08 L101.44,63.48 L101.49,62.89 L101.54,62.29 L101.59,61.69 L101.64,61.09 L101.69,60.49 L101.74,59.90 L101.79,59.30 L101.84,58.70 L101.88,58.10 L101.92,57.50 L101.94,56.90 L101.97,56.30 L101.99,55.71 L102.02,55.11 L102.04,54.51 L102.06,53.91 L102.09,53.31 L102.11,52.71 L102.14,52.11 L102.16,51.51 L102.18,50.91 L102.21,50.31 L102.23,49.71 L102.26,49.11 L102.28,48.51 L102.30,47.91 L102.33,47.31 L102.35,46.71 L102.38,46.11 L102.40,45.51 L102.42,44.91 L102.45,44.31 L102.47,43.72 L102.50,43.12 L102.52,42.52 L102.54,41.92 L102.57,41.32 L102.59,40.72 L102.62,40.12 L102.64,39.52 L102.66,38.92 L102.69,38.32 L102.71,37.72 L102.74,37.12 L102.76,36.52 L102.78,35.92 L102.81,35.32 L102.83,34.72 L102.86,34.12 L102.89,33.52 L102.92,32.93 L102.97,32.33 L103.03,31.73 L103.09,31.13 L103.15,30.54 L103.21,29.94 L103.27,29.34 L103.33,28.74 L103.39,28.15 L103.44,27.55 L103.50,26.95 L103.56,26.36 L103.63,25.76 L103.70,25.17 L103.79,24.57 L103.89,23.98 L104.00,23.39 L104.11,22.80 L104.22,22.21 L104.37,21.64 L104.56,21.09 L104.81,20.67 L105.09,20.49 L105.38,20.65 L105.63,21.07 L105.82,21.61 L105.97,22.18 L106.09,22.77 L106.20,23.36 L106.30,23.95 L106.41,24.54 L106.50,25.13 L106.58,25.73 L106.65,26.32 L106.72,26.92 L106.78,27.51 L106.85,28.11 L106.92,28.71 L106.98,29.30 L107.05,29.90 L107.12,30.50 L107.19,31.09 L107.25,31.69 L107.32,32.28 L107.39,32.88 L107.46,33.48 L107.54,34.07 L107.61,34.67 L107.69,35.26 L107.77,35.86 L107.84,36.45 L107.92,37.05 L107.99,37.64 L108.07,38.24 L108.15,38.83 L108.22,39.43 L108.30,40.02 L108.38,40.62 L108.45,41.21 L108.53,41.81 L108.60,42.40 L108.68,43.00 L108.76,43.59 L108.83,44.19 L108.91,44.78 L108.98,45.38 L109.06,45.97 L109.14,46.57 L109.21,47.16 L109.29,47.76 L109.37,48.35 L109.44,48.95 L109.52,49.54 L109.59,50.14 L109.67,50.73 L109.75,51.33 L109.82,51.93 L109.90,52.52 L109.97,53.12 L110.05,53.71 L110.13,54.31 L110.20,54.90 L110.28,55.50 L110.36,56.09 L110.43,56.69 L110.52,57.28 L110.62,57.87 L110.75,58.45 L110.90,59.03 L111.06,59.61 L111.22,60.19 L111.38,60.77 L111.55,61.34 L111.71,61.92 L111.87,62.50 L112.04,63.08 L112.20,63.65 L112.37,64.23 L112.53,64.81 L112.69,65.38 L112.86,65.96 L113.02,66.54 L113.18,67.12 L113.35,67.69 L113.51,68.27 L113.67,68.85 L113.84,69.43 L114.00,70.00 L114.15,70.58 L114.30,71.16 L114.46,71.74 L114.61,72.33 L114.76,72.91 L114.91,73.49 L115.06,74.07 L115.22,74.65 L115.37,75.23 L115.52,75.81 L115.67,76.39 L115.82,76.97 L115.97,77.55 L116.13,78.13 L116.28,78.71 L116.43,79.29 L116.58,79.87 L116.73,80.45 L116.89,81.03 L117.04,81.61 L117.20,82.19 L117.40,82.75 L117.64,83.29 L117.92,83.82 L118.23,84.33 L118.54,84.84 L118.86,85.35 L119.18,85.86 L119.50,86.37 L119.81,86.88 L120.13,87.39 L120.43,87.90 L120.72,88.43 L120.98,88.97 L121.22,89.52 L121.46,90.07 L121.69,90.62 L121.93,91.17 L122.17,91.72 L122.40,92.27 L122.64,92.82 L122.88,93.38 L123.11,93.93 L123.35,94.48 L123.58,95.03 L123.81,95.59 L124.04,96.14 L124.27,96.70 L124.50,97.25 L124.73,97.80 L124.96,98.36 L125.20,98.91 L125.46,99.44 L125.77,99.94 L126.14,100.40 L126.54,100.84 L126.96,101.26 L127.39,101.69 L127.81,102.11 L128.25,102.53 L128.69,102.93 L129.16,103.30 L129.64,103.65 L130.13,104.00 L130.63,104.34 L131.12,104.68 L131.61,105.02 L132.10,105.37 L132.59,105.72 L133.07,106.07 L133.56,106.43 L134.04,106.79 L134.52,107.14 L135.01,107.49 L135.50,107.84 L135.99,108.18 L136.49,108.52 L136.99,108.85 L137.48,109.19 L137.98,109.53 L138.47,109.87 L138.98,110.19 L139.49,110.50 L140.02,110.78 L140.56,111.04 L141.10,111.30 L141.64,111.55 L142.19,111.81 L142.73,112.06 L143.27,112.32 L143.81,112.57 L144.36,112.83 L144.90,113.09 L145.43,113.36 L145.93,113.67 L146.40,114.04 L146.84,114.44 L147.26,114.86 L147.69,115.28 L148.13,115.68 L148.60,116.05 L149.09,116.38 L149.61,116.69 L150.13,116.99 L150.65,117.29 L151.17,117.59 L151.69,117.89 L152.21,118.19 L152.73,118.48 L153.26,118.77 L153.78,119.06 L154.31,119.34 L154.84,119.63 L155.37,119.92 L155.89,120.20 L156.43,120.46 L156.98,120.69 L157.54,120.89 L158.12,121.05 L158.70,121.21 L159.28,121.36 L159.86,121.52 L160.44,121.67 L161.02,121.83 L161.60,121.99 L162.17,122.15 L162.75,122.32 L163.32,122.50 L163.89,122.68 L164.47,122.85 L165.04,123.01 L165.63,123.13 L166.22,123.23 L166.81,123.31 L167.41,123.39 L168.00,123.47 L168.60,123.54 L169.19,123.62 L169.79,123.70 L170.38,123.78 L170.98,123.86 L171.57,123.93 L172.17,124.01 L172.76,124.09 L173.36,124.16 L173.95,124.23 L174.55,124.30 L175.15,124.37 L175.74,124.43 L176.34,124.49 L176.94,124.56 L177.53,124.62 L178.13,124.69 L178.73,124.75 L179.32,124.81 L179.92,124.88 L180.52,124.94 L181.11,125.00 L181.71,125.06 L182.31,125.12 L182.91,125.16 L183.50,125.21 L184.10,125.25 L184.70,125.29 L185.30,125.34 L185.90,125.38 L186.50,125.42 L187.09,125.46 L187.69,125.51 L188.29,125.55 L188.89,125.59 L189.49,125.63 L190.09,125.67 L190.69,125.70 L191.29,125.73 L191.89,125.75 L192.48,125.77 L193.08,125.78 L193.68,125.80 L194.28,125.82 L194.88,125.84 L195.48,125.86 L196.08,125.88 L196.68,125.90 L197.28,125.92 L197.88,125.93 L198.48,125.95 L199.08,125.97 L199.68,125.99 L200.28,126.00 L200.88,126.00 L201.48,126.00 L202.08,126.01 L202.68,126.01 L203.28,126.01 L203.88,126.01 L204.48,126.01 L205.08,126.01 L205.68,126.02 L206.28,126.02 L206.88,126.02 L207.48,126.02 L208.08,126.02 L208.68,126.02 L209.28,126.03 L209.88,126.03 L210.48,126.03 L211.08,126.03 L211.68,126.03 L212.28,126.04 L212.88,126.04 L213.48,126.04 L214.08,126.04 L214.68,126.04 L215.28,126.04 L215.88,126.05 L216.48,126.05 L217.08,126.05 L217.68,126.05 L218.28,126.05 L218.88,126.05 L219.48,126.06 L220.08,126.06 L220.68,126.06 L221.28,126.06 L221.88,126.06 L222.48,126.06 L223.08,126.07 L223.68,126.07 L224.28,126.07 L224.88,126.07 L225.48,126.07 L226.08,126.07 L226.68,126.08 L227.28,126.08 L227.88,126.08 L228.48,126.08 L229.08,126.08 L229.68,126.09 L230.28,126.09 L230.88,126.09 L231.48,126.09 L232.08,126.09 L232.68,126.09 L233.28,126.10 L233.88,126.10 L234.48,126.10" fill="none" stroke="#CC2F2F" stroke-width="1.2" stroke-linejoin="round" stroke-linecap="butt"/>
<rect x="171.2" y="51.2" width="55.2" height="44.3" fill="#fff" stroke="#D9D9D9" stroke-width="0.6"/>
<rect x="175.6" y="59.20" width="9.7" height="9.3" rx="0.8" fill="#fff" stroke="#4283D6" stroke-width="1.0"/>
<rect x="175.6" y="70.30" width="9.7" height="9.3" rx="0.8" fill="#fff" stroke="#EBA91E" stroke-width="1.0"/>
<rect x="175.6" y="81.40" width="9.7" height="9.3" rx="0.8" fill="#fff" stroke="#CC2F2F" stroke-width="1.0"/>
<line x1="375.3" x2="685" y1="260.80" y2="260.80" stroke="#E9E9E9" stroke-width="0.8"/>
<line x1="375.3" x2="685" y1="217.48" y2="217.48" stroke="#F3F3F3" stroke-width="0.55"/>
<line x1="375.3" x2="685" y1="174.15" y2="174.15" stroke="#E9E9E9" stroke-width="0.8"/>
<line x1="375.3" x2="685" y1="130.82" y2="130.82" stroke="#F3F3F3" stroke-width="0.55"/>
<line x1="375.3" x2="685" y1="87.50" y2="87.50" stroke="#E9E9E9" stroke-width="0.8"/>
<line x1="375.3" x2="685" y1="44.17" y2="44.17" stroke="#F3F3F3" stroke-width="0.55"/>
<line x1="375.3" x2="685" y1="0.85" y2="0.85" stroke="#E9E9E9" stroke-width="0.8"/>
<line x1="389.60" x2="389.60" y1="0" y2="273" stroke="#E9E9E9" stroke-width="0.8"/>
<line x1="423.05" x2="423.05" y1="0" y2="273" stroke="#F3F3F3" stroke-width="0.6"/>
<line x1="456.50" x2="456.50" y1="0" y2="273" stroke="#E9E9E9" stroke-width="0.8"/>
<line x1="489.95" x2="489.95" y1="0" y2="273" stroke="#F3F3F3" stroke-width="0.6"/>
<line x1="523.40" x2="523.40" y1="0" y2="273" stroke="#E9E9E9" stroke-width="0.8"/>
<line x1="556.85" x2="556.85" y1="0" y2="273" stroke="#F3F3F3" stroke-width="0.6"/>
<line x1="590.30" x2="590.30" y1="0" y2="273" stroke="#E9E9E9" stroke-width="0.8"/>
<line x1="623.75" x2="623.75" y1="0" y2="273" stroke="#F3F3F3" stroke-width="0.6"/>
<line x1="657.20" x2="657.20" y1="0" y2="273" stroke="#E9E9E9" stroke-width="0.8"/>
<clipPath id="cc"><rect x="389.3" y="0" width="281.55" height="261.0"/></clipPath>
<g clip-path="url(#cc)" stroke="#141414" stroke-width="0.62" stroke-linejoin="round">
<path d="M389.6,257.4 390.6,257.7 391.6,257.9 392.6,258.2 393.6,258.4 394.6,258.6 395.6,258.8 396.6,259.0 397.6,259.2 398.6,259.4 399.6,259.5 400.6,259.7 401.6,259.8 402.6,259.9 403.6,260.0 404.6,260.1 405.6,260.1 406.6,260.2 407.6,260.2 408.6,260.2 409.6,260.1 410.6,260.1 411.6,260.1 412.6,260.0 413.6,259.9 414.6,259.8 415.6,259.7 416.6,259.6 417.6,259.5 418.6,259.4 419.6,259.2 420.6,259.0 421.6,258.8 422.6,258.6 423.6,258.4 424.6,258.2 425.6,258.1 426.6,257.9 427.6,257.8 428.6,257.6 429.6,257.5 430.6,257.3 431.6,257.2 432.6,257.1 433.6,257.0 434.6,256.9 435.6,256.8 436.6,256.7 437.6,256.6 438.6,256.5 439.6,256.3 440.6,256.2 441.6,256.1 442.6,256.0 443.6,255.9 444.6,255.7 445.6,255.6 446.6,255.5 447.6,255.4 448.6,255.3 449.6,255.1 450.6,255.0 451.6,254.9 452.6,254.8 453.6,254.7 454.6,254.6 455.6,254.5 456.6,254.4 457.6,254.2 458.6,254.0 459.6,253.8 460.6,253.6 461.6,253.3 462.6,253.1 463.6,252.9 464.6,252.7 465.6,252.5 466.6,252.2 467.6,252.0 468.6,251.7 469.6,251.5 470.6,251.3 471.6,251.0 472.6,250.8 473.6,250.5 474.6,250.3 475.6,250.1 476.6,249.8 477.6,249.6 478.6,249.3 479.6,249.1 480.6,248.8 481.6,248.6 482.6,248.4 483.6,248.1 484.6,247.9 485.6,247.6 486.6,247.4 487.6,247.1 488.6,246.9 489.6,246.6 490.6,246.4 491.6,246.1 492.6,245.9 493.6,245.6 494.6,245.3 495.6,245.1 496.6,244.8 497.6,244.4 498.6,243.9 499.6,243.5 500.6,243.1 501.6,242.6 502.6,242.1 503.6,241.6 504.6,240.9 505.6,240.2 506.6,239.4 507.6,238.7 508.6,237.9 509.6,237.1 510.6,236.3 511.6,235.3 512.6,234.3 513.6,233.4 514.6,232.4 515.6,231.4 516.6,230.4 517.6,229.4 518.6,228.5 519.6,227.5 520.6,226.6 521.6,225.6 522.6,224.7 523.6,223.8 524.6,223.0 525.6,222.3 526.6,221.6 527.6,220.8 528.6,220.0 529.6,219.2 530.6,218.4 531.6,217.6 532.6,216.9 533.6,216.1 534.6,215.4 535.6,214.6 536.6,213.9 537.6,213.2 538.6,212.6 539.6,212.0 540.6,211.3 541.6,210.7 542.6,210.1 543.6,209.4 544.6,208.6 545.6,207.7 546.6,206.8 547.6,206.0 548.6,205.1 549.6,204.2 550.6,203.4 551.6,202.6 552.6,201.9 553.6,201.1 554.6,200.4 555.6,199.6 556.6,198.8 557.6,198.0 558.6,197.0 559.6,196.0 560.6,195.1 561.6,194.1 562.6,193.1 563.6,192.1 564.6,191.3 565.6,190.5 566.6,189.8 567.6,189.0 568.6,188.3 569.6,187.5 570.6,186.7 571.6,185.5 572.6,184.3 573.6,183.0 574.6,181.7 575.6,180.5 576.6,179.3 577.6,178.2 578.6,177.0 579.6,175.9 580.6,174.6 581.6,173.3 582.6,172.0 583.6,170.7 584.6,169.4 585.6,168.1 586.6,166.9 587.6,165.7 588.6,164.5 589.6,163.3 590.6,162.1 591.6,161.0 592.6,159.8 593.6,158.7 594.6,157.5 595.6,156.2 596.6,154.8 597.6,153.4 598.6,152.0 599.6,150.5 600.6,148.8 601.6,147.0 602.6,145.2 603.6,143.3 604.6,141.4 605.6,139.4 606.6,137.4 607.6,135.3 608.6,132.8 609.6,130.1 610.6,127.4 611.6,124.7 612.6,122.0 613.6,119.3 614.6,116.7 615.6,114.1 616.6,111.6 617.6,109.1 618.6,106.9 619.6,104.9 620.6,102.8 621.6,100.8 622.6,98.5 623.6,96.2 624.6,93.8 625.6,91.4 626.6,88.7 627.6,85.9 628.6,83.0 629.6,80.1 630.6,77.6 631.6,75.6 632.6,73.8 633.6,72.0 634.6,70.1 635.6,68.2 636.6,66.2 637.6,64.2 638.6,62.1 639.6,59.8 640.6,57.4 641.6,54.9 642.6,52.6 643.6,50.3 644.6,48.2 645.6,46.2 646.6,44.6 647.6,43.1 648.6,41.6 649.6,40.1 650.6,38.3 651.6,36.0 652.6,33.4 653.6,30.8 654.6,28.5 655.6,27.0 656.6,26.0 657.6,25.7 658.6,26.2 659.6,27.0 660.6,27.8 661.6,28.2 662.6,28.0 663.6,27.5 664.6,26.7 665.6,25.1 666.6,23.1 667.6,20.9 668.6,18.8 669.6,16.6 670.6,15.0 670.7,14.3 676,14.3 676,266 386.6,266 386.6,257.4Z" fill="#DD8D29"/>
<path d="M389.6,257.4 390.6,257.7 391.6,257.9 392.6,258.2 393.6,258.4 394.6,258.6 395.6,258.8 396.6,259.0 397.6,259.2 398.6,259.4 399.6,259.5 400.6,259.7 401.6,259.8 402.6,259.9 403.6,260.0 404.6,260.1 405.6,260.1 406.6,260.2 407.6,260.2 408.6,260.2 409.6,260.2 410.6,260.1 411.6,260.1 412.6,260.0 413.6,260.0 414.6,259.9 415.6,259.8 416.6,259.7 417.6,259.5 418.6,259.4 419.6,259.2 420.6,259.0 421.6,258.8 422.6,258.6 423.6,258.4 424.6,258.2 425.6,258.1 426.6,257.9 427.6,257.8 428.6,257.6 429.6,257.5 430.6,257.4 431.6,257.2 432.6,257.1 433.6,257.0 434.6,256.9 435.6,256.8 436.6,256.7 437.6,256.6 438.6,256.5 439.6,256.4 440.6,256.3 441.6,256.1 442.6,256.0 443.6,255.9 444.6,255.8 445.6,255.7 446.6,255.5 447.6,255.4 448.6,255.3 449.6,255.2 450.6,255.1 451.6,255.0 452.6,254.8 453.6,254.7 454.6,254.6 455.6,254.5 456.6,254.4 457.6,254.2 458.6,254.0 459.6,253.8 460.6,253.6 461.6,253.4 462.6,253.2 463.6,252.9 464.6,252.7 465.6,252.5 466.6,252.3 467.6,252.0 468.6,251.8 469.6,251.5 470.6,251.3 471.6,251.1 472.6,250.8 473.6,250.6 474.6,250.3 475.6,250.1 476.6,249.9 477.6,249.6 478.6,249.4 479.6,249.1 480.6,248.9 481.6,248.6 482.6,248.4 483.6,248.2 484.6,247.9 485.6,247.7 486.6,247.4 487.6,247.2 488.6,246.9 489.6,246.7 490.6,246.4 491.6,246.2 492.6,245.9 493.6,245.7 494.6,245.4 495.6,245.1 496.6,244.8 497.6,244.4 498.6,244.0 499.6,243.6 500.6,243.1 501.6,242.7 502.6,242.2 503.6,241.7 504.6,241.0 505.6,240.3 506.6,239.5 507.6,238.8 508.6,238.0 509.6,237.3 510.6,236.4 511.6,235.5 512.6,234.5 513.6,233.5 514.6,232.6 515.6,231.6 516.6,230.6 517.6,229.6 518.6,228.7 519.6,227.8 520.6,226.8 521.6,225.9 522.6,224.9 523.6,224.0 524.6,223.3 525.6,222.6 526.6,221.9 527.6,221.1 528.6,220.3 529.6,219.5 530.6,218.7 531.6,218.0 532.6,217.2 533.6,216.5 534.6,215.8 535.6,215.0 536.6,214.3 537.6,213.6 538.6,213.0 539.6,212.4 540.6,211.8 541.6,211.1 542.6,210.5 543.6,209.9 544.6,209.1 545.6,208.2 546.6,207.3 547.6,206.5 548.6,205.6 549.6,204.7 550.6,203.9 551.6,203.1 552.6,202.4 553.6,201.7 554.6,200.9 555.6,200.2 556.6,199.4 557.6,198.6 558.6,197.6 559.6,196.6 560.6,195.7 561.6,194.7 562.6,193.7 563.6,192.8 564.6,191.9 565.6,191.2 566.6,190.4 567.6,189.7 568.6,188.9 569.6,188.2 570.6,187.3 571.6,186.2 572.6,184.9 573.6,183.6 574.6,182.4 575.6,181.2 576.6,180.0 577.6,178.9 578.6,177.7 579.6,176.6 580.6,175.3 581.6,174.0 582.6,172.7 583.6,171.4 584.6,170.1 585.6,168.8 586.6,167.6 587.6,166.4 588.6,165.2 589.6,164.0 590.6,162.9 591.6,161.7 592.6,160.6 593.6,159.4 594.6,158.2 595.6,157.0 596.6,155.6 597.6,154.2 598.6,152.8 599.6,151.3 600.6,149.6 601.6,147.8 602.6,146.0 603.6,144.2 604.6,142.2 605.6,140.2 606.6,138.2 607.6,136.1 608.6,133.7 609.6,131.0 610.6,128.3 611.6,125.6 612.6,122.9 613.6,120.2 614.6,117.6 615.6,115.0 616.6,112.4 617.6,110.0 618.6,107.8 619.6,105.8 620.6,103.7 621.6,101.7 622.6,99.4 623.6,97.1 624.6,94.7 625.6,92.3 626.6,89.7 627.6,86.8 628.6,83.9 629.6,81.0 630.6,78.5 631.6,76.5 632.6,74.7 633.6,72.9 634.6,71.1 635.6,69.1 636.6,67.1 637.6,65.1 638.6,63.0 639.6,60.7 640.6,58.3 641.6,55.9 642.6,53.5 643.6,51.3 644.6,49.1 645.6,47.2 646.6,45.5 647.6,44.0 648.6,42.5 649.6,41.0 650.6,39.3 651.6,37.0 652.6,34.4 653.6,31.8 654.6,29.5 655.6,27.9 656.6,27.0 657.6,26.7 658.6,27.2 659.6,28.0 660.6,28.7 661.6,29.1 662.6,29.0 663.6,28.5 664.6,27.7 665.6,26.1 666.6,24.0 667.6,21.9 668.6,19.8 669.6,17.6 670.6,16.0 670.7,15.3 676,15.3 676,266 386.6,266 386.6,257.4Z" fill="#DFAC17"/>
<path d="M389.6,257.4 390.6,257.7 391.6,257.9 392.6,258.2 393.6,258.4 394.6,258.6 395.6,258.8 396.6,259.0 397.6,259.2 398.6,259.4 399.6,259.5 400.6,259.7 401.6,259.8 402.6,259.9 403.6,260.0 404.6,260.1 405.6,260.1 406.6,260.2 407.6,260.2 408.6,260.2 409.6,260.2 410.6,260.1 411.6,260.1 412.6,260.1 413.6,260.1 414.6,260.1 415.6,260.0 416.6,260.0 417.6,260.0 418.6,259.9 419.6,259.9 420.6,259.8 421.6,259.7 422.6,259.6 423.6,259.6 424.6,259.6 425.6,259.5 426.6,259.5 427.6,259.5 428.6,259.5 429.6,259.4 430.6,259.4 431.6,259.4 432.6,259.4 433.6,259.3 434.6,259.3 435.6,259.3 436.6,259.3 437.6,259.3 438.6,259.2 439.6,259.2 440.6,259.1 441.6,259.1 442.6,259.0 443.6,258.9 444.6,258.9 445.6,258.8 446.6,258.7 447.6,258.6 448.6,258.5 449.6,258.5 450.6,258.4 451.6,258.3 452.6,258.2 453.6,258.2 454.6,258.1 455.6,258.0 456.6,257.9 457.6,257.8 458.6,257.7 459.6,257.6 460.6,257.5 461.6,257.3 462.6,257.2 463.6,257.1 464.6,256.9 465.6,256.8 466.6,256.7 467.6,256.6 468.6,256.4 469.6,256.3 470.6,256.2 471.6,256.0 472.6,255.9 473.6,255.8 474.6,255.6 475.6,255.5 476.6,255.3 477.6,255.1 478.6,254.9 479.6,254.7 480.6,254.5 481.6,254.3 482.6,254.1 483.6,253.9 484.6,253.7 485.6,253.6 486.6,253.4 487.6,253.2 488.6,253.0 489.6,252.8 490.6,252.6 491.6,252.4 492.6,252.2 493.6,252.0 494.6,251.8 495.6,251.6 496.6,251.4 497.6,251.2 498.6,251.0 499.6,250.7 500.6,250.4 501.6,250.1 502.6,249.8 503.6,249.5 504.6,249.2 505.6,248.9 506.6,248.5 507.6,248.2 508.6,247.8 509.6,247.4 510.6,247.0 511.6,246.6 512.6,246.2 513.6,245.8 514.6,245.4 515.6,245.1 516.6,244.7 517.6,244.3 518.6,244.0 519.6,243.6 520.6,243.3 521.6,242.9 522.6,242.6 523.6,242.2 524.6,241.9 525.6,241.6 526.6,241.3 527.6,241.0 528.6,240.8 529.6,240.5 530.6,240.2 531.6,239.9 532.6,239.6 533.6,239.3 534.6,238.9 535.6,238.6 536.6,238.2 537.6,237.8 538.6,237.5 539.6,237.1 540.6,236.6 541.6,236.0 542.6,235.4 543.6,234.8 544.6,234.2 545.6,233.5 546.6,232.9 547.6,232.1 548.6,231.3 549.6,230.4 550.6,229.5 551.6,228.6 552.6,227.8 553.6,226.8 554.6,225.7 555.6,224.4 556.6,223.2 557.6,222.1 558.6,221.1 559.6,220.0 560.6,218.9 561.6,217.7 562.6,216.6 563.6,215.6 564.6,214.6 565.6,213.5 566.6,212.5 567.6,211.5 568.6,210.5 569.6,209.5 570.6,208.6 571.6,207.6 572.6,206.4 573.6,205.2 574.6,203.8 575.6,202.5 576.6,201.2 577.6,199.9 578.6,198.9 579.6,197.9 580.6,196.8 581.6,195.8 582.6,194.7 583.6,193.4 584.6,192.1 585.6,190.8 586.6,189.5 587.6,188.2 588.6,187.0 589.6,185.9 590.6,184.7 591.6,183.5 592.6,182.4 593.6,181.1 594.6,179.6 595.6,178.0 596.6,176.3 597.6,174.5 598.6,172.8 599.6,171.0 600.6,169.2 601.6,167.4 602.6,165.5 603.6,163.5 604.6,161.5 605.6,159.5 606.6,157.5 607.6,155.5 608.6,153.5 609.6,151.4 610.6,149.2 611.6,146.6 612.6,144.0 613.6,141.4 614.6,139.0 615.6,136.5 616.6,134.2 617.6,132.0 618.6,129.9 619.6,127.8 620.6,125.6 621.6,123.5 622.6,121.3 623.6,119.1 624.6,116.8 625.6,114.2 626.6,111.4 627.6,108.4 628.6,105.1 629.6,102.2 630.6,100.2 631.6,98.6 632.6,96.9 633.6,95.4 634.6,93.9 635.6,92.5 636.6,91.1 637.6,89.3 638.6,87.1 639.6,84.8 640.6,82.5 641.6,80.1 642.6,77.6 643.6,75.3 644.6,73.4 645.6,71.8 646.6,70.2 647.6,68.7 648.6,67.2 649.6,65.8 650.6,64.3 651.6,62.8 652.6,61.2 653.6,59.5 654.6,57.7 655.6,56.0 656.6,54.5 657.6,53.7 658.6,53.4 659.6,53.4 660.6,53.3 661.6,53.2 662.6,52.9 663.6,52.6 664.6,52.1 665.6,51.4 666.6,50.5 667.6,49.1 668.6,46.8 669.6,44.1 670.6,42.0 670.7,41.1 676,41.1 676,266 386.6,266 386.6,257.4Z" fill="#E1CA05"/>
<path d="M389.6,257.4 390.6,257.7 391.6,257.9 392.6,258.2 393.6,258.4 394.6,258.6 395.6,258.8 396.6,259.0 397.6,259.2 398.6,259.4 399.6,259.5 400.6,259.7 401.6,259.8 402.6,259.9 403.6,260.0 404.6,260.1 405.6,260.1 406.6,260.2 407.6,260.2 408.6,260.2 409.6,260.2 410.6,260.1 411.6,260.1 412.6,260.1 413.6,260.1 414.6,260.1 415.6,260.0 416.6,260.0 417.6,260.0 418.6,259.9 419.6,259.9 420.6,259.8 421.6,259.7 422.6,259.6 423.6,259.6 424.6,259.6 425.6,259.5 426.6,259.5 427.6,259.5 428.6,259.5 429.6,259.4 430.6,259.4 431.6,259.4 432.6,259.4 433.6,259.3 434.6,259.3 435.6,259.3 436.6,259.3 437.6,259.3 438.6,259.2 439.6,259.2 440.6,259.1 441.6,259.1 442.6,259.0 443.6,258.9 444.6,258.9 445.6,258.8 446.6,258.7 447.6,258.6 448.6,258.5 449.6,258.5 450.6,258.4 451.6,258.3 452.6,258.2 453.6,258.2 454.6,258.1 455.6,258.0 456.6,257.9 457.6,257.8 458.6,257.7 459.6,257.6 460.6,257.5 461.6,257.4 462.6,257.2 463.6,257.1 464.6,257.0 465.6,256.9 466.6,256.7 467.6,256.6 468.6,256.5 469.6,256.4 470.6,256.2 471.6,256.1 472.6,256.0 473.6,255.9 474.6,255.7 475.6,255.6 476.6,255.4 477.6,255.3 478.6,255.1 479.6,254.9 480.6,254.8 481.6,254.6 482.6,254.4 483.6,254.3 484.6,254.1 485.6,253.9 486.6,253.8 487.6,253.6 488.6,253.4 489.6,253.3 490.6,253.1 491.6,253.0 492.6,252.8 493.6,252.6 494.6,252.5 495.6,252.3 496.6,252.2 497.6,252.0 498.6,251.8 499.6,251.5 500.6,251.2 501.6,250.9 502.6,250.7 503.6,250.4 504.6,250.1 505.6,249.8 506.6,249.4 507.6,249.1 508.6,248.7 509.6,248.3 510.6,247.9 511.6,247.5 512.6,247.1 513.6,246.6 514.6,246.3 515.6,245.9 516.6,245.5 517.6,245.2 518.6,244.9 519.6,244.5 520.6,244.2 521.6,243.9 522.6,243.5 523.6,243.2 524.6,242.9 525.6,242.7 526.6,242.4 527.6,242.2 528.6,241.9 529.6,241.7 530.6,241.4 531.6,241.1 532.6,240.8 533.6,240.6 534.6,240.3 535.6,240.0 536.6,239.7 537.6,239.3 538.6,238.9 539.6,238.5 540.6,238.1 541.6,237.7 542.6,237.3 543.6,236.8 544.6,236.3 545.6,235.8 546.6,235.3 547.6,234.8 548.6,234.3 549.6,233.8 550.6,233.2 551.6,232.5 552.6,231.8 553.6,231.0 554.6,230.3 555.6,229.5 556.6,228.8 557.6,228.1 558.6,227.4 559.6,226.7 560.6,226.1 561.6,225.4 562.6,224.5 563.6,223.5 564.6,222.5 565.6,221.4 566.6,220.3 567.6,219.2 568.6,218.1 569.6,217.1 570.6,216.1 571.6,215.1 572.6,214.1 573.6,213.1 574.6,212.2 575.6,211.4 576.6,210.6 577.6,209.8 578.6,208.9 579.6,207.7 580.6,206.5 581.6,205.1 582.6,203.8 583.6,202.5 584.6,201.3 585.6,200.3 586.6,199.2 587.6,198.2 588.6,197.2 589.6,196.0 590.6,194.8 591.6,193.5 592.6,192.3 593.6,191.0 594.6,189.5 595.6,188.0 596.6,186.4 597.6,184.8 598.6,183.2 599.6,181.5 600.6,179.6 601.6,177.5 602.6,175.6 603.6,173.7 604.6,171.9 605.6,170.1 606.6,168.2 607.6,166.3 608.6,164.3 609.6,162.3 610.6,160.3 611.6,158.3 612.6,156.3 613.6,154.3 614.6,152.3 615.6,150.2 616.6,148.0 617.6,145.8 618.6,143.6 619.6,141.4 620.6,139.1 621.6,136.8 622.6,134.7 623.6,132.7 624.6,130.8 625.6,128.9 626.6,127.0 627.6,124.7 628.6,122.3 629.6,119.8 630.6,117.4 631.6,115.3 632.6,113.4 633.6,111.4 634.6,109.6 635.6,107.8 636.6,106.0 637.6,104.1 638.6,102.1 639.6,100.1 640.6,98.1 641.6,96.2 642.6,94.3 643.6,92.5 644.6,90.8 645.6,89.3 646.6,87.9 647.6,86.5 648.6,85.3 649.6,84.0 650.6,82.8 651.6,81.5 652.6,80.3 653.6,78.9 654.6,77.5 655.6,76.0 656.6,74.6 657.6,73.6 658.6,73.2 659.6,72.9 660.6,72.7 661.6,72.5 662.6,72.2 663.6,71.9 664.6,71.2 665.6,70.3 666.6,69.2 667.6,67.9 668.6,66.1 669.6,64.0 670.6,62.5 670.7,61.8 676,61.8 676,266 386.6,266 386.6,257.4Z" fill="#AEC543"/>
<path d="M389.6,257.4 390.6,257.7 391.6,257.9 392.6,258.2 393.6,258.4 394.6,258.6 395.6,258.8 396.6,259.0 397.6,259.2 398.6,259.4 399.6,259.5 400.6,259.7 401.6,259.8 402.6,259.9 403.6,260.0 404.6,260.1 405.6,260.1 406.6,260.2 407.6,260.2 408.6,260.2 409.6,260.2 410.6,260.1 411.6,260.1 412.6,260.1 413.6,260.1 414.6,260.1 415.6,260.0 416.6,260.0 417.6,260.0 418.6,259.9 419.6,259.9 420.6,259.8 421.6,259.7 422.6,259.6 423.6,259.6 424.6,259.6 425.6,259.5 426.6,259.5 427.6,259.5 428.6,259.5 429.6,259.4 430.6,259.4 431.6,259.4 432.6,259.4 433.6,259.3 434.6,259.3 435.6,259.3 436.6,259.3 437.6,259.3 438.6,259.2 439.6,259.2 440.6,259.1 441.6,259.1 442.6,259.0 443.6,258.9 444.6,258.9 445.6,258.8 446.6,258.7 447.6,258.6 448.6,258.5 449.6,258.5 450.6,258.4 451.6,258.3 452.6,258.2 453.6,258.2 454.6,258.1 455.6,258.0 456.6,257.9 457.6,257.8 458.6,257.7 459.6,257.6 460.6,257.5 461.6,257.4 462.6,257.3 463.6,257.1 464.6,257.0 465.6,256.9 466.6,256.8 467.6,256.7 468.6,256.6 469.6,256.4 470.6,256.3 471.6,256.2 472.6,256.1 473.6,256.0 474.6,255.8 475.6,255.7 476.6,255.6 477.6,255.4 478.6,255.3 479.6,255.1 480.6,255.0 481.6,254.8 482.6,254.7 483.6,254.5 484.6,254.4 485.6,254.2 486.6,254.1 487.6,254.0 488.6,253.8 489.6,253.6 490.6,253.5 491.6,253.2 492.6,253.0 493.6,252.8 494.6,252.6 495.6,252.4 496.6,252.2 497.6,252.0 498.6,251.8 499.6,251.5 500.6,251.3 501.6,251.0 502.6,250.8 503.6,250.6 504.6,250.4 505.6,250.2 506.6,249.9 507.6,249.6 508.6,249.3 509.6,248.9 510.6,248.5 511.6,248.2 512.6,247.8 513.6,247.5 514.6,247.1 515.6,246.8 516.6,246.5 517.6,246.2 518.6,245.8 519.6,245.5 520.6,245.2 521.6,244.9 522.6,244.6 523.6,244.3 524.6,244.1 525.6,243.8 526.6,243.6 527.6,243.3 528.6,243.1 529.6,242.9 530.6,242.7 531.6,242.5 532.6,242.3 533.6,242.1 534.6,241.9 535.6,241.8 536.6,241.5 537.6,241.3 538.6,241.0 539.6,240.6 540.6,240.3 541.6,240.0 542.6,239.7 543.6,239.3 544.6,239.0 545.6,238.6 546.6,238.2 547.6,237.8 548.6,237.5 549.6,237.1 550.6,236.7 551.6,236.4 552.6,236.0 553.6,235.6 554.6,235.2 555.6,234.9 556.6,234.5 557.6,234.0 558.6,233.4 559.6,232.8 560.6,232.1 561.6,231.5 562.6,230.9 563.6,230.3 564.6,229.6 565.6,228.8 566.6,228.0 567.6,227.3 568.6,226.5 569.6,225.8 570.6,225.0 571.6,224.1 572.6,223.2 573.6,222.3 574.6,221.3 575.6,220.4 576.6,219.4 577.6,218.4 578.6,217.4 579.6,216.5 580.6,215.7 581.6,214.8 582.6,214.0 583.6,213.1 584.6,212.1 585.6,211.1 586.6,210.1 587.6,209.0 588.6,207.9 589.6,206.8 590.6,205.7 591.6,204.5 592.6,203.3 593.6,202.1 594.6,200.8 595.6,199.4 596.6,198.0 597.6,196.5 598.6,195.0 599.6,193.3 600.6,191.7 601.6,189.9 602.6,188.1 603.6,186.1 604.6,184.0 605.6,181.9 606.6,179.5 607.6,176.9 608.6,174.7 609.6,172.9 610.6,171.1 611.6,169.3 612.6,167.4 613.6,165.4 614.6,163.4 615.6,161.4 616.6,159.4 617.6,157.4 618.6,155.4 619.6,153.4 620.6,151.3 621.6,149.0 622.6,146.7 623.6,144.5 624.6,142.2 625.6,140.0 626.6,137.8 627.6,135.8 628.6,134.2 629.6,132.9 630.6,131.6 631.6,130.4 632.6,129.0 633.6,127.6 634.6,126.0 635.6,124.4 636.6,122.6 637.6,120.7 638.6,118.5 639.6,116.3 640.6,114.1 641.6,111.9 642.6,109.7 643.6,107.7 644.6,106.2 645.6,105.1 646.6,104.1 647.6,103.1 648.6,102.0 649.6,100.7 650.6,99.2 651.6,97.7 652.6,96.2 653.6,94.6 654.6,93.0 655.6,91.4 656.6,89.9 657.6,88.5 658.6,87.6 659.6,86.9 660.6,86.2 661.6,85.9 662.6,85.6 663.6,85.3 664.6,84.8 665.6,84.1 666.6,83.3 667.6,82.1 668.6,80.3 669.6,78.3 670.6,76.7 670.7,76.0 676,76.0 676,266 386.6,266 386.6,257.4Z" fill="#69B49C"/>
<path d="M389.6,260.7 390.6,260.7 391.6,260.7 392.6,260.7 393.6,260.7 394.6,260.7 395.6,260.7 396.6,260.7 397.6,260.7 398.6,260.7 399.6,260.7 400.6,260.7 401.6,260.7 402.6,260.7 403.6,260.7 404.6,260.7 405.6,260.7 406.6,260.7 407.6,260.7 408.6,260.6 409.6,260.6 410.6,260.6 411.6,260.5 412.6,260.5 413.6,260.4 414.6,260.3 415.6,260.3 416.6,260.2 417.6,260.1 418.6,260.0 419.6,260.0 420.6,259.9 421.6,259.8 422.6,259.7 423.6,259.7 424.6,259.7 425.6,259.6 426.6,259.6 427.6,259.6 428.6,259.6 429.6,259.5 430.6,259.5 431.6,259.5 432.6,259.5 433.6,259.4 434.6,259.4 435.6,259.4 436.6,259.4 437.6,259.4 438.6,259.3 439.6,259.3 440.6,259.2 441.6,259.2 442.6,259.1 443.6,259.0 444.6,259.0 445.6,258.9 446.6,258.8 447.6,258.7 448.6,258.6 449.6,258.6 450.6,258.5 451.6,258.4 452.6,258.3 453.6,258.3 454.6,258.2 455.6,258.1 456.6,258.0 457.6,257.9 458.6,257.8 459.6,257.7 460.6,257.6 461.6,257.5 462.6,257.4 463.6,257.3 464.6,257.2 465.6,257.1 466.6,256.9 467.6,256.8 468.6,256.7 469.6,256.6 470.6,256.5 471.6,256.4 472.6,256.3 473.6,256.2 474.6,256.0 475.6,255.9 476.6,255.8 477.6,255.6 478.6,255.5 479.6,255.3 480.6,255.2 481.6,255.0 482.6,254.9 483.6,254.7 484.6,254.6 485.6,254.4 486.6,254.3 487.6,254.2 488.6,254.0 489.6,253.8 490.6,253.7 491.6,253.4 492.6,253.2 493.6,253.0 494.6,252.8 495.6,252.5 496.6,252.3 497.6,252.1 498.6,251.9 499.6,251.6 500.6,251.4 501.6,251.2 502.6,251.0 503.6,250.7 504.6,250.5 505.6,250.3 506.6,250.0 507.6,249.7 508.6,249.4 509.6,249.1 510.6,248.8 511.6,248.5 512.6,248.1 513.6,247.8 514.6,247.5 515.6,247.2 516.6,247.0 517.6,246.7 518.6,246.4 519.6,246.2 520.6,245.9 521.6,245.7 522.6,245.4 523.6,245.2 524.6,245.0 525.6,244.8 526.6,244.6 527.6,244.4 528.6,244.2 529.6,243.9 530.6,243.8 531.6,243.6 532.6,243.4 533.6,243.3 534.6,243.1 535.6,242.9 536.6,242.8 537.6,242.5 538.6,242.3 539.6,242.0 540.6,241.8 541.6,241.5 542.6,241.3 543.6,241.0 544.6,240.8 545.6,240.7 546.6,240.5 547.6,240.3 548.6,240.1 549.6,239.9 550.6,239.7 551.6,239.5 552.6,239.2 553.6,239.0 554.6,238.7 555.6,238.5 556.6,238.2 557.6,238.0 558.6,237.8 559.6,237.6 560.6,237.4 561.6,237.2 562.6,237.0 563.6,236.8 564.6,236.5 565.6,236.2 566.6,235.8 567.6,235.4 568.6,235.0 569.6,234.7 570.6,234.2 571.6,233.7 572.6,233.0 573.6,232.4 574.6,231.8 575.6,231.2 576.6,230.5 577.6,229.9 578.6,229.3 579.6,228.7 580.6,228.0 581.6,227.4 582.6,226.8 583.6,226.1 584.6,225.3 585.6,224.4 586.6,223.5 587.6,222.6 588.6,221.7 589.6,220.7 590.6,219.8 591.6,218.8 592.6,217.8 593.6,216.8 594.6,215.9 595.6,214.9 596.6,213.9 597.6,213.0 598.6,212.1 599.6,211.2 600.6,210.3 601.6,209.5 602.6,208.6 603.6,207.7 604.6,207.0 605.6,206.3 606.6,205.6 607.6,204.9 608.6,204.2 609.6,203.5 610.6,202.8 611.6,202.1 612.6,201.3 613.6,200.5 614.6,199.7 615.6,198.9 616.6,198.1 617.6,197.3 618.6,196.5 619.6,195.7 620.6,194.9 621.6,193.9 622.6,192.9 623.6,191.9 624.6,190.9 625.6,189.9 626.6,188.9 627.6,187.9 628.6,186.9 629.6,185.9 630.6,184.9 631.6,183.9 632.6,182.9 633.6,181.9 634.6,180.9 635.6,179.9 636.6,179.0 637.6,178.0 638.6,176.9 639.6,175.8 640.6,174.6 641.6,173.5 642.6,172.6 643.6,171.8 644.6,171.2 645.6,170.5 646.6,169.8 647.6,169.0 648.6,168.0 649.6,167.0 650.6,166.1 651.6,165.1 652.6,164.1 653.6,163.1 654.6,162.1 655.6,161.0 656.6,160.1 657.6,159.2 658.6,158.6 659.6,158.1 660.6,157.6 661.6,157.1 662.6,156.5 663.6,155.8 664.6,155.0 665.6,154.2 666.6,153.2 667.6,151.7 668.6,150.2 669.6,148.6 670.6,147.3 670.7,146.8 676,146.8 676,266 386.6,266 386.6,260.7Z" fill="#69A49C"/>
<path d="M389.6,260.7 390.6,260.7 391.6,260.7 392.6,260.7 393.6,260.7 394.6,260.7 395.6,260.7 396.6,260.7 397.6,260.7 398.6,260.7 399.6,260.7 400.6,260.7 401.6,260.7 402.6,260.7 403.6,260.7 404.6,260.7 405.6,260.7 406.6,260.7 407.6,260.7 408.6,260.6 409.6,260.6 410.6,260.6 411.6,260.5 412.6,260.5 413.6,260.4 414.6,260.3 415.6,260.3 416.6,260.2 417.6,260.1 418.6,260.0 419.6,260.0 420.6,259.9 421.6,259.8 422.6,259.7 423.6,259.7 424.6,259.7 425.6,259.6 426.6,259.6 427.6,259.6 428.6,259.6 429.6,259.5 430.6,259.5 431.6,259.5 432.6,259.5 433.6,259.4 434.6,259.4 435.6,259.4 436.6,259.4 437.6,259.4 438.6,259.3 439.6,259.3 440.6,259.3 441.6,259.2 442.6,259.1 443.6,259.0 444.6,259.0 445.6,258.9 446.6,258.8 447.6,258.8 448.6,258.7 449.6,258.6 450.6,258.6 451.6,258.5 452.6,258.4 453.6,258.4 454.6,258.3 455.6,258.2 456.6,258.1 457.6,258.1 458.6,258.0 459.6,257.8 460.6,257.7 461.6,257.6 462.6,257.5 463.6,257.4 464.6,257.3 465.6,257.2 466.6,257.1 467.6,257.0 468.6,256.9 469.6,256.8 470.6,256.7 471.6,256.6 472.6,256.5 473.6,256.3 474.6,256.2 475.6,256.1 476.6,256.0 477.6,255.8 478.6,255.6 479.6,255.5 480.6,255.3 481.6,255.2 482.6,255.0 483.6,254.9 484.6,254.7 485.6,254.6 486.6,254.4 487.6,254.3 488.6,254.1 489.6,254.0 490.6,253.8 491.6,253.5 492.6,253.3 493.6,253.1 494.6,252.9 495.6,252.7 496.6,252.4 497.6,252.2 498.6,252.0 499.6,251.8 500.6,251.6 501.6,251.3 502.6,251.1 503.6,250.9 504.6,250.7 505.6,250.5 506.6,250.2 507.6,250.0 508.6,249.7 509.6,249.4 510.6,249.1 511.6,248.8 512.6,248.5 513.6,248.2 514.6,247.9 515.6,247.6 516.6,247.5 517.6,247.3 518.6,247.1 519.6,246.9 520.6,246.7 521.6,246.6 522.6,246.4 523.6,246.2 524.6,246.1 525.6,245.9 526.6,245.8 527.6,245.6 528.6,245.5 529.6,245.3 530.6,245.1 531.6,244.9 532.6,244.7 533.6,244.5 534.6,244.3 535.6,244.1 536.6,243.9 537.6,243.7 538.6,243.5 539.6,243.4 540.6,243.2 541.6,243.0 542.6,242.9 543.6,242.7 544.6,242.5 545.6,242.4 546.6,242.2 547.6,242.0 548.6,241.8 549.6,241.6 550.6,241.5 551.6,241.2 552.6,241.0 553.6,240.8 554.6,240.6 555.6,240.4 556.6,240.2 557.6,240.0 558.6,239.8 559.6,239.6 560.6,239.4 561.6,239.2 562.6,239.0 563.6,238.8 564.6,238.6 565.6,238.3 566.6,238.0 567.6,237.7 568.6,237.4 569.6,237.1 570.6,236.7 571.6,236.3 572.6,235.8 573.6,235.3 574.6,234.8 575.6,234.3 576.6,233.7 577.6,233.2 578.6,232.6 579.6,232.0 580.6,231.3 581.6,230.7 582.6,230.1 583.6,229.4 584.6,228.7 585.6,227.9 586.6,227.1 587.6,226.3 588.6,225.5 589.6,224.7 590.6,223.9 591.6,223.1 592.6,222.4 593.6,221.7 594.6,221.0 595.6,220.3 596.6,219.7 597.6,219.2 598.6,218.6 599.6,218.1 600.6,217.6 601.6,217.1 602.6,216.6 603.6,216.0 604.6,215.4 605.6,214.6 606.6,213.9 607.6,213.1 608.6,212.4 609.6,211.6 610.6,210.9 611.6,210.3 612.6,209.7 613.6,209.0 614.6,208.4 615.6,207.8 616.6,207.2 617.6,206.5 618.6,205.9 619.6,205.3 620.6,204.6 621.6,204.0 622.6,203.4 623.6,202.8 624.6,202.1 625.6,201.5 626.6,200.9 627.6,200.3 628.6,199.6 629.6,199.0 630.6,198.5 631.6,198.0 632.6,197.6 633.6,197.3 634.6,196.9 635.6,196.5 636.6,196.1 637.6,195.6 638.6,195.0 639.6,194.4 640.6,193.8 641.6,193.2 642.6,192.6 643.6,192.0 644.6,191.5 645.6,191.1 646.6,190.8 647.6,190.4 648.6,190.0 649.6,189.6 650.6,189.2 651.6,188.8 652.6,188.4 653.6,187.9 654.6,187.5 655.6,187.1 656.6,186.7 657.6,186.6 658.6,186.8 659.6,187.1 660.6,187.3 661.6,187.6 662.6,187.8 663.6,188.0 664.6,188.2 665.6,188.3 666.6,188.2 667.6,187.9 668.6,187.6 669.6,187.4 670.6,187.2 670.7,187.1 676,187.1 676,266 386.6,266 386.6,260.7Z" fill="#B09343"/>
<path d="M389.6,260.7 390.6,260.7 391.6,260.7 392.6,260.7 393.6,260.7 394.6,260.7 395.6,260.7 396.6,260.7 397.6,260.7 398.6,260.7 399.6,260.7 400.6,260.7 401.6,260.7 402.6,260.7 403.6,260.7 404.6,260.7 405.6,260.7 406.6,260.7 407.6,260.7 408.6,260.6 409.6,260.6 410.6,260.6 411.6,260.5 412.6,260.5 413.6,260.4 414.6,260.3 415.6,260.3 416.6,260.2 417.6,260.1 418.6,260.0 419.6,260.0 420.6,259.9 421.6,259.8 422.6,259.7 423.6,259.7 424.6,259.7 425.6,259.6 426.6,259.6 427.6,259.6 428.6,259.6 429.6,259.5 430.6,259.5 431.6,259.5 432.6,259.5 433.6,259.4 434.6,259.4 435.6,259.4 436.6,259.4 437.6,259.4 438.6,259.3 439.6,259.3 440.6,259.3 441.6,259.3 442.6,259.2 443.6,259.2 444.6,259.2 445.6,259.1 446.6,259.1 447.6,259.1 448.6,259.1 449.6,259.0 450.6,259.0 451.6,259.0 452.6,258.9 453.6,258.9 454.6,258.9 455.6,258.8 456.6,258.8 457.6,258.8 458.6,258.7 459.6,258.6 460.6,258.6 461.6,258.5 462.6,258.4 463.6,258.4 464.6,258.3 465.6,258.2 466.6,258.2 467.6,258.1 468.6,258.0 469.6,258.0 470.6,257.9 471.6,257.8 472.6,257.8 473.6,257.7 474.6,257.6 475.6,257.5 476.6,257.5 477.6,257.4 478.6,257.3 479.6,257.2 480.6,257.1 481.6,257.0 482.6,256.9 483.6,256.9 484.6,256.8 485.6,256.7 486.6,256.6 487.6,256.5 488.6,256.4 489.6,256.3 490.6,256.3 491.6,256.2 492.6,256.1 493.6,256.0 494.6,255.9 495.6,255.8 496.6,255.8 497.6,255.7 498.6,255.6 499.6,255.4 500.6,255.3 501.6,255.1 502.6,255.0 503.6,254.9 504.6,254.7 505.6,254.6 506.6,254.4 507.6,254.3 508.6,254.1 509.6,254.0 510.6,253.9 511.6,253.7 512.6,253.6 513.6,253.4 514.6,253.3 515.6,253.2 516.6,253.1 517.6,253.0 518.6,252.9 519.6,252.8 520.6,252.7 521.6,252.6 522.6,252.5 523.6,252.4 524.6,252.3 525.6,252.2 526.6,252.1 527.6,252.0 528.6,251.9 529.6,251.8 530.6,251.7 531.6,251.6 532.6,251.5 533.6,251.4 534.6,251.3 535.6,251.2 536.6,251.1 537.6,251.0 538.6,250.9 539.6,250.8 540.6,250.7 541.6,250.6 542.6,250.5 543.6,250.4 544.6,250.3 545.6,250.2 546.6,250.1 547.6,250.0 548.6,249.9 549.6,249.9 550.6,249.8 551.6,249.8 552.6,249.7 553.6,249.7 554.6,249.6 555.6,249.6 556.6,249.5 557.6,249.5 558.6,249.5 559.6,249.5 560.6,249.4 561.6,249.4 562.6,249.4 563.6,249.4 564.6,249.4 565.6,249.4 566.6,249.4 567.6,249.5 568.6,249.5 569.6,249.5 570.6,249.4 571.6,249.3 572.6,249.1 573.6,249.0 574.6,248.9 575.6,248.9 576.6,249.0 577.6,249.0 578.6,248.9 579.6,248.8 580.6,248.7 581.6,248.5 582.6,248.4 583.6,248.3 584.6,248.2 585.6,248.1 586.6,248.0 587.6,247.8 588.6,247.6 589.6,247.4 590.6,247.2 591.6,247.0 592.6,246.8 593.6,246.6 594.6,246.4 595.6,246.1 596.6,245.8 597.6,245.4 598.6,245.0 599.6,244.7 600.6,244.5 601.6,244.2 602.6,244.0 603.6,243.8 604.6,243.5 605.6,243.2 606.6,242.9 607.6,242.6 608.6,242.3 609.6,242.0 610.6,241.7 611.6,241.4 612.6,241.1 613.6,240.8 614.6,240.5 615.6,240.2 616.6,239.9 617.6,239.6 618.6,239.3 619.6,239.0 620.6,238.7 621.6,238.4 622.6,238.1 623.6,237.8 624.6,237.5 625.6,237.3 626.6,237.0 627.6,236.7 628.6,236.4 629.6,236.1 630.6,235.8 631.6,235.6 632.6,235.3 633.6,235.0 634.6,234.8 635.6,234.5 636.6,234.2 637.6,233.9 638.6,233.5 639.6,233.0 640.6,232.6 641.6,232.2 642.6,231.8 643.6,231.4 644.6,231.1 645.6,231.0 646.6,230.9 647.6,230.8 648.6,230.6 649.6,230.5 650.6,230.4 651.6,230.2 652.6,230.0 653.6,229.8 654.6,229.6 655.6,229.4 656.6,229.3 657.6,229.2 658.6,229.3 659.6,229.5 660.6,229.6 661.6,229.8 662.6,229.9 663.6,230.1 664.6,230.2 665.6,230.3 666.6,230.4 667.6,230.4 668.6,230.4 669.6,230.4 670.6,230.4 670.7,230.4 676,230.4 676,266 386.6,266 386.6,260.7Z" fill="#E57F06"/>
<path d="M389.6,260.7 390.6,260.7 391.6,260.7 392.6,260.7 393.6,260.7 394.6,260.7 395.6,260.7 396.6,260.7 397.6,260.7 398.6,260.7 399.6,260.7 400.6,260.7 401.6,260.7 402.6,260.7 403.6,260.7 404.6,260.7 405.6,260.7 406.6,260.7 407.6,260.7 408.6,260.6 409.6,260.6 410.6,260.6 411.6,260.5 412.6,260.5 413.6,260.4 414.6,260.3 415.6,260.3 416.6,260.2 417.6,260.1 418.6,260.0 419.6,260.0 420.6,259.9 421.6,259.8 422.6,259.7 423.6,259.7 424.6,259.7 425.6,259.6 426.6,259.6 427.6,259.6 428.6,259.6 429.6,259.5 430.6,259.5 431.6,259.5 432.6,259.5 433.6,259.4 434.6,259.4 435.6,259.4 436.6,259.4 437.6,259.4 438.6,259.3 439.6,259.3 440.6,259.3 441.6,259.3 442.6,259.2 443.6,259.2 444.6,259.2 445.6,259.1 446.6,259.1 447.6,259.1 448.6,259.1 449.6,259.0 450.6,259.0 451.6,259.0 452.6,258.9 453.6,258.9 454.6,258.9 455.6,258.8 456.6,258.8 457.6,258.8 458.6,258.7 459.6,258.6 460.6,258.6 461.6,258.5 462.6,258.4 463.6,258.4 464.6,258.3 465.6,258.2 466.6,258.2 467.6,258.1 468.6,258.0 469.6,258.0 470.6,257.9 471.6,257.8 472.6,257.8 473.6,257.7 474.6,257.6 475.6,257.5 476.6,257.5 477.6,257.4 478.6,257.3 479.6,257.2 480.6,257.1 481.6,257.0 482.6,256.9 483.6,256.9 484.6,256.8 485.6,256.7 486.6,256.6 487.6,256.5 488.6,256.4 489.6,256.3 490.6,256.3 491.6,256.2 492.6,256.1 493.6,256.0 494.6,255.9 495.6,255.8 496.6,255.8 497.6,255.7 498.6,255.6 499.6,255.4 500.6,255.3 501.6,255.1 502.6,255.0 503.6,254.9 504.6,254.7 505.6,254.6 506.6,254.4 507.6,254.3 508.6,254.1 509.6,254.0 510.6,253.9 511.6,253.7 512.6,253.6 513.6,253.4 514.6,253.3 515.6,253.2 516.6,253.1 517.6,253.0 518.6,252.9 519.6,252.8 520.6,252.7 521.6,252.6 522.6,252.5 523.6,252.4 524.6,252.3 525.6,252.2 526.6,252.1 527.6,252.0 528.6,251.9 529.6,251.8 530.6,251.7 531.6,251.6 532.6,251.5 533.6,251.4 534.6,251.3 535.6,251.2 536.6,251.1 537.6,251.0 538.6,250.9 539.6,250.8 540.6,250.7 541.6,250.6 542.6,250.5 543.6,250.4 544.6,250.3 545.6,250.2 546.6,250.1 547.6,250.0 548.6,249.9 549.6,249.9 550.6,249.8 551.6,249.8 552.6,249.7 553.6,249.7 554.6,249.6 555.6,249.6 556.6,249.5 557.6,249.5 558.6,249.5 559.6,249.5 560.6,249.5 561.6,249.5 562.6,249.5 563.6,249.5 564.6,249.5 565.6,249.6 566.6,249.6 567.6,249.7 568.6,249.7 569.6,249.8 570.6,249.8 571.6,249.7 572.6,249.7 573.6,249.6 574.6,249.6 575.6,249.5 576.6,249.5 577.6,249.4 578.6,249.4 579.6,249.3 580.6,249.2 581.6,249.1 582.6,248.9 583.6,248.8 584.6,248.7 585.6,248.6 586.6,248.5 587.6,248.4 588.6,248.2 589.6,248.0 590.6,247.8 591.6,247.6 592.6,247.4 593.6,247.2 594.6,246.9 595.6,246.7 596.6,246.5 597.6,246.2 598.6,245.9 599.6,245.7 600.6,245.4 601.6,245.2 602.6,244.9 603.6,244.7 604.6,244.4 605.6,244.2 606.6,243.9 607.6,243.7 608.6,243.4 609.6,243.1 610.6,242.9 611.6,242.6 612.6,242.4 613.6,242.2 614.6,242.0 615.6,241.8 616.6,241.6 617.6,241.4 618.6,241.2 619.6,241.0 620.6,240.8 621.6,240.7 622.6,240.6 623.6,240.5 624.6,240.4 625.6,240.4 626.6,240.3 627.6,240.2 628.6,240.1 629.6,240.0 630.6,239.9 631.6,239.8 632.6,239.7 633.6,239.6 634.6,239.5 635.6,239.4 636.6,239.3 637.6,239.2 638.6,239.0 639.6,238.8 640.6,238.6 641.6,238.4 642.6,238.2 643.6,238.0 644.6,237.8 645.6,237.7 646.6,237.6 647.6,237.5 648.6,237.3 649.6,237.2 650.6,237.1 651.6,237.0 652.6,236.9 653.6,236.7 654.6,236.6 655.6,236.5 656.6,236.4 657.6,236.3 658.6,236.2 659.6,236.1 660.6,236.1 661.6,236.0 662.6,235.9 663.6,235.8 664.6,235.7 665.6,235.6 666.6,235.5 667.6,235.4 668.6,235.3 669.6,235.2 670.6,235.1 670.7,235.1 676,235.1 676,266 386.6,266 386.6,260.7Z" fill="#CA4412"/>
<path d="M389.6,260.7 390.6,260.7 391.6,260.7 392.6,260.7 393.6,260.7 394.6,260.7 395.6,260.7 396.6,260.7 397.6,260.7 398.6,260.7 399.6,260.7 400.6,260.7 401.6,260.7 402.6,260.7 403.6,260.7 404.6,260.7 405.6,260.7 406.6,260.7 407.6,260.7 408.6,260.6 409.6,260.6 410.6,260.6 411.6,260.6 412.6,260.6 413.6,260.5 414.6,260.5 415.6,260.5 416.6,260.4 417.6,260.4 418.6,260.3 419.6,260.3 420.6,260.2 421.6,260.1 422.6,260.0 423.6,260.0 424.6,260.0 425.6,259.9 426.6,259.9 427.6,259.9 428.6,259.9 429.6,259.8 430.6,259.8 431.6,259.8 432.6,259.8 433.6,259.7 434.6,259.7 435.6,259.7 436.6,259.7 437.6,259.7 438.6,259.6 439.6,259.6 440.6,259.6 441.6,259.5 442.6,259.5 443.6,259.5 444.6,259.4 445.6,259.4 446.6,259.3 447.6,259.3 448.6,259.2 449.6,259.2 450.6,259.2 451.6,259.1 452.6,259.1 453.6,259.0 454.6,259.0 455.6,259.0 456.6,258.9 457.6,258.9 458.6,258.8 459.6,258.8 460.6,258.7 461.6,258.6 462.6,258.6 463.6,258.5 464.6,258.4 465.6,258.4 466.6,258.3 467.6,258.3 468.6,258.2 469.6,258.1 470.6,258.1 471.6,258.0 472.6,257.9 473.6,257.9 474.6,257.8 475.6,257.7 476.6,257.7 477.6,257.6 478.6,257.5 479.6,257.4 480.6,257.3 481.6,257.2 482.6,257.1 483.6,257.1 484.6,257.0 485.6,256.9 486.6,256.8 487.6,256.7 488.6,256.6 489.6,256.5 490.6,256.5 491.6,256.4 492.6,256.3 493.6,256.2 494.6,256.1 495.6,256.0 496.6,256.0 497.6,255.9 498.6,255.8 499.6,255.6 500.6,255.5 501.6,255.3 502.6,255.2 503.6,255.1 504.6,254.9 505.6,254.8 506.6,254.6 507.6,254.5 508.6,254.3 509.6,254.2 510.6,254.1 511.6,253.9 512.6,253.8 513.6,253.6 514.6,253.5 515.6,253.4 516.6,253.3 517.6,253.2 518.6,253.1 519.6,253.0 520.6,252.9 521.6,252.8 522.6,252.7 523.6,252.6 524.6,252.5 525.6,252.4 526.6,252.3 527.6,252.2 528.6,252.1 529.6,252.0 530.6,251.9 531.6,251.8 532.6,251.7 533.6,251.6 534.6,251.5 535.6,251.4 536.6,251.3 537.6,251.2 538.6,251.1 539.6,251.0 540.6,250.9 541.6,250.8 542.6,250.7 543.6,250.6 544.6,250.5 545.6,250.4 546.6,250.3 547.6,250.2 548.6,250.1 549.6,250.1 550.6,250.0 551.6,250.0 552.6,250.0 553.6,249.9 554.6,249.9 555.6,249.9 556.6,249.8 557.6,249.8 558.6,249.8 559.6,249.8 560.6,249.8 561.6,249.8 562.6,249.8 563.6,249.8 564.6,249.9 565.6,249.9 566.6,250.0 567.6,250.0 568.6,250.1 569.6,250.2 570.6,250.2 571.6,250.1 572.6,250.0 573.6,250.0 574.6,249.9 575.6,249.9 576.6,249.8 577.6,249.7 578.6,249.7 579.6,249.6 580.6,249.5 581.6,249.4 582.6,249.3 583.6,249.2 584.6,249.1 585.6,249.0 586.6,248.9 587.6,248.8 588.6,248.7 589.6,248.6 590.6,248.5 591.6,248.4 592.6,248.3 593.6,248.2 594.6,248.1 595.6,248.0 596.6,247.9 597.6,247.8 598.6,247.7 599.6,247.6 600.6,247.5 601.6,247.4 602.6,247.3 603.6,247.2 604.6,247.0 605.6,246.9 606.6,246.7 607.6,246.5 608.6,246.4 609.6,246.2 610.6,246.0 611.6,245.9 612.6,245.8 613.6,245.7 614.6,245.6 615.6,245.5 616.6,245.5 617.6,245.4 618.6,245.3 619.6,245.3 620.6,245.2 621.6,245.1 622.6,245.1 623.6,245.0 624.6,244.9 625.6,244.9 626.6,244.8 627.6,244.8 628.6,244.7 629.6,244.6 630.6,244.5 631.6,244.4 632.6,244.3 633.6,244.2 634.6,244.1 635.6,244.0 636.6,243.9 637.6,243.7 638.6,243.6 639.6,243.5 640.6,243.4 641.6,243.3 642.6,243.2 643.6,243.0 644.6,242.9 645.6,242.8 646.6,242.6 647.6,242.5 648.6,242.4 649.6,242.2 650.6,242.1 651.6,242.0 652.6,241.9 653.6,241.7 654.6,241.6 655.6,241.5 656.6,241.4 657.6,241.3 658.6,241.2 659.6,241.1 660.6,241.1 661.6,241.0 662.6,240.9 663.6,240.8 664.6,240.7 665.6,240.6 666.6,240.5 667.6,240.4 668.6,240.3 669.6,240.2 670.6,240.1 670.7,240.1 676,240.1 676,266 386.6,266 386.6,260.7Z" fill="#B40F20"/>
</g>
<line x1="670.75" x2="670.75" y1="14.6" y2="260.9" stroke="#000" stroke-opacity="0.4" stroke-width="0.4"/>
<line x1="389.6" x2="670.9" y1="260.8" y2="260.8" stroke="#1a1a1a" stroke-opacity="0.6" stroke-width="0.4"/>
<rect x="440.5" y="50.50" width="11.8" height="11.88" fill="#DD8D29" stroke="#1a1a1a" stroke-width="0.35"/>
<rect x="440.5" y="62.38" width="11.8" height="11.88" fill="#DFAC17" stroke="#1a1a1a" stroke-width="0.35"/>
<rect x="440.5" y="74.26" width="11.8" height="11.88" fill="#E1CA05" stroke="#1a1a1a" stroke-width="0.35"/>
<rect x="440.5" y="86.14" width="11.8" height="11.88" fill="#AEC543" stroke="#1a1a1a" stroke-width="0.35"/>
<rect x="440.5" y="98.02" width="11.8" height="11.88" fill="#69B49C" stroke="#1a1a1a" stroke-width="0.35"/>
<rect x="440.5" y="109.90" width="11.8" height="11.88" fill="#69A49C" stroke="#1a1a1a" stroke-width="0.35"/>
<rect x="440.5" y="121.78" width="11.8" height="11.88" fill="#B09343" stroke="#1a1a1a" stroke-width="0.35"/>
<rect x="440.5" y="133.66" width="11.8" height="11.88" fill="#E57F06" stroke="#1a1a1a" stroke-width="0.35"/>
<rect x="440.5" y="145.54" width="11.8" height="11.88" fill="#CA4412" stroke="#1a1a1a" stroke-width="0.35"/>
<rect x="440.5" y="157.42" width="11.8" height="11.88" fill="#B40F20" stroke="#1a1a1a" stroke-width="0.35"/>
<line x1="440.3" x2="452.5" y1="50.50" y2="50.50" stroke="#222" stroke-width="0.8"/>
<line x1="440.3" x2="452.5" y1="62.38" y2="62.38" stroke="#222" stroke-width="0.8"/>
<line x1="440.3" x2="452.5" y1="74.26" y2="74.26" stroke="#222" stroke-width="0.8"/>
<line x1="440.3" x2="452.5" y1="86.14" y2="86.14" stroke="#222" stroke-width="0.8"/>
<line x1="440.3" x2="452.5" y1="98.02" y2="98.02" stroke="#222" stroke-width="0.8"/>
<line x1="440.3" x2="452.5" y1="109.90" y2="109.90" stroke="#222" stroke-width="0.8"/>
<line x1="440.3" x2="452.5" y1="121.78" y2="121.78" stroke="#222" stroke-width="0.8"/>
<line x1="440.3" x2="452.5" y1="133.66" y2="133.66" stroke="#222" stroke-width="0.8"/>
<line x1="440.3" x2="452.5" y1="145.54" y2="145.54" stroke="#222" stroke-width="0.8"/>
<line x1="440.3" x2="452.5" y1="157.42" y2="157.42" stroke="#222" stroke-width="0.8"/>
<line x1="440.3" x2="452.5" y1="169.30" y2="169.30" stroke="#222" stroke-width="0.8"/>
<g filter="url(#tb)">
<text x="29.00" y="263.10" font-size="6.15" text-anchor="end" fill="#4D4D4D">0</text>
<text x="29.00" y="198.40" font-size="6.15" text-anchor="end" fill="#4D4D4D">25000</text>
<text x="29.00" y="133.70" font-size="6.15" text-anchor="end" fill="#4D4D4D">50000</text>
<text x="29.00" y="69.00" font-size="6.15" text-anchor="end" fill="#4D4D4D">75000</text>
<text x="29.00" y="4.00" font-size="6.15" text-anchor="end" fill="#4D4D4D">100000</text>
<text x="85.50" y="281.00" font-size="6.1" text-anchor="middle" fill="#4D4D4D">1960</text>
<text x="163.90" y="281.00" font-size="6.1" text-anchor="middle" fill="#4D4D4D">1980</text>
<text x="242.30" y="281.00" font-size="6.1" text-anchor="middle" fill="#4D4D4D">2000</text>
<text x="320.70" y="281.00" font-size="6.1" text-anchor="middle" fill="#4D4D4D">2020</text>
<text x="5.30" y="136.90" font-size="7.54" text-anchor="middle" fill="#000" transform="rotate(-90 5.30 136.90)">Number of songs released per year</text>
<text x="86.20" y="18.05" font-size="6.1" text-anchor="end" fill="#4D4D4D">0.015</text>
<text x="86.20" y="55.15" font-size="6.1" text-anchor="end" fill="#4D4D4D">0.010</text>
<text x="86.20" y="91.75" font-size="6.1" text-anchor="end" fill="#4D4D4D">0.005</text>
<text x="86.20" y="128.35" font-size="6.1" text-anchor="end" fill="#4D4D4D">0.000</text>
<text x="118.20" y="138.90" font-size="6" text-anchor="middle" fill="#4D4D4D">100</text>
<text x="147.60" y="138.90" font-size="6" text-anchor="middle" fill="#4D4D4D">200</text>
<text x="177.00" y="138.90" font-size="6" text-anchor="middle" fill="#4D4D4D">300</text>
<text x="206.40" y="138.90" font-size="6" text-anchor="middle" fill="#4D4D4D">400</text>
<text x="235.80" y="138.90" font-size="6" text-anchor="middle" fill="#4D4D4D">500</text>
<text x="165.00" y="146.50" font-size="7.1" text-anchor="middle" fill="#000">N of artists in a genre</text>
<text x="68.40" y="73.10" font-size="7.3" text-anchor="middle" fill="#000" transform="rotate(-90 68.40 73.10)">Density</text>
<text x="189.70" y="66.35" font-size="5.55" text-anchor="start" fill="#222">10 genres</text>
<text x="189.70" y="77.45" font-size="5.55" text-anchor="start" fill="#222">100 genres</text>
<text x="189.70" y="88.55" font-size="5.55" text-anchor="start" fill="#222">mixed genres</text>
<text x="0" y="0" font-size="13" text-anchor="middle" fill="#000" transform="translate(229.80 28.90) scale(0.88 1.04)">A</text>
<text x="0" y="0" font-size="13" text-anchor="middle" fill="#111" transform="translate(297.30 28.50) scale(0.86 1.06)">B</text>
<text x="371.60" y="263.40" font-size="6" text-anchor="end" fill="#4D4D4D">0</text>
<text x="371.60" y="176.75" font-size="6" text-anchor="end" fill="#4D4D4D">10000</text>
<text x="371.60" y="90.10" font-size="6" text-anchor="end" fill="#4D4D4D">20000</text>
<text x="389.60" y="281.00" font-size="6.1" text-anchor="middle" fill="#4D4D4D">2000</text>
<text x="456.50" y="281.00" font-size="6.1" text-anchor="middle" fill="#4D4D4D">2005</text>
<text x="523.40" y="281.00" font-size="6.1" text-anchor="middle" fill="#4D4D4D">2010</text>
<text x="590.30" y="281.00" font-size="6.1" text-anchor="middle" fill="#4D4D4D">2015</text>
<text x="657.20" y="281.00" font-size="6.1" text-anchor="middle" fill="#4D4D4D">2020</text>
<text x="350.90" y="137.00" font-size="7.54" text-anchor="middle" fill="#000" transform="rotate(-90 350.90 137.00)">Number of songs released per year</text>
<text x="440.50" y="46.20" font-size="7.5" text-anchor="start" fill="#000">genre</text>
<text x="456.70" y="58.49" font-size="6" text-anchor="start" fill="#000">Blackgaze</text>
<text x="456.70" y="70.37" font-size="6" text-anchor="start" fill="#000">Chillwave</text>
<text x="456.70" y="82.25" font-size="6" text-anchor="start" fill="#000">Deconstructed club</text>
<text x="456.70" y="94.13" font-size="6" text-anchor="start" fill="#000">Drill</text>
<text x="456.70" y="106.01" font-size="6" text-anchor="start" fill="#000">Emo rap</text>
<text x="456.70" y="117.89" font-size="6" text-anchor="start" fill="#000">Funk ostenta&#231;&#227;o</text>
<text x="456.70" y="129.77" font-size="6" text-anchor="start" fill="#000">Future bass</text>
<text x="456.70" y="141.65" font-size="6" text-anchor="start" fill="#000">Gengetone</text>
<text x="456.70" y="153.53" font-size="6" text-anchor="start" fill="#000">Gqom</text>
<text x="456.70" y="165.41" font-size="6" text-anchor="start" fill="#000">Grime</text>
<text x="0" y="0" font-size="13" text-anchor="middle" fill="#111" transform="translate(634.20 28.60) scale(0.84 1.04)">C</text>
</g>
</svg>
</body></html>
